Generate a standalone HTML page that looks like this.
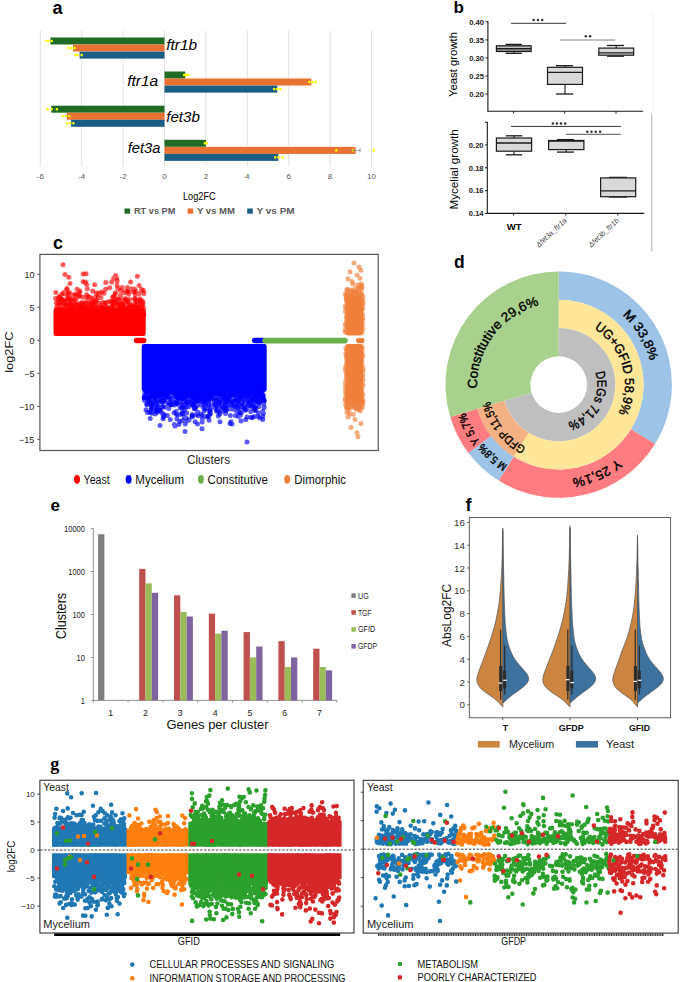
<!DOCTYPE html>
<html><head><meta charset="utf-8"><style>
html,body{margin:0;padding:0;background:#fff;overflow:hidden;}
svg{display:block;}
text{font-family:'Liberation Sans',sans-serif;}
</style></head><body>
<svg width="685" height="982" viewBox="0 0 685 982">
<rect width="685" height="982" fill="#fff"/>
<text x="52.6" y="14.2" font-size="18" font-weight="bold">a</text>
<line x1="40.3" y1="30.5" x2="40.3" y2="166.5" stroke="#d9d9d9" stroke-width="0.8"/>
<line x1="81.7" y1="30.5" x2="81.7" y2="166.5" stroke="#d9d9d9" stroke-width="0.8"/>
<line x1="123.1" y1="30.5" x2="123.1" y2="166.5" stroke="#d9d9d9" stroke-width="0.8"/>
<line x1="164.5" y1="30.5" x2="164.5" y2="166.5" stroke="#d9d9d9" stroke-width="0.8"/>
<line x1="205.9" y1="30.5" x2="205.9" y2="166.5" stroke="#d9d9d9" stroke-width="0.8"/>
<line x1="247.3" y1="30.5" x2="247.3" y2="166.5" stroke="#d9d9d9" stroke-width="0.8"/>
<line x1="288.7" y1="30.5" x2="288.7" y2="166.5" stroke="#d9d9d9" stroke-width="0.8"/>
<line x1="330.1" y1="30.5" x2="330.1" y2="166.5" stroke="#d9d9d9" stroke-width="0.8"/>
<line x1="371.5" y1="30.5" x2="371.5" y2="166.5" stroke="#d9d9d9" stroke-width="0.8"/>
<text x="40.3" y="179.3" font-size="8" text-anchor="middle" fill="#595959">-6</text>
<text x="81.7" y="179.3" font-size="8" text-anchor="middle" fill="#595959">-4</text>
<text x="123.1" y="179.3" font-size="8" text-anchor="middle" fill="#595959">-2</text>
<text x="164.5" y="179.3" font-size="8" text-anchor="middle" fill="#595959">0</text>
<text x="205.9" y="179.3" font-size="8" text-anchor="middle" fill="#595959">2</text>
<text x="247.3" y="179.3" font-size="8" text-anchor="middle" fill="#595959">4</text>
<text x="288.7" y="179.3" font-size="8" text-anchor="middle" fill="#595959">6</text>
<text x="330.1" y="179.3" font-size="8" text-anchor="middle" fill="#595959">8</text>
<text x="371.5" y="179.3" font-size="8" text-anchor="middle" fill="#595959">10</text>
<rect x="50.4" y="37.5" width="114.1" height="7.0" fill="#1f6b25"/>
<rect x="73.0" y="44.5" width="91.5" height="7.0" fill="#e97132"/>
<rect x="79.6" y="51.6" width="84.9" height="7.0" fill="#1a5e85"/>
<text x="166.2" y="49.7" font-size="13.8" font-style="italic" textLength="30.9" lengthAdjust="spacingAndGlyphs">ftr1b</text>
<rect x="164.5" y="71.5" width="20.7" height="7.0" fill="#1f6b25"/>
<rect x="164.5" y="78.5" width="146.8" height="7.0" fill="#e97132"/>
<rect x="164.5" y="85.6" width="112.8" height="7.0" fill="#1a5e85"/>
<text x="158.2" y="85.6" font-size="13.8" text-anchor="end" font-style="italic" textLength="31.0" lengthAdjust="spacingAndGlyphs">ftr1a</text>
<rect x="51.3" y="105.7" width="113.2" height="7.0" fill="#1f6b25"/>
<rect x="66.8" y="112.8" width="97.7" height="7.0" fill="#e97132"/>
<rect x="71.1" y="119.8" width="93.4" height="7.0" fill="#1a5e85"/>
<text x="166.2" y="121.7" font-size="13.8" font-style="italic" textLength="33.6" lengthAdjust="spacingAndGlyphs">fet3b</text>
<rect x="164.5" y="139.8" width="41.4" height="7.0" fill="#1f6b25"/>
<rect x="164.5" y="146.9" width="191.1" height="7.0" fill="#e97132"/>
<rect x="164.5" y="153.9" width="113.9" height="7.0" fill="#1a5e85"/>
<text x="160.3" y="153.2" font-size="13.8" text-anchor="end" font-style="italic" textLength="32.5" lengthAdjust="spacingAndGlyphs">fet3a</text>
<path d="M46.5 41.0h0M48.6 41.0h0M51.7 41.0h0M68.2 48.1h0M71.4 48.1h0M74.5 48.1h0M75.5 55.1h0M77.6 55.1h0M81.7 55.1h0M184.2 75.0h0M186.2 75.0h0M188.3 75.0h0M309.4 82.1h0M312.5 82.1h0M315.6 82.1h0M274.2 89.1h0M277.3 89.1h0M280.4 89.1h0M47.5 109.2h0M51.7 109.2h0M56.9 109.2h0M63.1 116.3h0M66.2 116.3h0M69.3 116.3h0M67.2 123.3h0M70.3 123.3h0M73.4 123.3h0M204.9 143.3h0M205.9 143.3h0M206.9 143.3h0M336.3 150.4h0M352.9 150.4h0M373.6 150.4h0M275.2 157.4h0M278.4 157.4h0M282.5 157.4h0" stroke="#ffff00" stroke-width="2.6" stroke-linecap="round" fill="none"/>
<line x1="350.8" y1="150.4" x2="360.1" y2="150.4" stroke="#7f7f7f" stroke-width="0.8"/>
<line x1="360.1" y1="148.4" x2="360.1" y2="152.4" stroke="#7f7f7f" stroke-width="0.8"/>
<text x="199.3" y="199.8" font-size="10.5" text-anchor="middle" textLength="32.6" lengthAdjust="spacingAndGlyphs">Log2FC</text>
<rect x="124.5" y="208.5" width="5.6" height="5.2" fill="#1f6b25"/>
<text x="134.0" y="214.3" font-size="8.8" font-weight="bold" fill="#595959" textLength="41.3" lengthAdjust="spacingAndGlyphs">RT vs PM</text>
<rect x="187.6" y="208.5" width="5.6" height="5.2" fill="#e97132"/>
<text x="197.0" y="214.3" font-size="8.8" font-weight="bold" fill="#595959" textLength="38" lengthAdjust="spacingAndGlyphs">Y vs MM</text>
<rect x="247.2" y="208.5" width="5.6" height="5.2" fill="#1a5e85"/>
<text x="256.6" y="214.3" font-size="8.8" font-weight="bold" fill="#595959" textLength="38" lengthAdjust="spacingAndGlyphs">Y  vs PM</text>
<text x="453.6" y="13.1" font-size="17" font-weight="bold">b</text>
<line x1="487.9" y1="21.3" x2="487.9" y2="111.6" stroke="#1a1a1a" stroke-width="1.1"/>
<line x1="487.4" y1="111.2" x2="643.0" y2="111.2" stroke="#1a1a1a" stroke-width="1.1"/>
<line x1="485.5" y1="21.8" x2="488.0" y2="21.8" stroke="#1a1a1a" stroke-width="1"/>
<text x="484.0" y="24.5" font-size="7.6" text-anchor="end" font-weight="bold" fill="#222">0.40</text>
<line x1="485.5" y1="39.9" x2="488.0" y2="39.9" stroke="#1a1a1a" stroke-width="1"/>
<text x="484.0" y="42.6" font-size="7.6" text-anchor="end" font-weight="bold" fill="#222">0.35</text>
<line x1="485.5" y1="57.9" x2="488.0" y2="57.9" stroke="#1a1a1a" stroke-width="1"/>
<text x="484.0" y="60.6" font-size="7.6" text-anchor="end" font-weight="bold" fill="#222">0.30</text>
<line x1="485.5" y1="76.0" x2="488.0" y2="76.0" stroke="#1a1a1a" stroke-width="1"/>
<text x="484.0" y="78.7" font-size="7.6" text-anchor="end" font-weight="bold" fill="#222">0.25</text>
<line x1="485.5" y1="94.0" x2="488.0" y2="94.0" stroke="#1a1a1a" stroke-width="1"/>
<text x="484.0" y="96.7" font-size="7.6" text-anchor="end" font-weight="bold" fill="#222">0.20</text>
<line x1="513.6" y1="111.0" x2="513.6" y2="113.6" stroke="#1a1a1a" stroke-width="1"/>
<line x1="564.6" y1="111.0" x2="564.6" y2="113.6" stroke="#1a1a1a" stroke-width="1"/>
<line x1="616.0" y1="111.0" x2="616.0" y2="113.6" stroke="#1a1a1a" stroke-width="1"/>
<text x="457.0" y="64.5" font-size="11.7" text-anchor="middle" textLength="65.2" lengthAdjust="spacingAndGlyphs" transform="rotate(-90 457.0 64.5)">Yeast growth</text>
<line x1="513.8" y1="44.4" x2="513.8" y2="45.8" stroke="#1a1a1a" stroke-width="1.1"/>
<line x1="513.8" y1="51.5" x2="513.8" y2="53.3" stroke="#1a1a1a" stroke-width="1.1"/>
<line x1="505.5" y1="44.4" x2="521.8" y2="44.4" stroke="#1a1a1a" stroke-width="1.3"/>
<line x1="505.5" y1="53.3" x2="521.8" y2="53.3" stroke="#1a1a1a" stroke-width="1.3"/>
<rect x="496.4" y="45.8" width="34.7" height="5.7" fill="#8f8f8f" stroke="#1a1a1a" stroke-width="1.2"/>
<line x1="496.4" y1="48.6" x2="531.1" y2="48.6" stroke="#1a1a1a" stroke-width="1.3"/>
<line x1="497.2" y1="47.3" x2="530.3" y2="47.3" stroke="#d8d8d8" stroke-width="0.9"/>
<line x1="565.0" y1="65.7" x2="565.0" y2="67.3" stroke="#1a1a1a" stroke-width="1.1"/>
<line x1="565.0" y1="84.4" x2="565.0" y2="94.0" stroke="#1a1a1a" stroke-width="1.1"/>
<line x1="556.0" y1="65.7" x2="573.0" y2="65.7" stroke="#1a1a1a" stroke-width="1.3"/>
<line x1="556.0" y1="94.0" x2="573.0" y2="94.0" stroke="#1a1a1a" stroke-width="1.3"/>
<rect x="547.5" y="67.3" width="35.0" height="17.1" fill="#d9d9d9" stroke="#1a1a1a" stroke-width="1.2"/>
<line x1="547.5" y1="72.3" x2="582.5" y2="72.3" stroke="#1a1a1a" stroke-width="1.3"/>
<line x1="616.2" y1="45.5" x2="616.2" y2="48.1" stroke="#1a1a1a" stroke-width="1.1"/>
<line x1="616.2" y1="55.2" x2="616.2" y2="56.2" stroke="#1a1a1a" stroke-width="1.1"/>
<line x1="607.0" y1="45.5" x2="624.0" y2="45.5" stroke="#1a1a1a" stroke-width="1.3"/>
<line x1="607.0" y1="56.2" x2="624.0" y2="56.2" stroke="#1a1a1a" stroke-width="1.3"/>
<rect x="598.8" y="48.1" width="34.9" height="7.1" fill="#d9d9d9" stroke="#1a1a1a" stroke-width="1.2"/>
<line x1="598.8" y1="52.8" x2="633.7" y2="52.8" stroke="#1a1a1a" stroke-width="1.3"/>
<line x1="511.0" y1="23.3" x2="566.0" y2="23.3" stroke="#333" stroke-width="1.0"/>
<line x1="560.0" y1="40.0" x2="615.3" y2="40.0" stroke="#808080" stroke-width="1.0"/>
<circle cx="533.6" cy="19.9" r="1.25" fill="#333"/>
<circle cx="538.0" cy="19.9" r="1.25" fill="#333"/>
<circle cx="542.2" cy="19.9" r="1.25" fill="#333"/>
<circle cx="585.8" cy="36.2" r="1.25" fill="#333"/>
<circle cx="590.1" cy="36.2" r="1.25" fill="#333"/>
<line x1="487.3" y1="122.0" x2="487.3" y2="213.8" stroke="#1a1a1a" stroke-width="1.1"/>
<line x1="486.8" y1="213.4" x2="644.3" y2="213.4" stroke="#1a1a1a" stroke-width="1.1"/>
<line x1="485.0" y1="122.2" x2="487.5" y2="122.2" stroke="#1a1a1a" stroke-width="1"/>
<line x1="485.0" y1="145.0" x2="487.5" y2="145.0" stroke="#1a1a1a" stroke-width="1"/>
<line x1="485.0" y1="167.8" x2="487.5" y2="167.8" stroke="#1a1a1a" stroke-width="1"/>
<line x1="485.0" y1="190.6" x2="487.5" y2="190.6" stroke="#1a1a1a" stroke-width="1"/>
<line x1="485.0" y1="213.4" x2="487.5" y2="213.4" stroke="#1a1a1a" stroke-width="1"/>
<text x="483.6" y="147.7" font-size="7.6" text-anchor="end" font-weight="bold" fill="#222">0.20</text>
<text x="483.6" y="170.5" font-size="7.6" text-anchor="end" font-weight="bold" fill="#222">0.18</text>
<text x="483.6" y="193.3" font-size="7.6" text-anchor="end" font-weight="bold" fill="#222">0.16</text>
<text x="483.6" y="216.1" font-size="7.6" text-anchor="end" font-weight="bold" fill="#222">0.14</text>
<line x1="513.6" y1="213.0" x2="513.6" y2="215.6" stroke="#1a1a1a" stroke-width="1"/>
<line x1="565.8" y1="213.0" x2="565.8" y2="215.6" stroke="#1a1a1a" stroke-width="1"/>
<line x1="617.8" y1="213.0" x2="617.8" y2="215.6" stroke="#1a1a1a" stroke-width="1"/>
<text x="457.9" y="169.4" font-size="11.7" text-anchor="middle" textLength="80.3" lengthAdjust="spacingAndGlyphs" transform="rotate(-90 457.9 169.4)">Mycelial growth</text>
<line x1="514.0" y1="135.8" x2="514.0" y2="138.0" stroke="#1a1a1a" stroke-width="1.1"/>
<line x1="514.0" y1="151.2" x2="514.0" y2="154.8" stroke="#1a1a1a" stroke-width="1.1"/>
<line x1="505.7" y1="135.8" x2="522.3" y2="135.8" stroke="#1a1a1a" stroke-width="1.3"/>
<line x1="505.7" y1="154.8" x2="522.3" y2="154.8" stroke="#1a1a1a" stroke-width="1.3"/>
<rect x="496.4" y="138.0" width="35.2" height="13.2" fill="#d9d9d9" stroke="#1a1a1a" stroke-width="1.2"/>
<line x1="496.4" y1="143.0" x2="531.6" y2="143.0" stroke="#1a1a1a" stroke-width="1.3"/>
<line x1="566.2" y1="139.6" x2="566.2" y2="140.5" stroke="#1a1a1a" stroke-width="1.1"/>
<line x1="566.2" y1="149.6" x2="566.2" y2="152.1" stroke="#1a1a1a" stroke-width="1.1"/>
<line x1="557.0" y1="139.6" x2="574.0" y2="139.6" stroke="#1a1a1a" stroke-width="1.3"/>
<line x1="557.0" y1="152.1" x2="574.0" y2="152.1" stroke="#1a1a1a" stroke-width="1.3"/>
<rect x="548.6" y="140.5" width="35.3" height="9.1" fill="#d9d9d9" stroke="#1a1a1a" stroke-width="1.2"/>
<line x1="548.6" y1="141.0" x2="583.9" y2="141.0" stroke="#1a1a1a" stroke-width="1.3"/>
<line x1="618.2" y1="177.4" x2="618.2" y2="177.9" stroke="#1a1a1a" stroke-width="1.1"/>
<line x1="618.2" y1="196.7" x2="618.2" y2="197.0" stroke="#1a1a1a" stroke-width="1.1"/>
<line x1="609.0" y1="177.4" x2="627.0" y2="177.4" stroke="#1a1a1a" stroke-width="1.3"/>
<line x1="609.0" y1="197.0" x2="627.0" y2="197.0" stroke="#1a1a1a" stroke-width="1.3"/>
<rect x="600.6" y="177.9" width="35.1" height="18.8" fill="#d9d9d9" stroke="#1a1a1a" stroke-width="1.2"/>
<line x1="600.6" y1="190.8" x2="635.7" y2="190.8" stroke="#1a1a1a" stroke-width="1.3"/>
<line x1="511.0" y1="126.4" x2="620.8" y2="126.4" stroke="#333" stroke-width="1.0"/>
<line x1="566.0" y1="134.3" x2="620.8" y2="134.3" stroke="#555" stroke-width="1.0"/>
<circle cx="552.9" cy="123.5" r="1.25" fill="#333"/>
<circle cx="556.9" cy="123.5" r="1.25" fill="#333"/>
<circle cx="561.0" cy="123.5" r="1.25" fill="#333"/>
<circle cx="565.2" cy="123.5" r="1.25" fill="#333"/>
<circle cx="587.3" cy="131.7" r="1.25" fill="#333"/>
<circle cx="591.5" cy="131.7" r="1.25" fill="#333"/>
<circle cx="595.7" cy="131.7" r="1.25" fill="#333"/>
<circle cx="600.1" cy="131.7" r="1.25" fill="#333"/>
<text x="514.2" y="230.2" font-size="9.5" text-anchor="middle" font-weight="bold">WT</text>
<text x="567.2" y="221.4" font-size="7.6" text-anchor="end" font-style="italic" fill="#444" textLength="38.5" lengthAdjust="spacingAndGlyphs" transform="rotate(-43 567.2 221.4)">Δfet3a_ftr1a</text>
<text x="619.4" y="221.4" font-size="7.6" text-anchor="end" font-style="italic" fill="#444" textLength="38.5" lengthAdjust="spacingAndGlyphs" transform="rotate(-43 619.4 221.4)">Δfet3b_ftr1b</text>
<line x1="651.8" y1="114.0" x2="651.8" y2="251.5" stroke="#b0b0b0" stroke-width="1"/>
<line x1="652.7" y1="12.0" x2="652.7" y2="113.0" stroke="#ececec" stroke-width="0.8"/>
<text x="53.0" y="248.5" font-size="18" font-weight="bold">c</text>
<rect x="53.5" y="308.6" width="92.2" height="27.5" rx="2.4" fill="#ff0000"/>
<path d="M81.9 312.5h0M94.7 284.7h0M68.5 293.5h0M114.9 313.1h0M130.2 314.5h0M92.4 302.9h0M118.9 309.1h0M85.3 312.1h0M63.7 300.9h0M64.2 310.5h0M76.2 311.1h0M122.4 312.3h0M134.5 311.5h0M79.6 296.5h0M94.1 311.0h0M112.1 307.5h0M72.9 307.0h0M103.9 309.8h0M128.2 312.7h0M100.8 308.9h0M66.5 300.6h0M91.4 303.0h0M66.4 307.0h0M61.9 310.3h0M90.0 314.9h0M123.7 313.6h0M86.6 284.4h0M85.0 313.2h0M61.3 310.1h0M72.1 308.7h0M118.9 299.6h0M91.3 304.8h0M96.2 295.7h0M77.2 306.6h0M92.3 304.1h0M117.7 312.2h0M129.7 304.8h0M95.3 312.1h0M56.7 311.8h0M75.8 313.2h0M84.6 305.0h0M110.8 307.8h0M64.3 304.4h0M111.1 306.5h0M106.1 306.3h0M59.6 305.9h0M120.4 310.8h0M99.5 313.5h0M136.9 313.5h0M95.0 311.3h0M96.2 299.8h0M78.3 312.1h0M83.1 305.9h0M135.1 314.2h0M101.2 312.8h0M118.7 312.2h0M96.4 293.0h0M100.9 314.6h0M90.4 313.7h0M141.5 313.6h0M90.7 312.8h0M105.8 282.4h0M109.5 314.5h0M80.0 291.0h0M75.1 303.1h0M84.6 305.0h0M125.7 315.1h0M113.5 297.7h0M98.2 311.6h0M87.3 288.7h0M83.8 308.4h0M75.9 313.1h0M74.2 315.2h0M80.0 310.7h0M125.2 298.7h0M133.5 292.0h0M94.4 314.6h0M93.5 308.1h0M124.9 312.7h0M81.1 308.4h0M67.4 306.4h0M135.0 314.0h0M83.7 306.4h0M132.2 310.6h0M130.0 313.3h0M58.1 314.3h0M129.7 314.7h0M62.9 301.5h0M120.4 290.4h0M134.4 305.9h0M113.4 296.8h0M62.2 299.5h0M80.8 314.9h0M140.3 302.5h0M61.4 305.5h0M130.3 313.1h0M61.3 310.9h0M137.3 311.6h0M79.5 313.9h0M70.3 304.2h0M74.6 307.9h0M110.8 307.4h0M129.1 314.2h0M138.7 306.9h0M134.3 314.2h0M84.4 307.2h0M127.3 301.1h0M68.9 310.5h0M101.4 313.7h0M70.1 310.9h0M115.2 298.7h0M118.2 310.3h0M103.7 308.0h0M137.1 313.3h0M85.0 303.1h0M133.8 310.1h0M70.1 312.3h0M129.2 307.9h0M127.2 312.2h0M84.1 311.5h0M143.5 290.6h0M101.7 292.0h0M142.6 312.6h0M84.4 305.7h0M80.7 308.7h0M65.8 308.7h0M83.1 281.8h0M65.7 312.8h0" stroke="#ff0000" stroke-width="5.0" stroke-linecap="round" fill="none" stroke-opacity="0.65"/>
<path d="M71.2 308.2h0M93.1 301.8h0M57.6 312.2h0M119.2 308.2h0M112.1 314.8h0M134.1 312.7h0M78.8 295.5h0M140.3 313.1h0M58.7 311.7h0M143.9 293.6h0M95.9 311.1h0M83.3 297.3h0M78.0 308.7h0M56.5 303.3h0M83.2 274.1h0M111.0 310.0h0M88.0 310.9h0M66.9 288.6h0M66.6 305.1h0M77.6 313.5h0M73.2 307.0h0M126.3 309.3h0M56.4 302.8h0M92.7 291.0h0M135.5 291.5h0M111.1 301.4h0M127.8 291.7h0M69.5 292.8h0M136.4 307.5h0M91.6 306.1h0M66.1 301.0h0M61.9 303.5h0M86.2 310.0h0M57.0 313.3h0M72.4 294.7h0M101.2 307.0h0M81.3 308.0h0M135.2 302.7h0M69.5 312.5h0M74.6 308.4h0M122.1 309.1h0M128.3 303.6h0M126.0 310.9h0M71.1 309.7h0M110.5 312.0h0M121.1 310.8h0M68.5 311.2h0M123.1 312.9h0M72.1 314.1h0M121.7 313.7h0M67.3 303.7h0M142.3 304.7h0M129.8 299.4h0M84.0 312.8h0M74.5 299.6h0M83.7 312.1h0M119.1 311.7h0M125.3 314.3h0M119.7 310.3h0M124.4 292.8h0M113.9 314.3h0M65.0 274.6h0M59.8 313.4h0M116.2 312.1h0M101.8 314.2h0M113.2 307.3h0M90.4 314.5h0M116.6 299.0h0M117.9 304.5h0M76.7 312.9h0M123.2 313.6h0M83.7 307.5h0M79.3 311.7h0M61.1 301.0h0M143.5 314.1h0M82.0 302.5h0M74.0 313.3h0M92.6 312.5h0M143.4 312.3h0M80.9 314.1h0M64.0 311.9h0M137.5 310.0h0M99.1 293.1h0M69.1 302.9h0M103.1 302.6h0M107.2 309.6h0M88.5 314.4h0M73.0 306.4h0M94.3 311.9h0M132.9 304.5h0M88.4 308.1h0M115.0 302.2h0M73.6 312.5h0M141.6 307.3h0M123.9 291.8h0M82.4 310.2h0M137.8 307.9h0M102.5 302.8h0M111.6 308.9h0M98.0 294.4h0M102.7 302.7h0M113.7 313.0h0M67.6 310.2h0M102.1 308.3h0M123.4 306.1h0M116.9 311.8h0M123.6 308.1h0M67.1 297.4h0M104.0 293.2h0M113.2 313.9h0M85.3 314.4h0M76.4 304.7h0M140.4 309.8h0M63.0 264.8h0M109.6 287.7h0M83.7 310.9h0M131.0 304.8h0M69.1 306.2h0" stroke="#ff0000" stroke-width="5.0" stroke-linecap="round" fill="none" stroke-opacity="0.65"/>
<path d="M57.9 313.9h0M132.7 313.1h0M101.5 307.0h0M71.5 303.1h0M82.8 307.3h0M140.5 311.1h0M77.2 308.5h0M130.2 312.6h0M138.4 313.8h0M91.5 305.4h0M72.6 314.2h0M96.6 313.0h0M88.2 307.6h0M61.7 299.0h0M125.6 302.2h0M85.0 312.4h0M79.4 293.0h0M61.1 309.2h0M127.4 287.4h0M88.3 313.7h0M104.9 302.9h0M141.6 289.4h0M117.0 285.0h0M57.9 304.6h0M135.4 294.4h0M99.8 314.6h0M60.2 313.0h0M63.9 314.1h0M71.0 305.4h0M122.7 314.6h0M63.4 314.8h0M113.6 278.4h0M125.4 311.1h0M67.1 305.2h0M69.0 310.5h0M85.2 314.2h0M96.2 310.0h0M116.3 310.9h0M113.4 303.0h0M79.4 294.0h0M120.3 313.0h0M120.6 303.2h0M74.8 307.0h0M73.0 304.2h0M88.1 296.8h0M128.4 314.8h0M106.3 309.3h0M117.7 313.2h0M123.8 309.1h0M95.2 310.5h0M70.4 313.4h0M142.4 300.9h0M111.7 282.0h0M113.0 301.5h0M113.1 313.0h0M110.0 309.6h0M124.1 306.0h0M89.1 303.4h0M78.9 305.9h0M133.5 307.5h0M133.1 306.9h0M88.9 313.7h0M96.4 307.2h0M76.0 299.0h0M112.3 309.0h0M136.0 312.8h0M96.0 313.3h0M57.2 307.1h0M76.4 311.7h0M73.3 311.1h0M115.1 311.1h0M65.7 309.7h0M57.0 308.6h0M84.5 315.2h0M75.2 309.9h0M97.6 315.1h0M92.7 313.8h0M135.8 306.9h0M141.9 306.0h0M115.5 292.8h0M58.6 300.9h0M71.3 299.2h0M66.2 306.6h0M77.2 304.7h0M59.3 296.6h0M137.1 300.8h0M117.7 315.1h0M124.2 308.9h0M90.9 311.6h0M78.8 309.6h0M63.1 315.0h0M64.9 308.0h0M71.5 312.6h0M128.5 292.6h0M103.1 307.6h0M61.6 309.6h0M107.0 312.9h0M116.7 303.1h0M123.7 309.7h0M96.0 301.2h0M114.3 312.6h0M136.8 305.1h0M74.9 312.9h0M87.4 311.4h0M75.3 295.1h0M125.8 312.1h0M68.8 297.7h0M105.1 312.0h0M62.9 311.2h0M116.6 278.1h0M128.0 314.7h0M139.2 293.4h0M121.1 306.2h0M133.3 310.9h0M128.7 294.2h0M93.2 311.7h0M115.6 275.6h0M64.7 313.2h0M137.4 276.3h0M111.4 313.5h0M73.8 312.8h0M133.8 312.0h0M132.6 308.3h0M91.5 313.3h0M59.0 302.0h0M62.4 313.7h0M76.2 312.4h0M99.7 314.4h0M142.6 313.2h0M74.5 312.8h0" stroke="#ff0000" stroke-width="5.0" stroke-linecap="round" fill="none" stroke-opacity="0.65"/>
<path d="M100.8 311.5h0M121.7 303.8h0M134.8 289.3h0M128.5 307.5h0M61.1 313.3h0M104.2 307.7h0M115.4 305.9h0M107.0 310.2h0M71.5 308.7h0M79.0 308.8h0M122.5 304.4h0M62.0 294.0h0M90.0 306.5h0M64.2 310.9h0M114.0 307.3h0M84.6 313.5h0M126.4 310.2h0M139.6 301.2h0M85.0 309.8h0M94.5 311.7h0M59.3 309.7h0M84.9 304.6h0M116.9 302.3h0M65.8 315.1h0M131.8 288.7h0M81.2 307.5h0M121.0 304.5h0M92.6 313.8h0M103.4 314.0h0M77.1 289.2h0M76.5 313.8h0M99.8 313.5h0M99.5 313.2h0M55.8 292.6h0M81.1 305.1h0M86.2 312.9h0M109.0 301.6h0M97.0 311.8h0M134.9 299.0h0M126.1 299.3h0M71.4 300.7h0M110.8 309.3h0M88.5 312.9h0M100.2 307.2h0M98.1 297.7h0M117.7 311.3h0M59.3 311.7h0M121.6 309.1h0M68.8 277.2h0M76.8 310.0h0M118.2 308.3h0M64.6 301.1h0M95.8 310.7h0M94.9 302.8h0M93.5 314.1h0M60.1 310.3h0M136.5 301.6h0M61.0 314.7h0M88.4 309.4h0M127.5 310.7h0M60.3 297.8h0M59.3 310.8h0M114.9 294.3h0M78.1 311.8h0M122.0 287.5h0M95.9 313.1h0M105.6 289.3h0M143.1 302.8h0M111.2 311.2h0M133.3 311.7h0M126.9 291.5h0M77.4 312.3h0M81.9 307.9h0M84.7 315.0h0M89.9 309.6h0M62.5 309.3h0M91.8 314.4h0M92.7 309.3h0M69.3 312.3h0M92.8 311.6h0M87.9 312.7h0M86.6 294.7h0M117.3 305.4h0M99.6 309.8h0M112.5 302.7h0M88.3 314.4h0M88.1 307.6h0M71.9 314.5h0M98.5 313.5h0M119.6 311.5h0M103.7 313.3h0M70.8 305.1h0M103.0 310.3h0M117.7 309.5h0M98.2 307.5h0M82.6 303.4h0M136.3 312.8h0M113.4 312.2h0M92.7 298.8h0M59.4 310.9h0M80.6 313.5h0M71.5 313.5h0M91.7 311.1h0M95.7 314.7h0M86.5 309.7h0M83.1 313.6h0M139.4 314.0h0M87.4 311.9h0M61.2 312.3h0M75.8 294.3h0M95.0 312.4h0M99.2 303.3h0M85.5 282.0h0M91.4 313.9h0M143.4 313.2h0M119.2 313.4h0M65.1 303.4h0M92.9 307.1h0M137.2 306.9h0M85.0 313.5h0M86.6 308.9h0M117.2 280.8h0M139.8 300.0h0M123.2 314.1h0M55.6 298.4h0M123.3 314.2h0M100.9 297.5h0M128.7 311.7h0M125.4 314.3h0M76.6 312.1h0M70.0 283.6h0" stroke="#ff0000" stroke-width="5.0" stroke-linecap="round" fill="none" stroke-opacity="0.65"/>
<path d="M58.6 310.1h0M101.3 309.9h0M139.7 309.1h0M103.0 312.0h0M95.7 313.3h0M89.0 299.9h0M74.9 312.0h0M94.9 306.6h0M94.9 307.5h0M77.1 312.5h0M83.7 311.1h0M140.6 300.2h0M127.7 311.5h0M79.9 311.6h0M131.0 306.5h0M108.0 307.5h0M62.5 315.0h0M126.5 313.5h0M56.3 309.0h0M120.6 306.6h0M122.4 315.2h0M58.2 313.4h0M86.1 273.8h0M80.9 312.6h0M107.8 308.9h0M64.8 292.0h0M96.5 314.5h0M59.6 303.0h0M105.8 313.2h0M100.4 313.5h0M59.3 298.4h0M72.7 314.6h0M77.2 312.6h0M67.4 310.7h0M90.8 297.6h0M95.3 313.5h0M130.6 282.0h0M124.1 310.0h0M70.5 308.6h0M139.7 313.9h0M86.4 306.9h0M135.5 314.5h0M58.5 297.8h0M139.1 285.4h0M140.6 312.2h0M123.1 300.9h0M89.0 297.0h0M137.4 313.2h0M67.0 289.7h0M125.0 301.1h0M61.4 313.4h0M113.0 304.5h0M120.6 297.7h0M80.8 304.9h0M102.6 308.6h0M75.1 312.2h0M143.7 307.8h0M113.3 314.7h0M94.6 305.5h0M124.9 309.1h0M129.1 314.8h0M102.1 315.0h0M79.1 303.6h0M117.9 310.1h0M130.2 310.8h0M135.5 312.1h0M117.8 288.3h0M72.6 311.0h0M123.1 308.4h0M96.0 305.6h0M120.4 295.6h0M65.8 293.8h0M68.7 313.8h0M60.3 311.4h0M113.3 312.2h0M102.4 311.0h0M143.9 315.2h0M94.4 313.3h0M99.1 311.2h0M88.0 304.1h0M123.6 310.4h0M69.8 298.9h0M93.8 315.1h0M104.3 313.1h0M74.5 313.4h0M71.1 310.5h0M86.5 314.9h0M71.8 311.7h0M120.3 304.6h0M87.3 300.2h0M89.2 313.7h0M122.4 307.5h0M138.7 307.1h0M112.8 297.3h0M139.9 298.8h0M94.9 314.6h0M59.5 312.4h0M82.1 313.4h0M107.6 315.0h0M76.7 314.8h0M94.2 303.4h0M128.2 307.7h0M126.5 312.8h0M105.6 313.1h0M94.1 306.3h0M63.2 314.0h0M76.8 313.2h0M105.4 310.1h0M79.7 305.5h0M124.0 307.7h0M79.6 309.7h0M82.5 305.5h0M106.1 302.7h0M63.4 293.3h0M84.7 308.5h0M134.8 298.6h0M121.7 305.3h0M80.5 314.9h0M94.5 304.8h0M68.7 309.9h0M132.7 307.2h0M128.2 309.7h0" stroke="#ff0000" stroke-width="5.0" stroke-linecap="round" fill="none" stroke-opacity="0.65"/>
<rect x="133.8" y="337.8" width="12.6" height="5.4" rx="2.7" fill="#ff0000"/>
<rect x="141.7" y="344.0" width="125" height="47.8" rx="2.4" fill="#0000ff"/>
<path d="M144.2 397.4h0M145.8 391.1h0M147.4 391.2h0M149.0 398.5h0M150.6 396.8h0M152.2 391.1h0M153.8 392.9h0M155.4 394.5h0M157.0 392.2h0M158.6 393.6h0M160.2 390.7h0M161.8 392.0h0M163.4 392.4h0M165.0 390.7h0M166.6 394.7h0M168.2 392.4h0M169.8 391.0h0M171.4 404.7h0M173.0 392.5h0M174.6 393.1h0M176.2 394.3h0M177.8 397.7h0M179.4 393.6h0M181.0 391.7h0M182.6 398.7h0M184.2 394.9h0M185.8 395.7h0M187.4 394.0h0M189.0 393.3h0M190.6 391.1h0M192.2 396.2h0M193.8 394.1h0M195.4 400.5h0M197.0 395.6h0M198.6 395.3h0M200.2 397.5h0M201.8 396.7h0M203.4 394.1h0M205.0 400.7h0M206.6 393.2h0M208.2 393.0h0M209.8 396.1h0M211.4 393.2h0M213.0 391.1h0M214.6 394.1h0M216.2 392.7h0M217.8 391.8h0M219.4 393.3h0M221.0 394.2h0M222.6 390.8h0M224.2 390.5h0M225.8 397.4h0M227.4 400.5h0M229.0 390.6h0M230.6 391.3h0M232.2 393.0h0M233.8 393.5h0M235.4 390.5h0M237.0 390.9h0M238.6 394.1h0M240.2 395.7h0M241.8 392.7h0M243.4 391.2h0M245.0 391.9h0M246.6 391.0h0M248.2 391.0h0M249.8 390.6h0M251.4 390.9h0M253.0 399.3h0M254.6 390.8h0M256.2 393.9h0M257.8 401.6h0M259.4 402.0h0M261.0 392.9h0M262.6 397.4h0M264.2 400.4h0" stroke="#0000ff" stroke-width="5.0" stroke-linecap="round" fill="none"/>
<path d="M230.6 408.9h0M197.5 390.2h0M164.2 394.7h0M203.2 396.0h0M238.1 396.8h0M217.7 392.4h0M205.5 391.4h0M189.9 387.5h0M230.5 391.2h0M167.6 393.2h0M185.9 391.2h0M207.4 393.5h0M215.3 391.7h0M210.1 413.5h0M252.5 417.5h0M224.7 391.3h0M159.7 388.3h0M150.7 386.5h0M177.4 403.8h0M151.4 410.4h0M203.7 394.0h0M224.6 398.4h0M243.1 387.8h0M188.7 389.7h0M238.1 390.9h0M162.9 388.2h0M246.9 407.9h0M196.6 387.5h0M234.2 409.4h0M190.3 398.0h0M237.3 399.6h0M162.8 401.8h0M185.2 392.3h0M219.1 404.1h0M187.4 400.3h0M199.3 394.9h0M232.1 407.1h0M256.5 388.5h0M234.8 393.7h0M249.5 403.5h0M170.0 389.0h0M208.1 392.7h0M221.8 387.3h0M170.3 392.8h0M219.7 414.1h0M249.4 389.7h0M196.0 386.7h0M151.6 394.4h0M255.7 407.4h0M208.7 400.9h0M236.2 393.5h0M246.8 398.1h0M239.9 405.6h0M246.8 393.9h0M219.3 389.3h0M194.3 408.7h0M162.9 389.1h0M155.0 398.5h0M202.4 393.4h0M156.4 411.0h0M262.0 396.8h0M189.6 400.7h0M163.5 417.1h0M188.0 387.1h0M241.8 397.1h0M181.5 391.1h0M252.9 388.4h0M211.5 391.0h0M192.1 414.4h0M216.1 391.8h0M240.2 415.2h0M197.6 401.3h0M176.6 390.5h0M201.0 390.7h0M238.2 390.3h0M203.0 399.4h0M189.1 419.7h0M250.7 411.6h0M216.9 401.0h0M180.8 399.1h0M250.1 405.0h0M203.7 399.5h0M227.9 407.3h0M209.4 397.5h0M176.2 402.6h0M221.9 408.5h0M222.5 399.3h0M160.1 410.2h0M176.7 394.1h0M218.5 402.9h0M146.3 391.8h0M170.2 388.4h0M235.1 389.3h0M192.7 395.8h0M169.4 402.9h0M164.2 399.5h0M181.6 398.3h0M163.2 414.2h0M257.4 390.8h0M248.5 386.6h0M211.7 395.3h0M208.0 387.7h0M177.2 389.6h0M151.6 393.2h0M177.6 388.6h0M185.1 393.3h0M238.5 416.5h0M150.7 404.1h0M245.6 397.3h0M233.9 387.5h0M243.0 407.6h0M225.2 401.1h0M158.5 388.0h0M221.4 411.4h0M207.9 416.8h0M259.7 402.7h0M205.0 391.8h0M261.8 392.3h0M146.0 397.5h0M230.2 395.5h0M184.6 395.7h0M196.3 391.9h0M264.2 407.5h0M167.0 389.1h0M235.6 400.2h0M246.0 409.8h0M163.5 394.5h0M193.1 387.9h0M168.1 393.1h0M178.7 388.6h0M225.6 413.5h0M164.0 396.5h0M213.4 393.2h0M208.1 399.6h0M192.0 399.3h0M242.1 389.7h0M151.0 395.0h0M234.2 394.7h0M193.6 404.8h0M176.9 419.1h0M159.0 395.2h0M178.3 398.2h0M255.5 390.6h0M163.5 414.9h0M225.8 397.6h0M216.5 411.3h0M187.0 391.7h0M151.6 389.5h0M179.2 394.2h0M247.3 392.6h0M226.8 409.4h0M203.8 390.2h0M145.3 395.8h0M250.3 400.3h0M204.2 393.1h0M254.6 410.4h0M147.7 388.9h0M237.4 398.1h0M241.9 397.0h0M168.7 394.0h0M258.1 416.4h0M152.0 406.7h0M182.3 413.4h0M257.1 403.2h0M253.7 403.3h0M231.6 404.2h0M144.5 394.2h0M249.6 395.3h0M253.5 390.3h0M182.5 412.4h0M215.8 388.4h0M178.9 391.5h0M211.5 393.4h0M162.9 390.3h0M252.9 389.1h0M184.5 395.6h0M187.5 420.7h0M241.8 392.0h0M197.6 391.7h0M205.9 391.8h0M248.8 392.6h0M190.1 403.9h0M182.5 420.5h0M176.4 396.5h0M162.2 413.2h0M258.4 396.0h0M187.5 396.5h0M186.0 407.2h0M254.7 386.8h0M172.5 395.5h0M252.2 395.3h0M215.8 403.5h0M186.8 404.4h0M217.8 401.6h0M158.9 401.9h0M227.9 397.8h0M188.7 391.7h0M261.2 398.5h0M249.8 391.5h0M234.8 395.2h0" stroke="#0000ff" stroke-width="5.0" stroke-linecap="round" fill="none" stroke-opacity="0.65"/>
<path d="M168.9 408.4h0M205.5 404.0h0M211.5 406.0h0M253.2 387.6h0M256.4 390.9h0M257.5 386.7h0M171.5 389.3h0M242.6 404.0h0M158.9 392.0h0M188.4 392.7h0M228.7 398.3h0M161.4 401.2h0M163.0 418.8h0M155.4 391.0h0M234.2 387.4h0M238.9 409.0h0M179.4 397.6h0M164.9 395.1h0M224.3 390.2h0M151.9 405.2h0M257.5 391.2h0M184.9 396.8h0M211.0 398.6h0M229.0 392.0h0M164.6 399.2h0M186.0 389.4h0M175.0 392.6h0M169.8 388.6h0M189.6 389.2h0M156.6 389.9h0M158.1 388.1h0M253.9 388.1h0M186.8 395.5h0M237.3 412.8h0M225.8 399.8h0M145.8 395.1h0M193.2 392.5h0M166.8 396.6h0M257.2 400.4h0M185.2 403.8h0M208.2 399.0h0M161.4 397.6h0M180.1 407.9h0M166.3 393.0h0M219.6 395.4h0M205.3 388.6h0M192.0 416.6h0M181.7 396.3h0M163.1 397.4h0M165.2 407.3h0M231.9 404.5h0M202.7 392.0h0M222.6 403.8h0M192.9 405.6h0M252.0 387.9h0M215.7 408.4h0M249.5 401.5h0M174.5 405.0h0M254.1 408.5h0M190.5 393.0h0M224.3 387.3h0M193.8 391.6h0M162.6 388.3h0M208.9 396.2h0M192.8 392.7h0M240.1 398.9h0M246.9 397.1h0M209.9 394.6h0M212.4 388.3h0M253.4 389.3h0M160.0 392.7h0M202.6 386.8h0M224.8 387.0h0M221.8 407.3h0M157.5 412.2h0M233.7 398.6h0M161.0 394.9h0M247.0 416.9h0M195.4 407.5h0M174.3 424.6h0M233.0 391.1h0M197.6 411.9h0M213.2 406.9h0M237.9 389.5h0M152.6 388.3h0M257.8 394.8h0M186.9 388.1h0M255.4 398.3h0M262.8 419.4h0M231.8 391.4h0M236.6 393.0h0M188.0 389.1h0M182.9 406.0h0M222.4 386.8h0M154.6 388.1h0M173.1 402.2h0M179.0 394.6h0M196.3 414.6h0M147.4 412.5h0M238.1 401.2h0M196.5 397.2h0M180.4 387.0h0M191.8 399.4h0M223.1 388.4h0M261.2 390.0h0M161.6 394.6h0M244.0 391.0h0M169.3 391.8h0M256.8 393.3h0M219.8 394.8h0M213.2 390.4h0M163.2 398.0h0M235.4 415.4h0M197.9 395.1h0M161.0 391.2h0M183.4 406.1h0M178.8 387.9h0M252.4 390.5h0M212.9 404.7h0M228.3 404.9h0M209.1 420.2h0M217.8 388.9h0M224.5 393.8h0M197.9 387.8h0M159.7 394.7h0M189.3 389.9h0M226.1 410.4h0M152.3 387.8h0M238.2 395.1h0M251.8 406.7h0M232.6 401.1h0M241.0 420.9h0M176.5 404.1h0M252.5 392.2h0M154.8 387.6h0M233.8 392.2h0M240.4 394.6h0M185.4 396.6h0M216.7 393.2h0M170.1 390.4h0M214.1 401.7h0M258.7 393.0h0M156.7 395.7h0M149.6 388.6h0M150.8 396.4h0M192.1 416.7h0M251.9 388.1h0M163.4 386.7h0M246.3 396.3h0M231.7 400.0h0M255.3 396.3h0M228.7 392.4h0M195.5 395.0h0M216.3 393.3h0M201.1 401.2h0M194.1 387.7h0M242.8 392.0h0M228.6 394.2h0M168.5 405.5h0M226.4 396.6h0M226.9 403.7h0M244.8 406.7h0M201.0 398.9h0M237.9 389.4h0M232.4 396.3h0M209.6 411.0h0M205.3 393.1h0M216.0 401.0h0M150.8 401.9h0M174.0 412.8h0M225.5 406.8h0M236.0 386.6h0M195.0 395.2h0M212.4 389.3h0M249.8 392.9h0M198.1 393.8h0M149.2 401.4h0M186.0 392.2h0M185.0 431.4h0M175.0 426.1h0" stroke="#0000ff" stroke-width="5.0" stroke-linecap="round" fill="none" stroke-opacity="0.65"/>
<path d="M250.7 396.1h0M176.6 392.5h0M225.2 389.3h0M239.4 391.9h0M157.7 406.0h0M258.6 397.8h0M231.0 391.3h0M146.9 404.8h0M171.3 399.1h0M171.2 388.0h0M195.2 396.3h0M151.6 390.9h0M257.0 387.7h0M201.2 414.0h0M158.9 391.7h0M147.7 388.9h0M225.3 402.2h0M192.0 391.0h0M247.6 387.4h0M232.4 402.1h0M188.0 395.3h0M251.7 389.5h0M182.2 388.7h0M151.2 395.8h0M179.5 388.2h0M255.9 410.2h0M261.1 393.2h0M151.3 391.9h0M205.7 394.8h0M225.5 390.8h0M261.7 399.7h0M205.5 408.7h0M224.1 399.4h0M193.4 404.2h0M167.6 393.3h0M263.3 394.9h0M182.1 388.2h0M162.3 395.2h0M256.0 393.4h0M186.2 418.2h0M212.5 398.6h0M183.0 396.5h0M237.0 407.6h0M208.6 393.2h0M249.7 402.3h0M179.2 401.1h0M215.8 387.6h0M170.1 387.7h0M159.8 394.8h0M162.4 389.9h0M226.9 388.2h0M176.6 414.3h0M156.3 387.1h0M208.8 416.0h0M168.9 387.6h0M249.5 392.8h0M184.4 410.6h0M147.4 399.5h0M235.1 390.4h0M161.7 399.3h0M224.1 390.0h0M162.0 387.6h0M244.9 390.8h0M220.6 389.6h0M156.0 410.2h0M198.6 400.4h0M204.4 405.7h0M256.2 389.4h0M237.9 408.3h0M149.3 400.9h0M207.6 407.1h0M156.9 406.7h0M223.1 399.7h0M191.3 387.0h0M215.6 386.6h0M155.1 387.0h0M195.4 403.1h0M189.6 392.1h0M259.0 406.5h0M252.9 390.7h0M149.2 398.0h0M195.8 388.8h0M155.8 394.7h0M239.2 394.7h0M190.9 386.6h0M152.1 388.3h0M155.1 413.9h0M177.3 393.4h0M156.9 398.4h0M202.2 392.5h0M257.8 389.3h0M170.3 419.6h0M252.1 399.8h0M178.6 396.4h0M182.2 392.0h0M164.0 414.8h0M179.6 396.5h0M151.4 389.1h0M180.2 387.9h0M224.7 395.4h0M246.2 395.6h0M195.8 404.0h0M223.6 393.7h0M148.7 397.2h0M232.1 423.9h0M232.9 395.1h0M222.5 393.3h0M232.4 391.0h0M197.1 389.9h0M240.3 392.6h0M255.6 394.1h0M247.2 387.8h0M196.7 387.9h0M146.0 409.8h0M217.8 387.5h0M257.0 386.9h0M203.8 403.8h0M244.1 396.2h0M187.9 392.5h0M235.9 390.2h0M236.7 406.4h0M163.0 393.9h0M165.8 388.0h0M250.7 393.6h0M215.1 388.5h0M234.6 394.3h0M228.9 387.8h0M171.5 390.7h0M246.6 403.3h0M182.1 391.7h0M201.3 389.7h0M177.3 387.0h0M218.9 399.8h0M201.6 391.1h0M225.9 398.2h0M177.2 403.3h0M159.3 410.5h0M249.4 402.8h0M170.8 389.2h0M248.5 388.4h0M249.6 387.7h0M192.5 389.2h0M247.3 388.7h0M227.7 390.2h0M210.7 389.3h0M167.2 386.9h0M239.6 390.6h0M231.7 393.3h0M206.6 396.0h0M159.1 389.1h0M160.7 400.8h0M168.0 396.7h0M225.8 386.6h0M216.1 406.4h0M245.2 401.4h0M201.3 386.8h0M195.7 393.0h0M159.8 394.3h0M238.5 393.8h0M176.1 411.4h0M231.8 386.6h0M257.2 401.8h0M241.4 412.8h0M184.5 417.5h0M172.9 391.6h0M180.3 398.9h0M174.9 388.2h0M225.1 410.4h0M197.0 406.1h0M244.0 408.5h0M162.9 400.9h0M240.5 393.5h0M167.3 388.5h0M178.9 424.6h0M260.9 388.4h0M154.6 401.6h0M180.9 395.0h0M237.3 390.1h0M154.5 397.3h0M167.7 402.7h0M180.5 402.6h0M195.2 390.9h0M218.3 416.1h0M199.6 393.1h0M219.5 390.4h0M259.9 418.1h0M254.5 395.7h0M240.3 394.4h0M211.6 386.7h0M255.2 409.3h0M161.3 388.0h0M254.2 416.5h0M171.4 401.7h0M231.0 421.7h0M197.8 393.0h0M151.2 409.0h0M260.7 393.7h0M224.5 406.4h0M158.3 390.7h0M198.0 390.2h0M217.3 410.4h0M202.0 428.7h0M160.0 425.4h0" stroke="#0000ff" stroke-width="5.0" stroke-linecap="round" fill="none" stroke-opacity="0.65"/>
<path d="M178.1 391.8h0M241.9 391.3h0M234.5 405.7h0M183.0 388.6h0M174.1 391.4h0M155.5 403.0h0M248.7 399.8h0M200.8 404.7h0M156.5 408.2h0M258.3 397.5h0M160.3 389.7h0M244.0 399.9h0M262.8 411.3h0M208.8 405.3h0M217.6 394.2h0M151.6 407.7h0M189.9 402.6h0M229.3 395.1h0M197.5 424.0h0M183.0 413.5h0M262.6 399.5h0M245.3 410.3h0M154.1 397.3h0M256.8 389.7h0M230.4 415.6h0M228.9 391.4h0M155.8 403.5h0M193.2 396.9h0M151.8 387.9h0M244.0 390.1h0M215.9 399.0h0M194.2 387.4h0M171.6 386.7h0M151.4 387.7h0M249.8 399.1h0M180.1 392.8h0M161.9 390.1h0M205.9 398.9h0M196.8 392.5h0M248.3 405.1h0M263.4 413.2h0M191.1 394.1h0M168.9 396.6h0M247.1 400.6h0M262.0 395.6h0M161.3 399.4h0M193.9 391.0h0M262.8 390.1h0M186.7 391.6h0M170.1 399.0h0M252.0 403.3h0M231.8 387.3h0M212.2 387.2h0M234.3 405.5h0M209.3 397.4h0M250.4 391.1h0M159.2 388.8h0M234.7 391.8h0M169.7 387.5h0M185.8 401.7h0M229.2 401.3h0M202.2 422.1h0M221.7 387.7h0M197.6 388.0h0M258.3 413.0h0M256.7 386.8h0M163.0 389.5h0M239.1 386.5h0M238.2 401.7h0M254.4 408.1h0M199.8 394.5h0M234.1 402.4h0M179.7 396.6h0M225.4 404.0h0M197.5 400.9h0M197.6 389.5h0M164.1 401.6h0M223.4 395.5h0M153.3 390.7h0M245.9 392.8h0M181.7 403.2h0M221.0 391.1h0M235.9 404.8h0M204.9 408.8h0M159.6 396.5h0M231.5 389.8h0M243.0 394.0h0M261.3 399.4h0M195.2 387.8h0M262.6 411.6h0M161.7 395.1h0M220.0 421.7h0M209.3 387.3h0M152.3 403.5h0M192.4 416.0h0M260.2 386.6h0M203.1 406.9h0M209.9 411.6h0M209.8 387.2h0M210.2 413.8h0M206.0 398.2h0M156.4 392.3h0M197.0 388.1h0M224.6 395.6h0M227.4 402.8h0M251.3 401.5h0M226.3 392.6h0M166.8 391.3h0M204.4 393.9h0M167.3 415.6h0M218.8 402.4h0M198.6 393.1h0M248.5 398.4h0M228.3 394.5h0M255.1 400.9h0M204.5 391.0h0M259.5 398.2h0M211.4 389.7h0M174.3 391.8h0M147.6 392.2h0M241.5 398.0h0M181.6 407.6h0M254.4 394.4h0M179.9 387.2h0M179.2 388.3h0M219.8 391.4h0M237.3 397.3h0M244.1 388.6h0M219.8 403.1h0M262.7 390.4h0M176.1 403.2h0M161.1 396.7h0M194.8 401.3h0M206.8 386.8h0M202.4 418.6h0M150.1 412.2h0M186.1 413.2h0M247.9 395.0h0M214.6 388.1h0M231.6 401.2h0M146.8 404.1h0M231.5 392.9h0M213.2 391.4h0M161.5 389.9h0M225.2 398.3h0M160.4 410.6h0M222.7 392.0h0M237.7 389.1h0M182.4 413.2h0M196.6 388.7h0M189.7 387.3h0M227.4 388.2h0M150.5 402.2h0M197.0 399.5h0M186.6 413.1h0M253.7 401.5h0M226.9 395.1h0M219.4 411.9h0M233.6 406.1h0M151.4 406.2h0M246.1 393.7h0M183.8 398.0h0M186.8 389.2h0M150.2 418.6h0M176.6 396.7h0M185.2 424.1h0M249.7 405.7h0M181.8 387.2h0M215.0 404.0h0M212.5 388.0h0M193.4 394.4h0M235.1 402.5h0M201.0 386.6h0M201.6 388.8h0M261.2 391.0h0M209.8 386.6h0M250.9 417.5h0M256.8 393.8h0M239.9 412.8h0M258.1 393.2h0M208.0 398.9h0M252.5 403.0h0M195.2 387.6h0M222.2 391.7h0M207.9 387.8h0M186.3 392.4h0M212.0 394.1h0M190.1 388.7h0M225.2 392.8h0M162.8 406.5h0M223.6 391.1h0M247.0 441.9h0" stroke="#0000ff" stroke-width="5.0" stroke-linecap="round" fill="none" stroke-opacity="0.65"/>
<path d="M237.2 404.4h0M254.1 406.6h0M168.5 397.7h0M220.3 389.5h0M162.9 387.9h0M263.5 397.7h0M244.3 386.8h0M195.1 421.8h0M218.8 405.8h0M231.6 393.8h0M257.1 400.1h0M245.1 387.6h0M253.3 393.5h0M229.7 392.4h0M234.3 387.7h0M192.9 397.0h0M255.8 393.7h0M220.0 401.8h0M188.6 406.7h0M194.7 388.6h0M216.8 398.3h0M204.9 402.3h0M226.0 388.5h0M228.9 389.4h0M226.0 393.2h0M150.1 400.4h0M159.4 387.0h0M251.7 392.4h0M190.0 388.4h0M194.6 408.3h0M186.3 402.4h0M162.9 389.8h0M179.1 397.0h0M193.5 389.5h0M220.8 396.8h0M218.0 388.6h0M213.6 398.5h0M177.2 388.0h0M241.8 404.5h0M151.7 413.2h0M180.3 394.9h0M251.7 391.1h0M195.1 399.2h0M206.3 390.7h0M155.2 404.3h0M187.4 406.4h0M251.6 394.0h0M193.0 390.6h0M210.4 387.6h0M158.6 391.6h0M200.9 400.4h0M155.4 397.5h0M146.4 391.9h0M168.4 387.6h0M166.0 396.7h0M173.6 389.2h0M157.4 408.0h0M160.7 407.0h0M263.9 403.8h0M187.3 387.5h0M180.5 387.6h0M156.5 411.3h0M175.3 398.2h0M217.5 394.0h0M193.4 405.2h0M237.3 388.2h0M221.3 391.1h0M207.3 398.5h0M251.1 392.4h0M262.8 416.3h0M255.5 398.4h0M204.3 410.8h0M235.9 406.2h0M156.4 402.9h0M258.7 387.2h0M152.6 389.9h0M228.4 399.0h0M238.0 389.7h0M179.3 396.1h0M262.9 388.6h0M202.7 396.7h0M245.7 419.8h0M145.8 389.4h0M206.3 387.4h0M162.6 406.6h0M150.5 412.4h0M208.8 402.1h0M150.7 403.4h0M176.4 401.0h0M254.1 389.7h0M182.8 407.2h0M161.8 390.4h0M159.1 394.6h0M238.3 403.9h0M254.1 398.2h0M234.8 392.3h0M210.1 389.8h0M154.2 399.1h0M151.9 397.9h0M204.3 388.1h0M179.7 421.6h0M156.2 404.6h0M164.4 393.2h0M193.6 387.0h0M242.7 387.5h0M153.2 395.0h0M150.8 389.4h0M215.8 395.0h0M239.9 387.8h0M253.8 386.6h0M249.2 387.8h0M202.8 415.6h0M149.9 391.8h0M260.8 391.4h0M194.4 407.5h0M216.8 397.1h0M149.6 398.4h0M180.2 387.6h0M200.5 398.1h0M186.5 399.3h0M217.8 389.0h0M186.3 398.0h0M207.9 390.9h0M192.8 386.5h0M210.5 393.3h0M202.4 392.9h0M239.4 393.7h0M226.0 398.7h0M189.0 401.5h0M180.3 386.9h0M206.5 416.6h0M210.3 410.1h0M256.0 386.9h0M223.6 407.6h0M220.2 395.7h0M206.5 387.0h0M177.5 415.0h0M210.9 396.8h0M165.3 393.2h0M258.1 390.3h0M181.8 386.9h0M198.2 415.8h0M150.9 391.1h0M182.4 390.7h0M237.8 393.8h0M236.1 400.2h0M186.8 388.1h0M175.0 388.4h0M149.4 391.6h0M183.9 389.3h0M235.9 387.9h0M197.5 389.0h0M180.1 389.0h0M225.9 393.4h0M187.6 394.8h0M180.6 414.5h0M247.2 392.0h0M230.5 394.6h0M261.8 388.0h0M164.0 387.6h0M250.5 396.1h0M258.9 395.1h0M216.9 391.8h0M174.7 396.5h0M218.2 406.5h0M239.2 395.1h0M150.7 389.8h0M225.0 398.4h0M147.0 399.5h0M253.1 391.8h0M177.2 393.0h0M194.3 401.2h0M147.2 399.8h0M172.5 387.8h0M239.4 400.0h0M156.4 400.8h0M237.6 401.0h0M234.5 389.9h0M242.1 400.8h0M229.2 397.4h0M225.8 408.2h0M256.2 391.0h0M263.0 396.1h0M193.9 397.1h0M148.3 396.2h0M191.3 396.6h0M250.9 396.1h0M214.0 395.8h0M144.5 400.5h0M157.7 386.5h0M158.3 395.4h0M187.6 392.3h0M219.2 395.2h0M228.1 391.5h0M230.0 423.5h0" stroke="#0000ff" stroke-width="5.0" stroke-linecap="round" fill="none" stroke-opacity="0.65"/>
<rect x="252.0" y="337.8" width="14" height="5.4" rx="2.7" fill="#0000ff"/>
<rect x="262.3" y="337.8" width="85.5" height="5.6" rx="2.8" fill="#6ab04c"/>
<rect x="345.5" y="296.7" width="17.6" height="38.7" rx="2.4" fill="#f07f3a"/>
<rect x="345.5" y="344.1" width="17.6" height="59.6" rx="2.4" fill="#f07f3a"/>
<path d="M354.3 292.7h0M360.4 290.2h0M346.9 289.6h0M361.7 289.0h0M357.4 299.0h0M356.3 295.6h0M358.4 288.4h0M361.0 297.3h0M355.6 297.0h0M361.0 270.3h0M348.0 278.9h0M357.2 402.3h0M347.6 407.6h0M351.6 406.5h0M351.0 427.4h0M345.7 323.6h0M346.6 321.1h0M345.4 311.5h0M345.6 305.8h0M346.6 299.0h0M346.6 350.5h0M345.3 368.7h0M345.9 380.4h0M345.3 383.4h0M345.4 400.5h0M346.3 407.4h0M362.8 328.5h0M362.7 308.6h0M363.1 302.8h0M362.7 356.0h0M363.1 371.0h0M362.5 373.4h0M362.2 397.7h0M351.9 300.8h0M347.8 295.8h0M353.8 298.3h0M354.9 296.1h0M346.6 401.6h0M350.1 398.7h0M356.0 401.0h0M348.8 404.2h0M356.7 409.6h0" stroke="#f07f3a" stroke-width="5.0" stroke-linecap="round" fill="none" stroke-opacity="0.65"/>
<path d="M358.1 285.4h0M352.0 298.4h0M359.8 293.8h0M350.1 295.3h0M361.5 287.6h0M348.7 289.7h0M356.4 298.4h0M352.7 293.2h0M357.9 285.1h0M346.7 296.2h0M347.8 289.8h0M347.0 298.2h0M350.9 290.0h0M355.1 291.4h0M352.0 281.6h0M362.0 286.8h0M359.0 406.9h0M348.6 400.2h0M358.1 406.9h0M362.1 400.6h0M349.4 414.0h0M349.7 400.0h0M349.2 402.8h0M347.3 403.9h0M353.8 404.1h0M347.2 400.6h0M361.5 404.9h0M351.6 400.7h0M355.0 419.5h0M361.0 423.5h0M345.3 329.8h0M346.8 314.7h0M346.8 301.8h0M345.9 348.1h0M346.6 362.4h0M346.4 376.9h0M362.5 323.8h0M361.8 310.6h0M362.5 305.0h0M361.9 361.6h0M362.3 365.4h0M363.1 368.3h0M362.3 407.5h0M346.2 298.8h0M349.1 295.2h0M357.2 398.3h0M354.0 401.0h0M359.8 405.1h0M357.8 406.7h0M349.0 407.7h0M357.2 406.7h0M359.4 408.7h0M349.1 410.8h0M354.3 407.8h0M357.2 407.6h0" stroke="#f07f3a" stroke-width="5.0" stroke-linecap="round" fill="none" stroke-opacity="0.65"/>
<path d="M358.7 292.2h0M358.2 298.3h0M361.2 284.1h0M357.8 296.7h0M348.8 295.3h0M358.0 295.8h0M352.6 299.0h0M359.6 287.5h0M350.8 296.0h0M357.1 298.4h0M359.0 289.9h0M350.7 294.9h0M358.3 293.5h0M354.0 263.1h0M360.0 278.3h0M359.0 403.7h0M355.6 403.6h0M355.9 400.5h0M359.6 407.3h0M355.1 403.2h0M356.7 407.9h0M357.0 432.7h0M345.3 332.2h0M345.4 325.5h0M345.4 293.7h0M345.8 353.8h0M345.6 392.4h0M361.6 325.6h0M362.6 314.6h0M361.7 293.8h0M362.4 347.3h0M362.0 350.5h0M361.7 358.6h0M363.0 380.3h0M361.8 383.8h0M362.8 394.4h0M362.9 403.3h0M349.9 300.6h0M357.6 293.0h0M351.3 293.1h0M359.8 400.2h0" stroke="#f07f3a" stroke-width="5.0" stroke-linecap="round" fill="none" stroke-opacity="0.65"/>
<path d="M353.0 283.9h0M360.3 299.1h0M350.7 298.4h0M353.5 298.4h0M348.7 299.1h0M360.8 299.0h0M352.6 297.0h0M350.0 271.7h0M353.3 414.3h0M353.2 403.3h0M353.7 405.4h0M346.3 317.6h0M345.8 308.3h0M346.3 356.3h0M346.3 374.6h0M345.6 389.6h0M345.9 394.9h0M345.6 404.5h0M362.8 319.7h0M363.0 296.6h0M362.8 376.8h0M362.9 400.8h0M349.4 300.5h0M350.8 297.3h0M347.5 296.3h0M350.7 296.4h0M353.1 295.7h0M352.2 399.3h0M352.3 401.7h0" stroke="#f07f3a" stroke-width="5.0" stroke-linecap="round" fill="none" stroke-opacity="0.65"/>
<path d="M349.8 299.1h0M357.5 295.5h0M348.6 295.8h0M360.8 298.2h0M350.3 291.6h0M355.7 295.4h0M361.3 285.4h0M355.0 294.3h0M355.1 288.8h0M350.5 294.8h0M351.2 299.3h0M361.1 298.2h0M347.2 297.3h0M353.0 290.4h0M349.8 297.7h0M347.3 293.3h0M359.0 267.0h0M357.0 275.0h0M360.4 407.0h0M348.8 403.9h0M347.0 412.5h0M358.4 400.0h0M360.1 411.1h0M353.0 403.0h0M362.1 404.4h0M358.0 401.3h0M358.0 436.7h0M348.0 416.9h0M345.9 295.8h0M346.7 359.0h0M345.9 366.0h0M345.8 371.0h0M345.6 386.4h0M345.2 398.6h0M362.1 332.1h0M362.5 317.8h0M362.7 300.3h0M362.3 354.0h0M363.1 385.3h0M361.8 388.4h0M361.9 391.6h0M347.0 299.8h0M358.2 298.3h0M361.1 300.1h0M356.7 298.2h0M350.0 294.3h0M348.7 293.3h0M356.3 292.9h0M360.6 294.7h0M349.9 291.3h0M350.2 401.3h0M357.5 403.9h0M351.1 406.9h0M347.1 407.3h0M347.4 409.8h0" stroke="#f07f3a" stroke-width="5.0" stroke-linecap="round" fill="none" stroke-opacity="0.65"/>
<rect x="356.0" y="337.9" width="8.6" height="5.4" rx="2.7" fill="#f07f3a"/>
<rect x="39.9" y="254.4" width="338.3" height="196.1" fill="none" stroke="#555" stroke-width="1.2"/>
<line x1="37.2" y1="274.3" x2="39.9" y2="274.3" stroke="#555" stroke-width="1"/>
<text x="34.4" y="277.6" font-size="9" text-anchor="end" fill="#222">10</text>
<line x1="37.2" y1="307.3" x2="39.9" y2="307.3" stroke="#555" stroke-width="1"/>
<text x="34.4" y="310.6" font-size="9" text-anchor="end" fill="#222">5</text>
<line x1="37.2" y1="340.3" x2="39.9" y2="340.3" stroke="#555" stroke-width="1"/>
<text x="34.4" y="343.6" font-size="9" text-anchor="end" fill="#222">0</text>
<line x1="37.2" y1="373.3" x2="39.9" y2="373.3" stroke="#555" stroke-width="1"/>
<text x="34.4" y="376.6" font-size="9" text-anchor="end" fill="#222">−5</text>
<line x1="37.2" y1="406.3" x2="39.9" y2="406.3" stroke="#555" stroke-width="1"/>
<text x="34.4" y="409.6" font-size="9" text-anchor="end" fill="#222">−10</text>
<line x1="37.2" y1="439.3" x2="39.9" y2="439.3" stroke="#555" stroke-width="1"/>
<text x="34.4" y="442.6" font-size="9" text-anchor="end" fill="#222">−15</text>
<text x="13.2" y="352.1" font-size="11.8" text-anchor="middle" fill="#111" textLength="41.4" lengthAdjust="spacingAndGlyphs" transform="rotate(-90 13.2 352.1)">log2FC</text>
<text x="208.5" y="464.0" font-size="13" text-anchor="middle" fill="#222" textLength="43" lengthAdjust="spacingAndGlyphs">Clusters</text>
<ellipse cx="77.0" cy="479.3" rx="3.0" ry="4.4" fill="#ff0000"/>
<text x="83.6" y="483.6" font-size="12" fill="#111" textLength="26" lengthAdjust="spacingAndGlyphs">Yeast</text>
<ellipse cx="128.6" cy="479.3" rx="3.0" ry="4.4" fill="#0000ff"/>
<text x="135.3" y="483.6" font-size="12" fill="#111" textLength="48.7" lengthAdjust="spacingAndGlyphs">Mycelium</text>
<ellipse cx="200.9" cy="479.3" rx="3.0" ry="4.4" fill="#6ab04c"/>
<text x="207.6" y="483.6" font-size="12" fill="#111" textLength="60.4" lengthAdjust="spacingAndGlyphs">Constitutive</text>
<ellipse cx="287.2" cy="479.3" rx="3.0" ry="4.4" fill="#f07f3a"/>
<text x="294.3" y="483.6" font-size="12" fill="#111" textLength="51.7" lengthAdjust="spacingAndGlyphs">Dimorphic</text>
<text x="454.0" y="267.8" font-size="17.5" font-weight="bold">d</text>
<path d="M558.70 271.40A113.2 113.2 0 0 1 655.01 444.08L630.93 429.21A84.9 84.9 0 0 0 558.70 299.70Z" fill="#9dc3e6"/>
<path d="M655.01 444.08A113.2 113.2 0 0 1 498.71 480.60L513.71 456.60A84.9 84.9 0 0 0 630.93 429.21Z" fill="#ff7c80"/>
<path d="M498.71 480.60A113.2 113.2 0 0 1 468.41 452.88L490.99 435.81A84.9 84.9 0 0 0 513.71 456.60Z" fill="#9dc3e6"/>
<path d="M468.41 452.88A113.2 113.2 0 0 1 450.22 416.94L477.34 408.85A84.9 84.9 0 0 0 490.99 435.81Z" fill="#ff7c80"/>
<path d="M558.70 299.70A84.9 84.9 0 1 1 513.71 456.60L528.71 432.60A56.6 56.6 0 1 0 558.70 328.00Z" fill="#ffe699"/>
<path d="M513.71 456.60A84.9 84.9 0 0 1 477.34 408.85L504.46 400.77A56.6 56.6 0 0 0 528.71 432.60Z" fill="#f4b183"/>
<path d="M558.70 328.00A56.6 56.6 0 1 1 504.46 400.77L531.58 392.68A28.3 28.3 0 1 0 558.70 356.30Z" fill="#bfbfbf"/>
<path d="M450.22 416.94A113.2 113.2 0 0 1 558.70 271.40L558.70 356.30A28.3 28.3 0 0 0 531.58 392.68Z" fill="#a9d18e"/>
<defs><path id="ap1" d="M590.98 459.56A81.61 81.61 0 1 1 639.75 394.12"/><path id="ap2" d="M464.50 386.24A94.21 94.21 0 1 1 513.03 467.00"/><path id="ap3" d="M494.46 368.58A66.21 66.21 0 1 1 512.71 432.23"/><path id="ap4" d="M538.76 351.42A38.71 38.71 0 1 1 520.00 385.28"/><path id="ap5" d="M569.75 290.54A94.71 94.71 0 1 1 482.76 328.00"/><path id="ap6" d="M628.62 374.77A70.61 70.61 0 1 1 585.15 319.14"/><path id="ap7" d="M649.56 355.60A95.37 95.37 0 1 1 579.02 291.42"/><path id="ap8" d="M655.71 390.70A97.20 97.20 0 1 1 612.49 303.64"/></defs>
<text font-size="13.3" fill="#000" stroke="#000" stroke-width="0.4"><textPath href="#ap1" startOffset="50%" text-anchor="middle" textLength="112" lengthAdjust="spacingAndGlyphs">Constitutive 29,6%</textPath></text>
<text font-size="13.0" fill="#000" stroke="#000" stroke-width="0.4"><textPath href="#ap2" startOffset="50%" text-anchor="middle" textLength="54" lengthAdjust="spacingAndGlyphs">M 33,8%</textPath></text>
<text font-size="13.0" fill="#000" stroke="#000" stroke-width="0.4"><textPath href="#ap3" startOffset="50%" text-anchor="middle" textLength="96" lengthAdjust="spacingAndGlyphs">UG+GFID 58,9%</textPath></text>
<text font-size="13.0" fill="#000" stroke="#000" stroke-width="0.4"><textPath href="#ap4" startOffset="50%" text-anchor="middle" textLength="64" lengthAdjust="spacingAndGlyphs">DEGs 71,4%</textPath></text>
<text font-size="13.0" fill="#000" stroke="#000" stroke-width="0.4"><textPath href="#ap5" startOffset="50%" text-anchor="middle" textLength="50" lengthAdjust="spacingAndGlyphs">Y 25,1%</textPath></text>
<text font-size="11.8" fill="#000" stroke="#000" stroke-width="0.4"><textPath href="#ap6" startOffset="50%" text-anchor="middle" textLength="60" lengthAdjust="spacingAndGlyphs">GFDP 11,5%</textPath></text>
<text font-size="11.0" fill="#000" stroke="#000" stroke-width="0.4"><textPath href="#ap7" startOffset="50%" text-anchor="middle" textLength="33" lengthAdjust="spacingAndGlyphs">M 5,8%</textPath></text>
<text font-size="11.5" fill="#000" stroke="#000" stroke-width="0.4"><textPath href="#ap8" startOffset="50%" text-anchor="middle" textLength="33" lengthAdjust="spacingAndGlyphs">Y 5,7%</textPath></text>
<text x="50.5" y="511.3" font-size="17" font-weight="bold">e</text>
<line x1="93.3" y1="528.5" x2="93.3" y2="700.4" stroke="#868686" stroke-width="0.9"/>
<line x1="93.3" y1="700.4" x2="336.9" y2="700.4" stroke="#868686" stroke-width="0.9"/>
<line x1="90.8" y1="700.4" x2="93.3" y2="700.4" stroke="#868686" stroke-width="0.9"/>
<text x="85.0" y="703.5" font-size="8.8" text-anchor="end" fill="#222" textLength="4.2" lengthAdjust="spacingAndGlyphs">1</text>
<line x1="90.8" y1="657.4" x2="93.3" y2="657.4" stroke="#868686" stroke-width="0.9"/>
<text x="85.0" y="660.5" font-size="8.8" text-anchor="end" fill="#222" textLength="8.4" lengthAdjust="spacingAndGlyphs">10</text>
<line x1="90.8" y1="614.5" x2="93.3" y2="614.5" stroke="#868686" stroke-width="0.9"/>
<text x="85.0" y="617.6" font-size="8.8" text-anchor="end" fill="#222" textLength="12.600000000000001" lengthAdjust="spacingAndGlyphs">100</text>
<line x1="90.8" y1="571.5" x2="93.3" y2="571.5" stroke="#868686" stroke-width="0.9"/>
<text x="85.0" y="574.6" font-size="8.8" text-anchor="end" fill="#222" textLength="16.8" lengthAdjust="spacingAndGlyphs">1000</text>
<line x1="90.8" y1="528.6" x2="93.3" y2="528.6" stroke="#868686" stroke-width="0.9"/>
<text x="85.0" y="531.7" font-size="8.8" text-anchor="end" fill="#222" textLength="21.0" lengthAdjust="spacingAndGlyphs">10000</text>
<line x1="93.3" y1="700.4" x2="93.3" y2="702.6" stroke="#868686" stroke-width="0.9"/>
<line x1="128.1" y1="700.4" x2="128.1" y2="702.6" stroke="#868686" stroke-width="0.9"/>
<line x1="162.9" y1="700.4" x2="162.9" y2="702.6" stroke="#868686" stroke-width="0.9"/>
<line x1="197.7" y1="700.4" x2="197.7" y2="702.6" stroke="#868686" stroke-width="0.9"/>
<line x1="232.5" y1="700.4" x2="232.5" y2="702.6" stroke="#868686" stroke-width="0.9"/>
<line x1="267.3" y1="700.4" x2="267.3" y2="702.6" stroke="#868686" stroke-width="0.9"/>
<line x1="302.1" y1="700.4" x2="302.1" y2="702.6" stroke="#868686" stroke-width="0.9"/>
<line x1="336.9" y1="700.4" x2="336.9" y2="702.6" stroke="#868686" stroke-width="0.9"/>
<text x="110.7" y="715.6" font-size="8.8" text-anchor="middle" fill="#222">1</text>
<text x="145.5" y="715.6" font-size="8.8" text-anchor="middle" fill="#222">2</text>
<text x="180.3" y="715.6" font-size="8.8" text-anchor="middle" fill="#222">3</text>
<text x="215.1" y="715.6" font-size="8.8" text-anchor="middle" fill="#222">4</text>
<text x="249.9" y="715.6" font-size="8.8" text-anchor="middle" fill="#222">5</text>
<text x="284.7" y="715.6" font-size="8.8" text-anchor="middle" fill="#222">6</text>
<text x="319.5" y="715.6" font-size="8.8" text-anchor="middle" fill="#222">7</text>
<rect x="98.1" y="534.2" width="6.3" height="166.2" fill="#7f7f7f"/>
<rect x="139.2" y="568.9" width="6.3" height="131.5" fill="#c0504d"/>
<rect x="145.5" y="583.4" width="6.3" height="117.0" fill="#9bbb59"/>
<rect x="151.8" y="592.8" width="6.3" height="107.6" fill="#8064a2"/>
<rect x="174.0" y="595.3" width="6.3" height="105.1" fill="#c0504d"/>
<rect x="180.3" y="611.9" width="6.3" height="88.5" fill="#9bbb59"/>
<rect x="186.6" y="616.5" width="6.3" height="83.9" fill="#8064a2"/>
<rect x="208.8" y="613.6" width="6.3" height="86.8" fill="#c0504d"/>
<rect x="215.1" y="633.6" width="6.3" height="66.8" fill="#9bbb59"/>
<rect x="221.4" y="630.7" width="6.3" height="69.7" fill="#8064a2"/>
<rect x="243.6" y="632.1" width="6.3" height="68.3" fill="#c0504d"/>
<rect x="249.9" y="657.4" width="6.3" height="43.0" fill="#9bbb59"/>
<rect x="256.2" y="646.5" width="6.3" height="53.9" fill="#8064a2"/>
<rect x="278.4" y="641.1" width="6.3" height="59.3" fill="#c0504d"/>
<rect x="284.7" y="667.0" width="6.3" height="33.4" fill="#9bbb59"/>
<rect x="291.0" y="657.4" width="6.3" height="43.0" fill="#8064a2"/>
<rect x="313.2" y="648.7" width="6.3" height="51.7" fill="#c0504d"/>
<rect x="319.5" y="667.0" width="6.3" height="33.4" fill="#9bbb59"/>
<rect x="325.8" y="670.4" width="6.3" height="30.0" fill="#8064a2"/>
<rect x="351.4" y="593.3" width="4.4" height="4.6" fill="#7f7f7f"/>
<text x="358.0" y="598.6" font-size="8.6" fill="#222" textLength="10.7" lengthAdjust="spacingAndGlyphs">UG</text>
<rect x="351.4" y="610.2" width="4.4" height="4.6" fill="#c0504d"/>
<text x="358.0" y="615.5" font-size="8.6" fill="#222" textLength="13.5" lengthAdjust="spacingAndGlyphs">TGF</text>
<rect x="351.4" y="627.1" width="4.4" height="4.6" fill="#9bbb59"/>
<text x="358.0" y="632.4" font-size="8.6" fill="#222" textLength="17.2" lengthAdjust="spacingAndGlyphs">GFID</text>
<rect x="351.4" y="644.0" width="4.4" height="4.6" fill="#8064a2"/>
<text x="358.0" y="649.3" font-size="8.6" fill="#222" textLength="19.0" lengthAdjust="spacingAndGlyphs">GFDP</text>
<text x="66.2" y="616.0" font-size="14.3" text-anchor="middle" fill="#111" textLength="46.3" lengthAdjust="spacingAndGlyphs" transform="rotate(-90 66.2 616.0)">Clusters</text>
<text x="217.5" y="729.2" font-size="13.5" text-anchor="middle" fill="#111" textLength="102" lengthAdjust="spacingAndGlyphs">Genes per cluster</text>
<text x="465.6" y="510.5" font-size="18" font-weight="bold">f</text>
<path d="M502.8 707.1 L500.1 704.0 L497.4 701.0 L493.6 698.0 L489.3 694.9 L484.9 691.9 L481.2 688.9 L478.7 685.8 L477.2 682.8 L476.8 679.8 L477.2 676.7 L478.0 673.7 L479.1 670.7 L480.2 667.6 L481.4 664.6 L482.5 661.6 L483.7 658.5 L484.8 655.5 L485.9 652.5 L487.0 649.4 L488.1 646.4 L489.1 643.4 L490.2 640.3 L491.2 637.3 L492.1 634.3 L493.0 631.2 L493.9 628.2 L494.7 625.2 L495.5 622.1 L496.2 619.1 L496.8 616.1 L497.4 613.0 L497.9 610.0 L498.5 607.0 L498.9 603.9 L499.3 600.9 L499.7 597.9 L499.9 594.8 L500.2 591.8 L500.5 588.8 L500.7 585.7 L500.9 582.7 L501.1 579.7 L501.3 576.6 L501.5 573.6 L501.6 570.6 L501.8 567.5 L501.9 564.5 L502.0 561.5 L502.1 558.4 L502.2 555.4 L502.3 552.4 L502.3 549.3 L502.4 546.3 L502.5 543.3 L502.5 540.2 L502.6 537.2 L502.7 534.2 L502.7 531.1 L502.8 528.1 L502.8 528.1 L502.8 707.1Z" fill="#cc8540" stroke="#555" stroke-width="0.7"/>
<path d="M502.8 703.1 L506.2 700.2 L509.4 697.2 L513.2 694.3 L517.3 691.4 L521.3 688.5 L524.9 685.5 L527.4 682.6 L528.7 679.7 L528.3 676.7 L526.9 673.8 L524.5 670.9 L521.9 668.0 L519.3 665.0 L516.9 662.1 L514.8 659.2 L513.0 656.3 L511.6 653.3 L510.4 650.4 L509.3 647.5 L508.3 644.5 L507.5 641.6 L507.0 638.7 L506.6 635.8 L506.2 632.8 L505.9 629.9 L505.6 627.0 L505.3 624.1 L505.1 621.1 L505.0 618.2 L504.9 615.3 L504.7 612.3 L504.6 609.4 L504.5 606.5 L504.4 603.6 L504.3 600.6 L504.2 597.7 L504.1 594.8 L504.1 591.9 L504.0 588.9 L503.9 586.0 L503.9 583.1 L503.8 580.1 L503.8 577.2 L503.7 574.3 L503.6 571.4 L503.6 568.4 L503.5 565.5 L503.4 562.6 L503.4 559.7 L503.3 556.7 L503.2 553.8 L503.2 550.9 L503.1 547.9 L503.1 545.0 L503.0 542.1 L503.0 539.2 L502.9 536.2 L502.9 533.3 L502.8 530.4 L502.8 530.4 L502.8 703.1Z" fill="#3d719e" stroke="#555" stroke-width="0.7"/>
<line x1="500.6" y1="629.6" x2="500.6" y2="699.7" stroke="#2b2b2b" stroke-width="1.2"/>
<rect x="499.2" y="666.0" width="3.0" height="25.1" fill="#2b2b2b"/>
<line x1="504.7" y1="645.5" x2="504.7" y2="694.5" stroke="#2b2b2b" stroke-width="1.2"/>
<rect x="503.1" y="670.6" width="3.0" height="17.7" fill="#2b2b2b"/>
<line x1="498.6" y1="683.1" x2="502.2" y2="683.1" stroke="#fff" stroke-width="1.2"/>
<line x1="503.1" y1="680.3" x2="506.7" y2="680.3" stroke="#fff" stroke-width="1.2"/>
<path d="M570.0 707.1 L567.1 704.0 L564.2 700.9 L560.2 697.9 L555.5 694.8 L550.9 691.7 L547.1 688.6 L544.5 685.6 L543.0 682.5 L542.7 679.4 L543.2 676.4 L544.1 673.3 L545.3 670.2 L546.5 667.1 L547.7 664.1 L548.9 661.0 L550.1 657.9 L551.3 654.9 L552.5 651.8 L553.6 648.7 L554.7 645.6 L555.8 642.6 L556.8 639.5 L557.9 636.4 L558.8 633.3 L559.8 630.3 L560.7 627.2 L561.5 624.1 L562.3 621.1 L563.1 618.0 L563.7 614.9 L564.3 611.8 L564.9 608.8 L565.4 605.7 L565.9 602.6 L566.4 599.6 L566.7 596.5 L567.0 593.4 L567.3 590.3 L567.6 587.3 L567.8 584.2 L568.0 581.1 L568.2 578.0 L568.4 575.0 L568.6 571.9 L568.8 568.8 L568.9 565.8 L569.0 562.7 L569.2 559.6 L569.2 556.5 L569.3 553.5 L569.4 550.4 L569.5 547.3 L569.6 544.3 L569.7 541.2 L569.7 538.1 L569.8 535.0 L569.9 532.0 L569.9 528.9 L570.0 525.8 L570.0 525.8 L570.0 707.1Z" fill="#cc8540" stroke="#555" stroke-width="0.7"/>
<path d="M570.0 703.1 L573.5 700.1 L576.7 697.2 L580.6 694.2 L584.7 691.2 L588.8 688.3 L592.3 685.3 L594.7 682.3 L595.8 679.4 L595.4 676.4 L593.8 673.4 L591.4 670.5 L588.7 667.5 L586.1 664.5 L583.7 661.6 L581.6 658.6 L579.9 655.6 L578.5 652.7 L577.3 649.7 L576.2 646.7 L575.3 643.8 L574.6 640.8 L574.1 637.9 L573.7 634.9 L573.4 631.9 L573.1 629.0 L572.8 626.0 L572.5 623.0 L572.3 620.1 L572.2 617.1 L572.1 614.1 L571.9 611.2 L571.8 608.2 L571.7 605.2 L571.6 602.3 L571.5 599.3 L571.4 596.3 L571.3 593.4 L571.3 590.4 L571.2 587.4 L571.1 584.5 L571.1 581.5 L571.0 578.5 L571.0 575.6 L570.9 572.6 L570.8 569.6 L570.8 566.7 L570.7 563.7 L570.6 560.7 L570.6 557.8 L570.5 554.8 L570.4 551.9 L570.4 548.9 L570.3 545.9 L570.3 543.0 L570.2 540.0 L570.2 537.0 L570.1 534.1 L570.1 531.1 L570.0 528.1 L570.0 528.1 L570.0 703.1Z" fill="#3d719e" stroke="#555" stroke-width="0.7"/>
<line x1="567.8" y1="629.6" x2="567.8" y2="699.7" stroke="#2b2b2b" stroke-width="1.2"/>
<rect x="566.4" y="666.0" width="3.0" height="25.1" fill="#2b2b2b"/>
<line x1="571.9" y1="645.5" x2="571.9" y2="694.5" stroke="#2b2b2b" stroke-width="1.2"/>
<rect x="570.3" y="670.6" width="3.0" height="17.7" fill="#2b2b2b"/>
<line x1="565.8" y1="679.7" x2="569.4" y2="679.7" stroke="#fff" stroke-width="1.2"/>
<line x1="570.3" y1="682.6" x2="573.9" y2="682.6" stroke="#fff" stroke-width="1.2"/>
<path d="M637.5 707.1 L635.1 704.2 L632.7 701.2 L629.3 698.3 L625.3 695.4 L621.2 692.5 L617.6 689.6 L615.0 686.7 L613.5 683.7 L612.8 680.8 L612.9 677.9 L613.5 675.0 L614.5 672.1 L615.5 669.2 L616.6 666.2 L617.6 663.3 L618.7 660.4 L619.7 657.5 L620.7 654.6 L621.8 651.6 L622.9 648.7 L624.0 645.8 L625.1 642.9 L626.3 640.0 L627.3 637.1 L628.2 634.1 L629.0 631.2 L629.8 628.3 L630.5 625.4 L631.2 622.5 L631.8 619.6 L632.4 616.6 L632.9 613.7 L633.4 610.8 L633.8 607.9 L634.2 605.0 L634.5 602.0 L634.8 599.1 L635.0 596.2 L635.3 593.3 L635.5 590.4 L635.7 587.5 L635.9 584.5 L636.1 581.6 L636.2 578.7 L636.4 575.8 L636.5 572.9 L636.6 570.0 L636.7 567.0 L636.8 564.1 L636.9 561.2 L637.0 558.3 L637.1 555.4 L637.1 552.4 L637.2 549.5 L637.2 546.6 L637.3 543.7 L637.4 540.8 L637.4 537.9 L637.5 534.9 L637.5 534.9 L637.5 707.1Z" fill="#cc8540" stroke="#555" stroke-width="0.7"/>
<path d="M637.5 703.1 L640.8 700.3 L643.8 697.5 L647.4 694.7 L651.4 691.8 L655.3 689.0 L658.8 686.2 L661.6 683.4 L663.1 680.6 L663.3 677.8 L662.2 675.0 L660.3 672.1 L657.9 669.3 L655.3 666.5 L652.9 663.7 L650.7 660.9 L648.8 658.1 L647.2 655.3 L645.9 652.5 L644.8 649.6 L643.8 646.8 L642.8 644.0 L642.1 641.2 L641.5 638.4 L641.1 635.6 L640.7 632.8 L640.3 630.0 L640.0 627.1 L639.8 624.3 L639.7 621.5 L639.6 618.7 L639.4 615.9 L639.3 613.1 L639.2 610.3 L639.1 607.5 L639.0 604.6 L638.9 601.8 L638.8 599.0 L638.8 596.2 L638.7 593.4 L638.6 590.6 L638.6 587.8 L638.5 585.0 L638.5 582.1 L638.4 579.3 L638.3 576.5 L638.3 573.7 L638.2 570.9 L638.1 568.1 L638.1 565.3 L638.0 562.4 L637.9 559.6 L637.9 556.8 L637.8 554.0 L637.8 551.2 L637.7 548.4 L637.7 545.6 L637.6 542.8 L637.6 539.9 L637.5 537.1 L637.5 537.1 L637.5 703.1Z" fill="#3d719e" stroke="#555" stroke-width="0.7"/>
<line x1="635.3" y1="629.6" x2="635.3" y2="699.7" stroke="#2b2b2b" stroke-width="1.2"/>
<rect x="633.9" y="666.0" width="3.0" height="25.1" fill="#2b2b2b"/>
<line x1="639.4" y1="645.5" x2="639.4" y2="694.5" stroke="#2b2b2b" stroke-width="1.2"/>
<rect x="637.8" y="670.6" width="3.0" height="17.7" fill="#2b2b2b"/>
<line x1="633.3" y1="681.4" x2="636.9" y2="681.4" stroke="#fff" stroke-width="1.2"/>
<line x1="637.8" y1="680.3" x2="641.4" y2="680.3" stroke="#fff" stroke-width="1.2"/>
<rect x="469.3" y="517.5" width="201.3" height="200.3" fill="none" stroke="#4d4d4d" stroke-width="0.9"/>
<line x1="467.2" y1="704.8" x2="469.3" y2="704.8" stroke="#4d4d4d" stroke-width="0.9"/>
<text x="465.0" y="708.3" font-size="9.8" text-anchor="end" fill="#333">0</text>
<line x1="467.2" y1="682.0" x2="469.3" y2="682.0" stroke="#4d4d4d" stroke-width="0.9"/>
<text x="465.0" y="685.5" font-size="9.8" text-anchor="end" fill="#333">2</text>
<line x1="467.2" y1="659.2" x2="469.3" y2="659.2" stroke="#4d4d4d" stroke-width="0.9"/>
<text x="465.0" y="662.7" font-size="9.8" text-anchor="end" fill="#333">4</text>
<line x1="467.2" y1="636.4" x2="469.3" y2="636.4" stroke="#4d4d4d" stroke-width="0.9"/>
<text x="465.0" y="639.9" font-size="9.8" text-anchor="end" fill="#333">6</text>
<line x1="467.2" y1="613.6" x2="469.3" y2="613.6" stroke="#4d4d4d" stroke-width="0.9"/>
<text x="465.0" y="617.1" font-size="9.8" text-anchor="end" fill="#333">8</text>
<line x1="467.2" y1="590.8" x2="469.3" y2="590.8" stroke="#4d4d4d" stroke-width="0.9"/>
<text x="465.0" y="594.3" font-size="9.8" text-anchor="end" fill="#333">10</text>
<line x1="467.2" y1="568.0" x2="469.3" y2="568.0" stroke="#4d4d4d" stroke-width="0.9"/>
<text x="465.0" y="571.5" font-size="9.8" text-anchor="end" fill="#333">12</text>
<line x1="467.2" y1="545.2" x2="469.3" y2="545.2" stroke="#4d4d4d" stroke-width="0.9"/>
<text x="465.0" y="548.7" font-size="9.8" text-anchor="end" fill="#333">14</text>
<line x1="467.2" y1="522.4" x2="469.3" y2="522.4" stroke="#4d4d4d" stroke-width="0.9"/>
<text x="465.0" y="525.9" font-size="9.8" text-anchor="end" fill="#333">16</text>
<line x1="502.8" y1="717.7" x2="502.8" y2="720.2" stroke="#4d4d4d" stroke-width="0.9"/>
<line x1="570.0" y1="717.7" x2="570.0" y2="720.2" stroke="#4d4d4d" stroke-width="0.9"/>
<line x1="637.5" y1="717.7" x2="637.5" y2="720.2" stroke="#4d4d4d" stroke-width="0.9"/>
<text x="505.4" y="731.1" font-size="9.6" text-anchor="middle" font-weight="bold" fill="#111" textLength="5.2" lengthAdjust="spacingAndGlyphs">T</text>
<text x="571.2" y="731.1" font-size="9.6" text-anchor="middle" font-weight="bold" fill="#111" textLength="25.1" lengthAdjust="spacingAndGlyphs">GFDP</text>
<text x="639.5" y="731.1" font-size="9.6" text-anchor="middle" font-weight="bold" fill="#111" textLength="21" lengthAdjust="spacingAndGlyphs">GFID</text>
<text x="450.6" y="615.4" font-size="13.4" text-anchor="middle" fill="#111" textLength="63.2" lengthAdjust="spacingAndGlyphs" transform="rotate(-90 450.6 615.4)">AbsLog2FC</text>
<rect x="477.9" y="741.0" width="21.8" height="6.6" fill="#cc8540"/>
<text x="508.9" y="748.1" font-size="11.7" fill="#222" textLength="45.2" lengthAdjust="spacingAndGlyphs">Mycelium</text>
<rect x="575.9" y="741.0" width="22.1" height="6.6" fill="#3d719e"/>
<text x="606.1" y="748.1" font-size="11.7" fill="#222" textLength="28.1" lengthAdjust="spacingAndGlyphs">Yeast</text>
<text x="50.3" y="770.0" font-size="18" font-weight="bold" style="font-family:'Liberation Serif',serif">g</text>
<rect x="52.0" y="827.6" width="75.0" height="19.1" fill="#1f77b4"/>
<rect x="52.0" y="853.3" width="75.0" height="24.7" fill="#1f77b4"/>
<path d="M81.0 824.6h0M81.7 820.1h0M120.1 827.7h0M82.9 830.9h0M66.7 830.0h0M118.0 827.4h0M123.3 830.9h0M65.0 819.9h0M108.8 827.2h0M107.1 832.9h0M106.4 823.9h0M55.1 814.0h0M72.8 824.0h0M76.8 834.2h0M65.3 823.6h0M123.6 827.0h0M98.5 826.5h0M84.0 826.3h0M118.7 833.3h0M82.2 826.7h0M80.0 827.3h0M120.8 826.6h0M57.6 833.3h0M110.0 827.1h0M89.4 824.3h0M65.1 833.9h0M63.9 834.1h0M92.0 826.6h0M90.9 832.7h0M119.4 826.7h0M97.3 829.2h0M77.8 829.8h0M80.3 833.0h0M65.4 830.9h0M69.6 823.7h0M103.9 830.7h0M83.8 833.8h0M59.4 832.6h0M90.5 834.2h0M73.4 827.9h0M81.6 815.0h0M118.3 831.6h0M109.2 830.5h0M83.6 826.9h0M73.0 813.0h0M55.6 829.2h0M122.8 820.7h0M87.1 826.3h0M110.9 826.3h0M56.4 808.8h0M115.6 815.2h0M81.2 828.3h0M106.9 821.1h0M79.0 832.2h0M67.3 793.4h0M59.6 818.3h0M104.5 818.4h0M100.7 808.8h0M107.4 815.4h0M110.7 824.9h0M119.2 833.3h0M100.3 830.0h0M59.0 831.0h0M74.2 831.7h0M73.3 833.4h0M94.6 832.2h0M100.8 833.9h0M118.2 832.7h0M61.9 821.4h0M81.7 793.2h0M93.7 831.4h0M72.1 832.1h0M55.5 827.8h0M83.8 811.8h0M72.1 823.7h0M95.6 815.4h0M111.1 804.8h0M61.8 828.0h0M68.5 832.6h0M120.8 819.2h0M73.9 834.3h0M80.1 828.0h0M112.0 822.9h0M95.6 834.3h0M75.0 833.1h0M84.5 823.0h0M105.8 833.7h0M85.7 831.4h0M54.6 829.7h0M114.0 823.8h0M97.5 820.9h0M67.4 826.9h0M111.5 830.3h0M54.6 817.8h0M111.5 829.6h0M108.8 833.1h0M65.0 832.5h0M109.9 833.4h0M97.0 831.8h0M105.0 828.6h0M75.3 833.3h0M92.5 832.9h0M120.2 825.6h0M119.1 831.7h0M68.6 831.8h0M117.1 826.2h0M83.3 831.2h0M110.7 829.7h0M76.2 832.5h0M55.3 828.1h0M117.4 833.5h0M80.5 833.9h0M107.5 826.2h0M115.0 829.6h0M124.3 818.3h0M88.5 833.6h0M124.2 831.4h0M98.4 812.2h0M60.1 830.9h0M123.2 820.4h0M115.9 826.7h0M111.8 826.0h0M104.9 813.3h0M107.5 831.9h0M74.3 823.5h0M84.2 833.4h0M101.0 820.7h0M112.4 819.2h0M64.3 820.1h0M100.5 828.7h0M68.9 830.8h0M122.2 834.1h0M116.6 828.6h0M109.6 828.0h0M122.4 832.8h0M62.7 829.9h0M104.4 823.5h0M69.1 818.4h0M62.0 833.0h0M100.2 827.4h0M124.0 825.7h0M85.4 827.5h0M120.7 832.6h0M110.9 818.5h0M119.8 832.3h0M91.8 834.0h0M59.4 829.2h0M97.2 829.2h0M70.0 829.6h0M59.2 834.1h0M71.1 823.9h0M119.1 827.7h0M108.3 831.1h0M108.8 830.3h0M110.5 831.4h0M71.1 797.3h0M60.6 823.1h0M101.8 829.5h0M96.1 793.0h0M109.6 819.8h0M87.5 829.1h0M59.8 817.5h0M109.4 833.6h0M64.7 821.4h0M71.6 823.3h0M102.6 811.1h0M123.8 823.8h0M100.5 826.8h0M94.9 820.0h0M94.0 816.7h0M77.4 825.0h0M103.3 833.1h0M71.5 832.8h0M92.9 805.8h0M73.7 827.2h0M66.1 831.8h0M84.4 828.9h0M80.6 825.6h0M88.9 824.9h0M94.9 828.4h0M75.5 826.7h0M67.8 817.3h0M91.7 825.5h0M76.2 827.4h0M67.6 833.9h0M66.5 826.6h0M119.0 833.2h0M101.6 830.1h0M106.3 824.6h0M104.0 832.3h0M59.7 832.7h0M118.5 830.2h0M70.5 817.8h0M114.8 834.0h0M63.1 811.0h0M105.6 832.8h0M85.5 827.3h0M113.4 820.9h0M108.4 832.2h0M83.7 828.2h0M69.6 827.8h0M67.0 831.0h0M119.1 831.4h0M97.4 833.7h0M84.4 833.2h0M100.1 831.0h0M70.0 827.5h0M78.8 828.3h0M57.4 823.0h0M122.5 813.3h0M122.6 824.4h0M88.4 826.7h0M103.5 830.5h0M107.3 829.5h0M97.3 832.0h0M111.6 821.3h0M66.0 822.9h0M61.5 831.4h0M57.7 825.5h0M92.6 825.2h0M80.1 823.0h0M120.0 827.4h0M95.5 831.8h0M113.7 831.7h0M121.1 834.1h0M114.6 833.8h0M85.9 831.0h0M95.7 834.3h0M56.9 827.3h0M69.5 824.7h0M120.7 832.8h0M76.1 828.7h0M77.3 830.9h0M119.4 821.1h0M59.2 823.7h0M65.0 821.1h0M123.0 826.7h0M54.7 828.1h0M78.1 827.3h0M109.8 826.1h0M112.1 812.4h0M104.0 832.6h0M86.7 830.9h0M73.0 833.7h0M82.9 820.0h0M115.7 827.1h0M101.9 829.8h0M90.7 825.7h0M110.7 816.5h0M79.7 814.8h0M93.3 824.6h0M75.6 829.1h0M61.2 818.1h0M86.8 833.2h0M67.7 808.4h0M107.3 827.5h0M78.4 825.8h0M66.1 830.3h0M76.6 815.2h0M111.2 882.6h0M102.6 887.2h0M82.4 871.4h0M67.1 892.8h0M112.0 891.1h0M83.3 878.1h0M102.1 892.0h0M100.7 885.9h0M74.6 888.7h0M55.3 881.8h0M73.9 873.3h0M77.5 885.5h0M97.5 872.7h0M111.1 876.8h0M60.5 880.9h0M95.7 877.8h0M120.3 874.9h0M62.9 871.4h0M77.5 898.3h0M124.2 877.7h0M123.4 881.5h0M71.3 889.1h0M111.6 871.8h0M74.4 886.5h0M83.0 883.8h0M71.3 871.5h0M57.1 896.4h0M97.7 901.6h0M96.2 873.7h0M86.8 875.9h0M97.6 881.7h0M92.0 899.0h0M60.2 885.8h0M83.5 872.8h0M84.2 883.6h0M116.0 884.1h0M124.6 894.0h0M62.6 885.3h0M72.8 878.8h0M95.9 909.8h0M96.0 875.7h0M65.7 885.6h0M72.5 886.9h0M74.1 872.7h0M113.0 879.1h0M74.8 872.5h0M108.6 893.7h0M104.7 872.1h0M99.6 877.9h0M65.9 877.6h0M65.5 889.4h0M105.5 873.2h0M75.4 879.6h0M95.0 892.4h0M76.8 881.6h0M124.3 873.4h0M77.4 884.8h0M56.7 877.6h0M103.5 888.4h0M67.2 883.2h0M85.4 881.0h0M57.0 872.7h0M79.8 885.1h0M106.9 879.2h0M91.9 871.9h0M107.1 873.9h0M57.1 873.8h0M66.7 880.4h0M77.2 876.8h0M66.6 871.6h0M101.9 886.1h0M87.3 881.8h0M115.1 878.8h0M87.7 908.0h0M72.7 871.3h0M117.5 871.4h0M63.3 873.9h0M71.5 881.4h0M105.7 873.6h0M69.3 884.0h0M66.1 904.9h0M78.1 872.9h0M104.8 872.5h0M71.8 871.3h0M59.1 890.2h0M55.2 876.3h0M109.7 887.0h0M94.9 872.3h0M118.0 885.8h0M71.8 874.9h0M102.0 872.3h0M86.3 876.3h0M57.3 875.0h0M111.1 872.7h0M119.8 876.3h0M99.2 876.1h0M109.7 899.2h0M58.7 888.0h0M107.2 877.4h0M119.0 888.3h0M90.6 891.6h0M84.0 880.9h0M64.2 898.6h0M91.4 881.0h0M94.4 879.5h0M76.3 876.4h0M120.1 871.8h0M78.4 885.4h0M77.8 888.9h0M65.9 873.2h0M107.2 898.1h0M103.4 876.9h0M77.9 875.3h0M95.0 875.1h0M79.9 876.3h0M77.3 878.2h0M70.8 887.0h0M77.9 882.4h0M56.3 889.4h0M83.0 885.1h0M103.0 882.1h0M123.1 889.1h0M95.8 875.4h0M67.2 892.0h0M109.6 879.4h0M60.7 902.2h0M77.5 875.3h0M77.2 875.0h0M111.6 890.5h0M111.8 876.8h0M60.4 879.8h0M98.1 888.7h0M97.9 884.8h0M105.6 881.0h0M101.1 885.0h0M82.5 875.2h0M113.3 874.5h0M94.5 881.6h0M88.7 873.9h0M85.1 894.3h0M103.4 873.7h0M91.2 872.7h0M81.3 872.2h0M91.1 877.2h0M59.6 896.2h0M119.1 880.2h0M111.7 877.2h0M74.5 878.9h0M81.5 880.4h0M105.7 877.6h0M81.9 872.0h0M115.1 878.5h0M118.1 887.5h0M104.6 895.2h0M62.2 882.5h0M96.0 882.3h0M89.8 888.0h0M100.1 873.9h0M88.2 881.5h0M81.8 875.0h0M84.8 878.0h0M94.5 882.1h0M101.4 879.0h0M108.4 872.6h0M113.6 872.8h0M84.2 881.0h0M87.4 878.1h0M76.9 871.4h0M86.4 900.4h0M65.5 872.1h0M79.4 882.2h0M121.6 876.9h0M100.2 872.2h0M110.6 872.6h0M55.8 875.7h0M82.6 879.2h0M121.8 891.4h0M94.0 890.5h0M89.6 897.3h0M115.2 871.8h0M87.4 872.6h0M61.7 884.4h0M119.9 890.0h0M62.4 874.3h0M74.8 871.9h0M102.1 880.0h0M77.6 873.2h0M115.4 889.2h0M104.0 872.0h0M59.2 884.7h0M124.3 878.3h0M77.6 885.2h0M89.1 877.5h0M114.9 878.0h0M109.5 880.0h0M100.3 878.0h0M73.7 887.5h0M72.0 899.3h0M79.1 875.5h0M64.9 882.1h0M66.8 892.5h0M71.7 884.3h0M71.8 877.3h0M71.0 887.6h0M63.9 885.7h0M115.5 881.0h0M121.3 875.4h0M117.5 887.5h0M67.3 892.8h0M74.6 875.2h0M86.1 882.6h0M54.9 872.5h0M116.0 883.5h0M90.5 879.8h0M111.4 890.2h0M124.3 872.7h0M116.9 900.7h0M116.7 875.1h0M75.5 888.4h0M68.7 872.6h0M114.4 891.8h0M87.5 882.7h0M80.9 877.6h0M70.4 890.3h0M79.4 873.5h0M78.0 886.3h0M68.2 875.9h0M59.4 875.2h0M71.4 880.7h0M116.6 875.8h0M114.9 881.7h0M86.0 886.0h0M101.7 873.5h0M58.2 876.3h0M103.3 882.5h0M55.3 875.0h0M72.5 889.9h0M76.1 883.7h0M82.2 885.9h0M61.1 876.9h0M107.6 884.9h0M75.9 874.5h0M105.7 873.9h0M117.9 897.1h0M92.4 883.8h0M92.4 872.5h0M103.8 871.7h0M83.3 872.4h0M81.9 871.3h0M119.5 903.6h0M81.6 883.2h0M93.8 872.0h0M102.6 871.4h0M64.4 871.5h0M56.2 876.9h0M69.2 904.0h0M103.5 872.1h0M123.2 889.7h0M82.8 873.5h0M100.3 872.4h0M69.6 890.7h0M66.7 881.6h0M117.7 890.8h0M89.6 881.8h0M68.5 872.9h0M124.2 883.1h0M68.2 881.4h0M83.9 882.5h0M96.7 882.3h0M123.6 871.9h0M111.0 878.0h0M119.1 878.2h0M57.2 873.4h0M77.1 872.0h0M104.8 880.2h0M59.6 903.4h0M66.2 877.3h0M70.8 871.9h0M120.8 877.0h0M86.2 882.4h0M76.6 881.2h0M67.9 890.0h0M61.7 871.6h0M99.9 879.4h0M72.5 889.4h0M92.7 875.1h0M80.7 875.3h0M109.6 871.7h0M109.4 903.6h0M101.0 889.9h0M78.2 894.4h0M120.4 871.6h0M104.3 879.1h0M118.9 889.0h0M83.1 915.6h0M75.0 887.7h0M115.9 894.4h0M104.1 882.0h0M66.4 885.6h0M83.1 878.1h0M109.7 875.8h0M119.1 889.0h0M69.3 872.1h0M120.6 874.8h0M63.7 871.4h0M65.8 880.6h0M93.3 883.4h0M74.5 884.9h0M99.5 873.0h0M86.4 880.9h0M68.1 872.0h0M119.1 890.2h0M94.0 880.7h0M56.0 872.9h0M78.6 871.9h0M117.0 885.1h0M71.4 879.5h0M59.2 873.3h0M65.1 871.7h0M71.8 890.3h0M112.1 877.0h0M86.2 875.0h0M110.1 874.6h0M56.8 873.4h0M74.8 904.6h0M58.7 881.0h0M68.8 882.3h0M68.9 874.2h0M116.8 898.3h0M60.2 871.3h0M74.6 887.8h0M60.1 871.8h0M81.6 875.6h0M116.1 889.0h0M108.3 873.0h0M77.0 877.0h0M82.0 882.2h0M84.7 882.5h0M112.4 880.2h0M94.5 878.5h0M68.1 872.6h0M80.9 872.7h0M96.0 891.2h0M74.6 872.3h0M122.9 882.7h0M124.4 873.5h0M92.7 901.2h0M67.9 885.9h0M96.7 873.4h0M59.5 883.6h0M109.8 875.5h0M57.7 878.5h0M66.0 881.8h0M105.3 878.6h0M117.7 890.3h0M114.0 888.9h0M85.7 882.9h0M68.9 875.6h0M105.7 888.8h0M71.6 888.6h0M122.3 871.8h0M85.7 886.0h0M76.3 889.6h0M123.9 896.1h0M89.4 877.1h0M62.4 873.7h0M84.6 872.0h0M103.5 881.3h0M56.8 873.3h0M117.9 878.7h0M111.5 887.7h0M110.4 882.1h0M75.3 882.7h0M106.6 874.4h0M93.6 871.4h0M79.0 872.5h0M78.8 878.6h0M78.2 872.2h0M92.6 885.2h0M91.0 892.6h0M89.5 902.8h0M67.3 917.8h0M60.6 896.1h0M80.4 871.4h0M89.8 871.8h0M71.5 876.1h0M106.8 883.3h0M105.9 889.9h0M116.8 884.8h0M107.0 876.2h0M61.2 872.3h0M102.7 884.1h0M86.3 875.2h0M77.7 899.6h0M101.0 874.4h0M102.7 882.5h0M60.1 877.4h0M112.8 874.7h0M81.9 874.6h0M107.7 907.9h0M111.0 874.9h0M95.2 872.6h0M83.5 875.8h0M66.2 872.8h0M121.3 892.5h0M70.5 893.0h0M75.0 885.4h0M94.8 874.5h0M72.3 903.6h0M76.4 895.5h0M61.8 872.0h0M72.1 884.4h0M121.6 878.7h0M121.1 873.4h0M86.0 874.3h0M87.8 883.4h0M73.9 871.4h0M97.4 873.0h0M97.6 903.8h0M73.8 891.0h0M106.2 872.4h0M98.2 876.7h0M87.6 877.6h0M70.9 877.6h0M93.7 901.8h0M107.0 885.9h0M91.6 874.9h0M93.3 876.9h0M107.1 874.3h0M63.2 908.0h0M116.2 875.6h0M56.0 894.6h0M115.3 880.2h0M111.9 873.5h0M100.9 871.9h0M123.4 876.4h0M74.4 888.6h0M62.8 880.0h0M118.6 873.7h0M114.3 877.2h0M61.5 874.3h0M85.4 908.3h0M61.1 883.1h0M114.2 886.6h0M110.0 892.8h0M71.5 905.1h0M69.2 874.8h0M54.3 886.2h0M103.8 879.3h0M108.1 879.7h0M82.2 876.7h0M65.8 874.6h0M99.4 888.5h0M97.0 877.2h0M65.7 877.8h0M67.7 896.0h0M93.1 874.9h0M96.8 879.6h0M93.0 871.3h0M116.1 876.3h0M70.7 872.6h0M62.8 886.9h0M71.6 879.8h0M68.0 873.8h0M94.9 877.1h0M97.0 878.4h0M121.3 877.7h0M90.4 879.4h0M74.5 872.2h0M105.8 879.5h0M68.7 876.4h0M87.8 898.5h0M62.2 880.9h0M88.7 890.8h0M108.4 878.3h0M122.4 878.1h0M74.1 880.6h0M77.2 874.1h0M124.2 881.9h0M87.8 873.9h0M66.5 874.7h0M110.5 878.5h0M65.8 880.9h0M55.9 887.7h0M102.1 873.1h0M89.7 880.4h0M84.4 886.1h0M68.1 876.6h0M122.2 876.7h0M84.7 887.0h0M112.2 871.5h0M107.2 877.0h0M92.4 872.1h0M111.6 874.5h0M80.6 872.0h0M55.1 894.7h0M72.0 877.3h0M120.5 878.7h0M94.5 878.8h0M106.8 889.0h0M121.0 872.1h0M71.6 903.4h0M56.6 875.5h0M98.0 879.1h0M96.5 884.8h0M116.0 877.4h0M94.8 871.5h0M67.0 876.2h0M111.9 881.7h0M81.4 874.2h0M64.3 876.4h0M77.2 882.6h0M70.5 874.9h0M107.3 874.5h0M105.8 900.2h0M82.1 873.1h0M85.4 915.7h0M68.0 872.4h0M83.7 874.1h0M63.5 884.9h0M118.3 887.6h0M69.1 874.7h0M91.0 878.7h0M120.9 876.7h0M76.2 894.7h0M113.9 885.2h0M95.1 873.2h0M63.1 875.6h0M88.4 880.4h0M86.7 886.3h0M99.4 890.3h0M114.9 889.0h0M70.0 873.9h0M100.3 878.7h0M123.6 882.1h0M114.5 877.0h0M94.2 881.4h0M83.6 876.7h0M102.0 898.8h0M88.5 874.1h0M106.8 914.8h0M67.5 876.9h0M117.0 873.7h0M84.9 886.2h0M62.0 874.2h0M83.3 889.9h0M69.2 878.3h0M117.7 914.3h0M67.8 879.0h0M94.0 878.9h0M71.6 875.1h0M66.3 896.1h0M84.7 883.0h0M112.9 880.5h0M97.2 878.5h0M97.9 874.8h0M123.4 871.9h0M59.2 876.9h0M101.9 899.4h0M61.3 888.6h0M77.6 872.5h0M94.2 886.2h0M108.0 873.3h0M104.0 883.6h0M55.0 896.8h0M89.5 877.9h0M102.5 874.3h0M82.8 893.7h0M77.7 875.8h0M97.4 905.4h0M98.6 874.7h0M121.2 875.7h0M76.3 873.0h0M57.3 874.2h0M116.9 874.0h0M85.0 900.8h0M59.4 872.7h0M82.8 880.8h0M74.2 872.1h0M111.0 882.8h0M107.4 871.9h0M62.9 872.6h0M66.6 873.0h0M100.5 878.2h0M63.3 872.9h0M110.3 876.4h0M81.4 896.6h0M107.0 874.2h0M62.1 890.8h0M91.9 874.8h0M112.6 889.4h0M111.5 906.2h0M119.9 877.8h0M80.7 880.1h0M74.5 886.6h0M122.1 885.5h0M95.1 873.4h0M115.3 874.7h0M81.8 873.5h0M75.4 878.5h0M61.7 877.8h0M90.9 906.1h0M71.2 875.1h0M117.9 872.4h0M122.2 874.2h0M105.3 879.1h0M111.7 877.4h0M95.1 871.7h0M66.7 898.2h0M67.2 872.8h0M97.0 877.4h0M108.2 886.7h0M106.7 877.6h0M81.0 873.0h0M105.3 875.4h0M113.4 888.0h0M82.5 887.2h0M119.4 881.9h0M68.0 872.5h0M115.1 888.2h0M62.4 874.2h0M117.1 885.5h0M57.2 880.3h0M54.6 872.3h0M123.5 873.4h0M71.9 872.6h0M97.8 904.7h0M72.2 874.8h0M87.7 882.2h0M64.6 886.4h0M91.7 916.4h0M87.3 871.9h0M77.2 877.6h0M106.3 873.1h0M98.5 881.1h0M64.5 873.9h0M72.8 881.9h0M119.0 880.8h0M57.6 873.3h0M93.5 875.9h0M111.2 898.1h0M114.3 880.6h0M61.9 880.6h0M87.9 882.3h0M84.3 871.7h0M76.2 879.3h0M88.1 875.7h0M71.4 873.7h0M64.7 875.1h0M70.6 871.8h0M107.4 844.3h0M90.3 844.6h0M83.4 844.2h0M99.1 844.6h0M93.8 844.3h0M98.9 844.2h0M85.5 844.2h0M114.4 844.5h0M82.6 844.7h0M96.6 844.3h0M87.8 844.3h0M68.7 844.5h0M116.8 844.1h0M123.9 844.3h0M122.1 844.1h0M107.3 844.1h0M121.4 844.1h0M76.3 844.5h0M111.2 844.1h0M56.8 844.7h0M116.6 844.1h0M73.7 844.6h0M57.4 843.9h0M63.7 844.6h0M55.2 844.6h0M80.1 844.1h0M54.6 844.4h0M91.7 844.3h0M81.3 844.4h0M88.5 844.5h0M74.3 855.7h0M114.4 855.7h0M104.1 855.6h0M72.0 855.6h0M106.3 855.9h0M77.5 855.5h0M65.0 855.8h0M78.0 855.6h0M65.6 855.7h0M82.1 856.0h0M111.9 855.7h0M71.6 855.4h0M64.4 856.0h0M90.5 855.3h0M115.1 855.7h0M65.5 856.0h0M79.9 855.4h0M76.8 855.4h0M87.3 856.0h0M87.8 856.0h0M87.9 856.0h0M112.8 855.4h0M77.5 855.7h0M95.1 855.4h0M110.9 855.6h0M101.0 855.6h0M74.3 855.8h0M99.9 855.6h0M54.9 855.8h0M75.8 855.9h0" stroke="#1f77b4" stroke-width="4.6" stroke-linecap="round" fill="none"/>
<rect x="126.5" y="828.7" width="62.3" height="18.0" fill="#ff7f0e"/>
<rect x="126.5" y="853.3" width="62.3" height="20.8" fill="#ff7f0e"/>
<path d="M165.2 833.3h0M184.4 832.6h0M153.9 828.9h0M181.7 834.8h0M156.5 832.1h0M161.1 824.9h0M185.4 832.4h0M174.1 835.0h0M159.9 832.9h0M154.0 832.6h0M153.3 821.2h0M156.3 830.1h0M157.6 829.5h0M139.3 830.7h0M175.4 834.9h0M150.7 834.6h0M135.8 834.0h0M152.7 824.8h0M142.7 830.1h0M182.6 835.3h0M171.9 835.3h0M160.4 829.1h0M135.9 824.7h0M158.8 833.3h0M141.4 823.5h0M161.0 823.1h0M134.5 834.3h0M134.7 823.8h0M159.8 816.5h0M160.0 828.6h0M176.5 835.2h0M154.1 824.0h0M183.6 832.3h0M151.1 832.1h0M159.1 832.2h0M153.8 834.3h0M131.1 827.6h0M182.5 835.0h0M173.9 832.1h0M165.1 829.2h0M157.8 829.7h0M145.1 830.0h0M155.6 830.2h0M173.6 830.3h0M136.2 829.1h0M173.2 831.1h0M160.1 826.6h0M170.8 831.7h0M149.2 821.8h0M165.3 832.5h0M134.7 832.1h0M159.9 821.7h0M154.3 833.9h0M146.7 834.6h0M176.6 826.5h0M139.1 826.5h0M164.9 835.0h0M138.1 818.5h0M176.2 831.1h0M129.4 815.4h0M132.3 825.7h0M186.4 834.4h0M184.1 823.3h0M174.5 828.3h0M165.2 824.5h0M144.8 834.0h0M153.7 820.3h0M183.6 835.0h0M138.5 828.1h0M132.7 833.1h0M136.1 809.1h0M169.3 834.6h0M153.1 822.3h0M177.6 832.9h0M151.1 834.8h0M158.2 821.8h0M150.2 827.4h0M165.0 829.9h0M176.4 833.1h0M134.6 823.1h0M156.9 833.1h0M156.9 834.4h0M135.1 826.2h0M144.8 833.3h0M167.9 816.1h0M155.6 809.7h0M154.2 831.2h0M155.5 825.7h0M185.1 818.1h0M163.8 833.4h0M138.4 825.4h0M145.9 829.1h0M169.1 833.9h0M167.9 829.1h0M144.6 833.3h0M156.5 818.1h0M174.3 834.3h0M136.8 833.6h0M181.3 831.1h0M182.3 815.6h0M179.9 834.3h0M157.1 834.2h0M181.2 832.6h0M174.4 828.6h0M163.9 835.2h0M177.3 832.3h0M130.7 834.0h0M173.6 824.1h0M163.9 831.7h0M169.6 832.6h0M156.8 812.1h0M141.6 829.4h0M158.7 829.4h0M139.6 831.8h0M146.9 833.8h0M164.0 832.8h0M158.2 830.4h0M134.5 829.3h0M143.8 833.7h0M136.9 824.7h0M185.5 829.1h0M145.5 835.4h0M163.5 833.9h0M167.9 823.0h0M170.0 834.2h0M151.4 831.0h0M174.3 825.6h0M169.0 828.8h0M178.9 828.6h0M131.0 833.7h0M133.5 868.6h0M178.8 883.7h0M182.4 885.6h0M174.6 867.5h0M136.7 885.0h0M146.8 870.9h0M158.4 884.3h0M133.6 878.0h0M167.3 871.8h0M178.1 869.0h0M153.2 888.0h0M184.0 868.6h0M169.8 880.7h0M133.6 869.3h0M158.9 873.5h0M170.4 879.2h0M154.7 871.5h0M141.9 867.6h0M184.2 889.2h0M181.4 873.2h0M173.8 875.3h0M157.0 874.0h0M165.8 869.4h0M131.7 875.2h0M152.8 877.7h0M143.2 875.8h0M147.2 872.4h0M132.6 870.7h0M165.3 872.4h0M157.7 873.0h0M186.0 871.8h0M171.0 875.6h0M163.2 873.9h0M130.9 888.1h0M177.9 867.6h0M137.3 888.9h0M137.2 871.1h0M140.8 874.8h0M150.3 868.8h0M179.8 876.1h0M169.8 869.4h0M136.8 871.0h0M134.0 870.7h0M169.3 869.5h0M169.8 871.8h0M170.7 876.9h0M179.1 867.5h0M177.7 872.8h0M156.6 884.3h0M171.3 884.6h0M156.9 868.0h0M140.7 869.0h0M182.3 883.8h0M181.2 875.3h0M183.6 868.0h0M161.0 868.2h0M171.2 883.7h0M141.3 883.0h0M142.4 870.5h0M170.3 867.4h0M163.8 870.3h0M162.5 888.0h0M162.0 881.7h0M185.0 873.4h0M137.1 871.1h0M155.4 867.6h0M134.5 868.5h0M175.6 886.6h0M156.2 871.8h0M144.7 869.3h0M140.4 874.1h0M179.0 867.9h0M166.6 878.1h0M131.7 873.1h0M142.6 874.0h0M173.9 876.2h0M154.7 870.3h0M154.2 872.0h0M185.2 872.5h0M174.0 868.4h0M144.0 893.8h0M172.5 868.1h0M136.0 874.6h0M155.3 868.9h0M177.1 868.7h0M141.7 884.5h0M139.6 867.8h0M160.2 877.3h0M175.4 868.1h0M169.4 880.1h0M147.6 868.8h0M166.6 868.7h0M183.5 869.3h0M142.2 874.5h0M132.0 873.6h0M169.1 869.4h0M167.0 893.0h0M183.9 870.2h0M186.5 868.4h0M164.5 868.6h0M136.3 872.3h0M156.5 875.1h0M183.0 868.1h0M136.4 879.3h0M132.2 871.8h0M135.2 867.5h0M165.0 871.4h0M165.9 871.8h0M170.6 875.7h0M144.2 895.7h0M132.3 868.8h0M150.2 873.5h0M157.1 870.3h0M137.4 870.2h0M169.3 868.2h0M165.9 871.6h0M149.6 867.9h0M131.6 877.9h0M178.5 871.7h0M146.5 883.2h0M163.6 891.0h0M157.9 872.0h0M138.5 871.5h0M177.0 870.7h0M143.5 875.8h0M173.2 883.0h0M173.0 871.1h0M170.9 870.8h0M167.7 875.5h0M168.8 871.8h0M172.1 878.4h0M166.9 879.3h0M140.2 875.9h0M185.3 868.4h0M181.6 877.3h0M172.1 873.8h0M174.3 881.2h0M177.5 868.4h0M143.6 882.9h0M174.7 871.9h0M162.4 869.2h0M146.9 888.6h0M174.5 894.8h0M133.1 867.8h0M137.3 876.2h0M169.5 867.5h0M160.1 875.3h0M164.3 878.2h0M180.5 882.3h0M183.5 870.0h0M171.4 878.3h0M134.3 875.2h0M168.6 876.3h0M148.8 883.9h0M154.5 875.3h0M182.8 872.4h0M164.2 867.4h0M133.0 878.7h0M174.5 887.7h0M171.9 885.7h0M170.9 874.6h0M140.4 870.4h0M176.4 867.4h0M176.6 875.1h0M171.5 868.5h0M181.7 868.6h0M175.3 868.4h0M182.2 869.3h0M178.7 870.7h0M150.1 868.7h0M138.1 881.3h0M169.5 874.3h0M158.1 869.6h0M164.0 870.3h0M162.6 867.5h0M183.4 877.5h0M161.3 868.3h0M186.5 878.9h0M142.7 872.0h0M184.8 868.2h0M166.2 872.8h0M175.7 872.4h0M141.5 874.0h0M181.9 904.6h0M157.2 873.3h0M150.9 877.4h0M165.6 870.8h0M136.4 877.0h0M148.4 902.0h0M132.5 878.6h0M156.0 870.8h0M131.9 877.1h0M134.4 884.8h0M185.3 867.4h0M159.6 871.7h0M157.1 874.1h0M154.6 875.9h0M151.7 880.3h0M166.1 868.8h0M181.2 889.9h0M167.8 891.6h0M134.1 868.7h0M134.5 870.2h0M148.8 872.8h0M154.8 867.6h0M146.2 882.5h0M133.9 872.1h0M158.8 876.3h0M171.9 878.6h0M172.8 882.5h0M184.3 868.3h0M155.8 874.8h0M150.9 869.9h0M165.2 870.0h0M179.2 876.5h0M174.6 876.0h0M130.2 870.0h0M175.6 888.4h0M143.5 900.1h0M173.3 871.5h0M150.2 868.3h0M178.6 877.9h0M176.6 870.8h0M158.7 874.9h0M184.1 876.2h0M182.0 889.8h0M178.8 868.4h0M162.8 884.9h0M184.1 883.0h0M158.7 870.1h0M140.3 868.2h0M181.8 868.2h0M128.9 871.5h0M175.4 879.5h0M135.8 869.7h0M134.7 883.9h0M184.5 880.8h0M133.1 871.1h0M168.8 877.8h0M149.8 869.0h0M142.7 883.3h0M130.5 869.7h0M162.3 881.5h0M136.3 878.6h0M179.8 877.6h0M144.4 868.3h0M177.0 871.2h0M147.4 867.5h0M148.0 872.9h0M148.2 875.8h0M139.2 871.3h0M167.0 874.1h0M133.6 870.4h0M178.1 877.6h0M178.9 869.1h0M136.9 891.2h0M133.8 880.7h0M172.0 870.6h0M180.0 879.4h0M146.8 878.0h0M134.9 844.1h0M136.6 844.1h0M167.7 844.3h0M176.9 844.3h0M167.1 844.3h0M135.2 844.6h0M133.9 844.1h0M180.1 844.6h0M145.1 844.1h0M152.7 844.3h0M147.1 844.3h0M160.6 844.0h0M182.7 844.1h0M166.3 844.5h0M154.0 844.2h0M146.2 844.6h0M131.1 843.9h0M145.9 844.3h0M130.3 844.7h0M168.1 844.2h0M131.6 844.4h0M165.1 844.3h0M163.5 844.3h0M169.3 844.2h0M136.4 844.1h0M152.7 844.6h0M138.2 844.6h0M132.4 844.4h0M134.2 844.3h0M182.2 844.5h0M150.7 855.8h0M159.1 855.6h0M154.7 855.6h0M132.9 855.4h0M129.0 856.0h0M151.2 855.4h0M179.8 855.6h0M167.7 855.9h0M177.8 855.6h0M138.5 855.6h0M152.6 855.8h0M139.2 855.3h0M179.0 855.9h0M185.0 855.4h0M139.8 856.1h0M146.0 855.6h0M168.0 855.3h0M171.8 855.5h0M157.8 855.6h0M168.4 856.1h0M152.4 855.8h0M173.5 855.6h0M155.9 855.7h0M147.2 855.7h0M182.2 855.8h0M150.5 855.4h0M148.1 855.4h0M145.5 855.4h0M171.5 855.9h0M156.9 856.0h0" stroke="#ff7f0e" stroke-width="4.6" stroke-linecap="round" fill="none"/>
<rect x="188.3" y="822.0" width="79.7" height="24.7" fill="#2ca02c"/>
<rect x="188.3" y="853.3" width="79.7" height="32.0" fill="#2ca02c"/>
<path d="M251.6 820.4h0M218.8 823.3h0M239.2 815.8h0M218.2 815.3h0M225.7 828.4h0M227.7 822.5h0M231.6 815.0h0M238.4 809.2h0M191.7 824.4h0M219.3 816.9h0M197.4 815.0h0M256.5 790.5h0M243.6 819.6h0M220.8 823.1h0M261.6 813.6h0M223.7 812.1h0M205.8 827.0h0M239.8 828.2h0M254.4 819.2h0M211.9 811.5h0M211.2 827.9h0M261.4 827.7h0M212.3 818.9h0M206.1 801.4h0M230.7 820.1h0M219.4 807.9h0M222.7 827.6h0M225.1 823.4h0M247.7 828.0h0M192.7 807.4h0M227.8 788.6h0M239.6 825.8h0M257.3 823.7h0M245.8 827.0h0M248.8 824.0h0M218.2 826.7h0M192.9 825.3h0M236.6 824.4h0M245.9 802.2h0M211.2 828.1h0M242.0 821.7h0M223.7 804.8h0M201.9 815.1h0M221.3 818.1h0M208.8 826.7h0M264.6 815.9h0M221.8 826.9h0M201.9 822.7h0M207.7 826.5h0M219.9 827.4h0M215.9 820.3h0M207.8 803.0h0M262.5 824.8h0M215.4 820.8h0M238.7 826.2h0M219.8 823.9h0M241.7 798.6h0M243.3 817.6h0M236.9 813.7h0M242.2 822.7h0M221.6 821.7h0M234.3 822.1h0M235.1 823.7h0M256.5 821.3h0M231.4 828.1h0M194.3 819.4h0M259.6 823.4h0M232.9 816.1h0M222.7 825.4h0M259.1 809.2h0M226.1 816.6h0M236.6 820.6h0M203.6 827.2h0M216.9 828.7h0M244.9 828.4h0M203.0 808.5h0M258.5 828.6h0M202.7 818.3h0M232.8 817.8h0M197.8 812.0h0M231.1 817.0h0M257.0 828.3h0M263.6 826.0h0M249.8 826.3h0M208.4 828.4h0M221.3 827.4h0M206.9 822.1h0M252.5 828.4h0M195.1 825.9h0M227.2 816.9h0M205.7 821.6h0M236.2 803.9h0M264.2 801.6h0M210.4 790.1h0M206.5 820.2h0M248.7 824.2h0M255.0 826.9h0M226.3 819.5h0M239.6 823.2h0M242.8 824.4h0M205.4 825.7h0M245.0 824.9h0M249.0 822.1h0M214.4 826.5h0M199.7 825.8h0M239.1 807.4h0M249.6 822.3h0M235.1 824.2h0M205.9 817.4h0M264.4 801.7h0M196.3 818.8h0M234.2 805.1h0M205.3 827.6h0M208.8 822.6h0M194.1 819.7h0M191.5 823.5h0M242.3 823.2h0M244.1 814.1h0M265.5 825.6h0M265.0 795.1h0M226.9 828.5h0M213.8 812.0h0M251.8 825.6h0M249.8 792.4h0M232.1 824.4h0M235.4 817.8h0M201.3 822.8h0M204.8 827.8h0M195.2 827.1h0M219.5 812.4h0M230.1 813.8h0M244.7 820.2h0M257.9 810.2h0M226.5 814.9h0M255.9 822.3h0M248.6 789.4h0M258.0 818.2h0M193.9 822.3h0M215.5 817.9h0M204.8 826.9h0M246.1 827.2h0M201.0 808.9h0M221.5 809.7h0M196.9 820.1h0M213.9 816.0h0M217.1 821.0h0M251.9 828.0h0M202.3 825.6h0M220.0 802.8h0M263.6 825.6h0M239.8 825.1h0M246.9 826.0h0M254.1 817.4h0M198.9 826.5h0M236.4 820.1h0M226.0 826.5h0M230.2 819.2h0M208.2 809.9h0M207.5 824.2h0M245.6 816.5h0M229.4 828.5h0M252.7 824.9h0M251.7 828.6h0M246.9 817.7h0M198.2 822.4h0M214.3 823.7h0M202.2 805.9h0M201.0 827.8h0M205.0 815.8h0M243.1 827.9h0M249.2 816.0h0M191.9 793.3h0M194.8 803.6h0M219.4 807.7h0M197.2 828.5h0M227.5 828.0h0M220.1 822.8h0M207.7 822.6h0M193.3 826.1h0M225.1 807.8h0M209.0 822.5h0M236.4 828.5h0M257.3 806.5h0M197.9 816.0h0M228.0 816.4h0M239.5 796.8h0M226.0 820.5h0M232.7 825.4h0M238.4 805.9h0M198.7 826.8h0M195.4 820.6h0M241.9 826.7h0M255.9 811.1h0M218.7 818.3h0M191.1 826.1h0M242.4 820.7h0M243.8 797.1h0M203.9 813.6h0M234.1 825.8h0M195.0 814.7h0M203.9 821.4h0M246.3 820.9h0M201.7 821.1h0M197.7 827.3h0M212.9 819.6h0M209.7 812.0h0M248.5 807.0h0M190.7 815.1h0M245.2 817.6h0M212.4 809.9h0M222.1 800.3h0M254.5 813.1h0M230.6 814.2h0M241.7 797.2h0M242.3 826.0h0M243.5 815.2h0M223.2 821.2h0M191.8 823.5h0M193.7 826.2h0M252.8 823.4h0M260.7 825.6h0M235.5 825.9h0M230.4 821.5h0M255.5 826.7h0M194.5 819.8h0M204.1 819.8h0M208.2 826.9h0M230.9 824.4h0M251.3 822.0h0M259.6 810.6h0M203.3 822.9h0M252.7 817.6h0M204.6 823.3h0M210.7 825.4h0M247.8 825.9h0M243.4 828.2h0M234.7 825.2h0M261.5 826.1h0M191.9 816.8h0M227.6 822.9h0M198.1 815.8h0M242.4 810.2h0M194.9 815.7h0M214.8 823.9h0M238.8 813.5h0M197.3 822.5h0M222.9 826.8h0M263.5 814.7h0M237.4 826.4h0M215.8 828.3h0M209.5 820.4h0M235.4 819.9h0M209.8 824.8h0M245.1 813.5h0M254.2 813.0h0M192.0 826.2h0M193.6 823.5h0M230.8 806.2h0M255.2 823.0h0M216.1 825.5h0M237.7 821.2h0M233.8 825.9h0M234.2 823.4h0M212.1 822.7h0M211.4 812.4h0M231.1 807.1h0M257.7 828.2h0M247.4 826.0h0M252.5 825.7h0M261.0 810.1h0M219.4 806.9h0M210.4 821.0h0M259.9 806.2h0M228.4 824.6h0M201.0 823.8h0M221.1 819.3h0M229.0 826.4h0M241.6 825.0h0M248.9 819.5h0M242.1 819.5h0M212.9 828.1h0M198.2 824.8h0M241.3 827.8h0M239.0 805.2h0M244.3 827.6h0M238.5 824.2h0M196.5 819.9h0M256.8 821.9h0M212.1 825.8h0M206.1 807.1h0M253.2 805.4h0M239.1 810.2h0M241.5 820.3h0M206.2 824.7h0M228.0 827.7h0M264.2 819.3h0M255.2 811.8h0M203.6 825.5h0M218.3 826.5h0M214.8 824.5h0M247.6 828.1h0M202.7 806.4h0M195.5 814.8h0M250.6 822.2h0M200.9 827.4h0M247.5 819.9h0M237.0 821.0h0M211.5 815.7h0M198.7 819.8h0M195.0 827.6h0M251.0 826.1h0M229.1 813.4h0M213.4 818.8h0M261.6 827.1h0M212.3 827.6h0M220.3 805.2h0M218.6 815.3h0M209.9 823.9h0M209.3 795.6h0M203.1 827.1h0M241.2 827.6h0M196.7 827.0h0M263.9 828.3h0M248.6 817.5h0M194.2 818.7h0M213.4 821.7h0M209.3 825.9h0M234.0 826.1h0M224.7 828.3h0M230.1 812.8h0M240.5 826.1h0M222.1 825.2h0M193.8 823.7h0M193.0 825.8h0M245.3 820.0h0M252.6 827.4h0M255.7 826.4h0M198.1 819.0h0M248.2 826.1h0M214.8 818.3h0M230.6 825.3h0M204.0 822.3h0M252.6 823.8h0M204.3 826.9h0M195.5 811.9h0M249.5 815.2h0M243.8 816.9h0M253.7 827.8h0M196.0 825.4h0M211.2 821.1h0M215.6 822.2h0M225.1 825.9h0M195.1 827.2h0M194.5 819.9h0M256.8 825.6h0M239.3 822.2h0M205.6 820.7h0M237.8 814.0h0M196.2 816.4h0M240.1 801.6h0M257.9 824.4h0M205.7 819.5h0M235.7 821.3h0M214.9 828.5h0M206.8 800.8h0M243.6 826.0h0M227.0 805.1h0M245.6 825.5h0M259.8 820.9h0M231.9 822.3h0M217.9 816.3h0M191.2 827.5h0M243.7 821.8h0M219.1 823.6h0M194.7 803.3h0M251.0 809.4h0M227.3 827.7h0M235.1 825.7h0M230.1 826.7h0M264.3 826.1h0M263.2 808.3h0M218.6 824.9h0M205.1 826.6h0M236.6 823.7h0M219.9 818.1h0M265.4 814.7h0M209.3 825.3h0M264.2 814.7h0M259.6 820.9h0M215.7 811.7h0M240.5 824.7h0M201.9 822.4h0M233.7 827.8h0M209.0 821.3h0M249.0 820.6h0M253.7 816.1h0M208.0 803.7h0M249.7 828.3h0M208.1 820.4h0M206.8 797.1h0M207.4 828.1h0M261.7 828.6h0M264.5 798.8h0M261.1 805.3h0M253.4 824.7h0M200.3 825.5h0M226.5 826.2h0M211.7 819.0h0M203.5 817.4h0M258.1 825.7h0M218.5 812.6h0M193.3 824.1h0M192.0 798.9h0M255.4 828.0h0M210.1 826.1h0M265.4 790.4h0M228.7 828.7h0M194.2 892.7h0M259.6 879.7h0M244.3 883.3h0M254.6 883.0h0M215.3 882.6h0M206.0 895.3h0M216.3 893.3h0M204.1 878.9h0M235.6 885.7h0M228.5 895.8h0M265.3 879.4h0M206.5 896.0h0M221.2 888.6h0M226.5 879.2h0M247.9 881.4h0M232.3 883.1h0M196.9 895.3h0M219.1 884.3h0M256.7 888.6h0M201.2 883.5h0M227.2 879.6h0M234.0 880.2h0M235.6 880.2h0M256.7 885.5h0M255.2 881.2h0M241.5 883.0h0M214.7 895.7h0M265.6 887.9h0M220.9 883.1h0M253.4 888.5h0M232.7 893.7h0M204.5 883.0h0M233.0 879.5h0M229.8 880.4h0M196.8 887.0h0M237.9 887.1h0M233.2 886.7h0M202.2 878.7h0M192.4 878.8h0M231.7 887.2h0M241.8 879.8h0M256.9 897.5h0M221.6 886.0h0M221.3 882.9h0M197.5 888.3h0M208.9 889.0h0M244.5 892.8h0M233.7 893.0h0M245.4 892.2h0M217.3 879.7h0M259.5 896.1h0M253.4 880.7h0M252.5 888.9h0M230.6 881.5h0M257.7 903.9h0M245.3 884.6h0M208.7 905.4h0M191.2 881.0h0M246.7 881.2h0M256.0 881.7h0M246.6 880.6h0M249.1 878.7h0M213.6 880.6h0M236.3 894.8h0M222.8 883.3h0M204.5 880.7h0M247.2 881.6h0M199.0 905.2h0M252.3 880.6h0M254.5 880.3h0M195.0 879.2h0M241.8 889.2h0M220.4 884.6h0M227.7 892.0h0M263.4 891.9h0M212.4 878.9h0M214.4 885.1h0M233.2 879.1h0M221.7 882.3h0M227.9 883.0h0M201.4 882.8h0M192.5 883.5h0M254.8 885.2h0M193.9 880.3h0M249.3 879.7h0M265.2 880.8h0M206.2 919.5h0M229.4 887.2h0M193.5 889.0h0M219.4 890.0h0M232.1 880.5h0M262.2 886.5h0M193.8 889.4h0M243.4 893.6h0M198.6 892.1h0M222.9 887.6h0M223.7 891.1h0M242.5 883.4h0M215.1 886.7h0M216.9 882.6h0M231.8 879.0h0M210.4 918.6h0M225.6 908.6h0M195.1 881.5h0M239.7 895.0h0M256.2 888.4h0M257.4 893.3h0M230.3 880.7h0M203.4 879.8h0M196.6 879.1h0M248.1 881.3h0M256.3 888.8h0M216.8 879.3h0M223.9 880.1h0M192.3 879.4h0M198.9 878.6h0M233.8 890.9h0M258.1 880.9h0M201.3 897.3h0M214.7 883.6h0M241.7 882.0h0M241.2 898.1h0M193.1 898.2h0M256.5 883.5h0M243.2 890.3h0M232.8 908.9h0M207.3 882.1h0M217.9 892.8h0M215.5 880.4h0M223.5 887.7h0M261.9 883.1h0M209.1 904.5h0M205.0 884.3h0M246.9 891.0h0M255.4 879.5h0M247.7 883.7h0M250.3 882.7h0M216.5 882.2h0M260.1 891.3h0M228.4 910.0h0M253.6 888.2h0M199.9 892.5h0M195.0 881.0h0M224.5 885.8h0M229.8 882.0h0M232.0 893.1h0M197.3 887.0h0M197.7 879.1h0M219.3 883.0h0M211.3 899.2h0M255.7 888.0h0M257.6 905.1h0M233.3 880.4h0M239.8 879.9h0M198.3 882.5h0M251.2 881.1h0M265.6 886.3h0M222.5 881.5h0M203.9 878.6h0M198.1 881.2h0M240.9 898.3h0M240.4 906.7h0M265.4 880.8h0M247.5 887.7h0M255.0 888.0h0M208.9 880.9h0M259.0 882.2h0M250.0 882.2h0M212.4 882.3h0M245.6 885.2h0M255.0 908.7h0M204.1 890.2h0M249.0 882.8h0M241.9 885.7h0M240.1 885.2h0M258.6 883.0h0M233.2 881.7h0M260.8 897.0h0M221.5 887.0h0M251.9 883.1h0M256.4 884.6h0M194.7 885.5h0M227.4 879.3h0M261.1 894.9h0M234.3 891.1h0M202.1 890.6h0M250.7 880.8h0M254.7 883.6h0M263.7 880.1h0M233.1 880.1h0M257.0 880.0h0M235.8 882.1h0M196.3 880.5h0M218.8 879.9h0M238.0 896.6h0M236.1 890.3h0M216.1 896.2h0M264.4 883.5h0M260.5 879.0h0M261.8 880.0h0M249.2 890.6h0M220.9 882.9h0M224.7 882.7h0M227.2 878.9h0M218.3 882.1h0M243.7 892.8h0M233.2 881.3h0M236.8 880.1h0M200.4 886.9h0M232.8 880.2h0M227.4 882.1h0M192.4 890.7h0M242.4 886.4h0M251.2 898.2h0M207.1 882.6h0M230.0 881.8h0M215.3 882.7h0M218.5 880.6h0M241.2 882.3h0M215.4 892.7h0M228.1 904.3h0M219.9 896.3h0M263.2 894.9h0M239.7 890.9h0M191.7 878.8h0M248.6 908.8h0M222.3 884.8h0M229.7 881.7h0M239.9 888.8h0M222.2 884.1h0M244.9 892.2h0M220.3 880.0h0M200.4 881.1h0M203.9 891.6h0M231.7 897.2h0M217.0 879.5h0M211.1 884.4h0M239.2 916.7h0M257.0 887.6h0M264.2 879.5h0M208.0 879.2h0M227.1 889.8h0M237.5 890.8h0M192.1 879.8h0M221.9 900.6h0M206.8 889.4h0M208.7 879.5h0M211.1 882.3h0M207.1 884.3h0M203.4 883.7h0M207.7 878.7h0M207.4 883.0h0M212.8 880.1h0M202.3 898.0h0M260.1 880.3h0M251.0 896.4h0M227.7 895.7h0M243.6 891.3h0M230.5 886.2h0M223.7 908.8h0M199.8 878.9h0M249.1 879.1h0M242.0 878.6h0M193.0 881.9h0M239.2 898.1h0M198.1 895.9h0M226.7 879.0h0M225.6 878.6h0M260.4 883.5h0M238.0 881.8h0M255.7 881.5h0M236.9 880.7h0M238.5 884.4h0M239.4 891.0h0M244.6 888.1h0M236.2 894.3h0M202.1 879.4h0M257.2 884.0h0M239.0 880.9h0M231.2 878.8h0M257.6 884.0h0M216.3 887.9h0M241.5 902.1h0M246.6 889.0h0M253.5 882.0h0M216.8 898.6h0M222.0 905.7h0M228.7 886.9h0M236.9 879.7h0M255.3 885.8h0M220.1 878.6h0M201.0 881.7h0M261.0 885.6h0M210.9 890.4h0M192.1 920.9h0M194.6 880.7h0M261.6 893.0h0M256.2 901.5h0M196.9 906.6h0M243.5 879.5h0M221.3 885.3h0M242.2 886.9h0M201.3 886.0h0M262.5 891.5h0M213.6 880.1h0M261.9 895.2h0M216.4 913.3h0M226.6 882.0h0M211.8 904.0h0M224.9 883.7h0M243.0 882.6h0M255.3 891.6h0M227.5 879.6h0M211.2 880.3h0M233.4 882.9h0M209.5 884.3h0M249.6 879.4h0M241.5 882.5h0M235.1 884.3h0M227.4 880.2h0M264.4 884.8h0M229.7 886.4h0M213.1 894.8h0M235.4 880.3h0M235.6 890.5h0M222.0 880.1h0M250.7 913.2h0M191.4 879.3h0M224.4 882.6h0M259.5 890.7h0M232.2 882.1h0M214.2 889.6h0M220.4 890.2h0M246.5 879.2h0M257.4 889.7h0M254.0 886.4h0M226.7 895.1h0M237.7 878.9h0M236.7 887.9h0M222.1 880.2h0M201.0 891.5h0M190.8 880.7h0M249.8 878.6h0M201.2 902.0h0M211.5 879.7h0M202.4 895.4h0M220.3 878.8h0M250.3 896.1h0M219.7 885.6h0M210.5 890.0h0M265.5 882.4h0M249.3 903.3h0M194.5 883.5h0M216.0 906.9h0M260.2 879.6h0M217.4 903.6h0M220.8 885.2h0M221.6 900.5h0M256.0 885.7h0M191.1 885.4h0M226.9 879.3h0M231.1 904.2h0M220.3 881.8h0M201.4 884.0h0M259.2 893.2h0M245.0 885.5h0M262.6 879.7h0M230.1 883.5h0M197.5 881.6h0M209.8 915.0h0M237.9 879.3h0M190.7 881.9h0M256.1 892.9h0M206.5 880.1h0M263.9 885.4h0M223.3 883.4h0M193.3 883.0h0M234.5 882.2h0M245.6 878.8h0M254.5 893.1h0M229.7 881.9h0M261.9 883.0h0M196.8 879.1h0M253.6 884.5h0M223.6 883.8h0M229.9 893.0h0M205.1 903.8h0M244.0 897.5h0M221.3 895.8h0M262.3 897.1h0M241.7 879.6h0M263.6 892.1h0M224.3 894.4h0M200.0 883.3h0M203.8 884.8h0M194.6 887.5h0M192.9 879.2h0M253.7 884.8h0M254.6 882.7h0M260.0 878.9h0M228.9 880.2h0M265.5 894.1h0M234.8 880.4h0M204.3 880.1h0M262.5 881.2h0M246.2 885.2h0M254.3 885.2h0M196.0 888.0h0M194.0 885.3h0M249.0 881.1h0M262.0 883.5h0M260.3 884.0h0M209.6 911.7h0M235.7 879.2h0M234.9 881.6h0M221.1 900.3h0M191.8 896.5h0M213.8 919.2h0M262.3 879.2h0M248.8 885.7h0M229.0 889.4h0M246.5 880.9h0M233.3 888.3h0M232.3 914.1h0M254.6 882.5h0M228.3 883.3h0M263.2 892.1h0M252.6 878.8h0M226.3 886.2h0M227.8 903.8h0M218.0 897.1h0M204.1 898.0h0M216.3 890.9h0M217.2 879.5h0M230.8 880.1h0M219.7 878.9h0M202.0 887.9h0M245.0 895.3h0M258.0 882.6h0M205.3 904.3h0M208.7 896.1h0M254.5 902.9h0M247.6 897.0h0M206.5 901.0h0M206.3 888.2h0M226.5 917.4h0M194.6 886.9h0M204.8 887.3h0M210.0 880.4h0M200.7 881.9h0M236.4 885.0h0M245.2 888.8h0M235.6 884.5h0M231.1 890.3h0M214.8 882.3h0M238.5 897.2h0M217.5 880.5h0M235.7 897.6h0M217.2 879.0h0M199.9 878.8h0M202.6 888.8h0M259.3 888.3h0M220.2 884.4h0M192.0 892.0h0M194.8 882.1h0M223.1 920.0h0M263.8 894.9h0M192.4 883.3h0M214.4 891.1h0M192.6 888.1h0M252.2 882.4h0M256.6 879.3h0M257.3 879.2h0M218.5 878.6h0M261.9 890.7h0M195.6 902.4h0M197.6 880.9h0M256.0 889.6h0M230.0 885.1h0M193.4 884.0h0M221.8 880.1h0M206.3 882.0h0M246.2 883.0h0M237.6 885.1h0M209.2 896.1h0M202.1 895.3h0M192.7 883.3h0M236.1 883.1h0M253.7 899.7h0M240.0 900.1h0M252.5 878.6h0M232.1 889.6h0M214.5 886.2h0M241.0 896.9h0M240.1 879.4h0M200.5 882.3h0M248.6 879.4h0M202.0 879.6h0M250.3 894.3h0M199.9 885.1h0M201.2 882.6h0M233.0 879.1h0M245.5 880.4h0M220.7 881.1h0M236.9 878.6h0M227.0 884.2h0M251.9 889.5h0M261.8 889.5h0M256.9 881.4h0M248.6 882.5h0M236.8 883.0h0M191.0 880.3h0M262.5 893.4h0M203.3 878.6h0M221.4 888.2h0M209.3 886.9h0M228.1 883.0h0M215.8 891.2h0M252.4 878.6h0M258.1 896.6h0M259.1 882.3h0M215.0 894.4h0M212.7 889.1h0M208.6 888.4h0M238.9 912.2h0M193.5 884.7h0M196.5 893.6h0M195.0 883.5h0M231.5 888.7h0M246.7 890.3h0M208.0 892.5h0M248.2 880.4h0M210.1 885.2h0M213.4 879.5h0M204.1 893.1h0M250.1 891.2h0M197.5 893.0h0M215.0 889.2h0M238.8 879.9h0M259.9 896.3h0M227.9 881.6h0M198.2 880.4h0M223.3 879.1h0M228.9 890.2h0M217.2 879.7h0M237.9 908.7h0M192.2 879.1h0M257.0 889.1h0M265.6 882.1h0M211.1 888.3h0M265.3 883.9h0M203.3 906.1h0M225.6 896.5h0M237.4 879.3h0M217.6 879.5h0M199.8 879.0h0M221.9 881.9h0M261.5 882.6h0M220.0 886.8h0M230.7 881.6h0M215.4 896.6h0M217.7 881.4h0M216.9 881.1h0M220.5 878.9h0M227.3 879.1h0M212.9 887.6h0M208.0 879.6h0M250.1 882.3h0M241.9 883.8h0M245.9 884.8h0M239.9 881.5h0M255.5 879.3h0M191.6 878.9h0M222.1 892.5h0M253.7 880.3h0M263.8 885.6h0M205.8 889.5h0M231.1 882.6h0M260.3 886.5h0M248.8 886.8h0M247.7 885.1h0M256.6 884.4h0M214.2 880.4h0M201.8 884.3h0M239.6 891.8h0M262.2 921.2h0M243.9 882.8h0M208.8 880.8h0M223.2 886.6h0M254.3 880.8h0M262.9 882.9h0M252.3 882.7h0M227.4 881.5h0M257.7 885.0h0M243.6 882.4h0M246.2 902.8h0M224.6 901.3h0M232.2 881.0h0M215.6 893.8h0M203.8 844.2h0M263.8 844.4h0M247.0 844.2h0M240.1 843.9h0M206.9 844.7h0M214.1 844.7h0M250.9 844.1h0M241.7 844.5h0M225.1 843.9h0M237.3 844.3h0M223.6 844.5h0M226.8 844.3h0M265.2 844.4h0M252.3 844.2h0M211.0 844.6h0M231.2 844.1h0M257.0 844.3h0M194.1 844.2h0M239.5 844.7h0M236.7 844.0h0M209.1 844.1h0M219.4 843.9h0M259.3 844.4h0M198.7 844.1h0M264.3 844.1h0M261.2 844.0h0M240.5 844.0h0M231.4 844.5h0M218.7 844.0h0M249.2 843.9h0M264.6 855.9h0M206.3 855.9h0M220.1 855.9h0M211.9 855.6h0M228.1 855.5h0M223.7 855.4h0M227.9 855.8h0M235.4 855.6h0M209.8 855.7h0M226.2 855.4h0M235.4 855.5h0M257.5 855.8h0M232.3 855.9h0M203.9 855.7h0M197.5 855.6h0M226.4 856.0h0M218.4 855.8h0M206.8 855.3h0M229.0 855.7h0M257.5 855.5h0M214.7 855.6h0M193.7 855.7h0M213.7 855.7h0M253.8 855.5h0M201.1 856.0h0M247.5 855.5h0M244.8 856.1h0M241.5 855.6h0M221.2 856.1h0M218.6 855.7h0" stroke="#2ca02c" stroke-width="4.6" stroke-linecap="round" fill="none"/>
<rect x="267.4" y="820.3" width="74.2" height="26.4" fill="#d62728"/>
<rect x="267.4" y="853.3" width="74.2" height="25.8" fill="#d62728"/>
<path d="M329.1 826.8h0M279.9 818.5h0M276.4 817.9h0M326.7 821.6h0M311.8 817.9h0M330.6 824.1h0M282.2 821.5h0M334.9 826.8h0M275.8 818.3h0M336.7 806.1h0M290.4 819.2h0M275.2 819.0h0M310.7 826.1h0M272.6 807.9h0M323.0 808.3h0M315.5 825.8h0M332.9 823.1h0M313.1 812.6h0M284.6 824.0h0M332.2 826.4h0M331.4 826.2h0M297.3 821.8h0M317.0 820.6h0M333.7 825.6h0M334.6 825.1h0M331.7 823.3h0M321.5 814.8h0M325.0 826.8h0M277.2 820.9h0M324.0 810.0h0M329.6 816.0h0M339.2 825.8h0M331.1 824.2h0M296.5 816.3h0M310.3 820.8h0M336.6 821.8h0M269.7 822.6h0M291.8 808.1h0M322.1 802.3h0M300.7 816.2h0M338.4 820.5h0M308.1 825.0h0M305.2 824.6h0M326.6 824.8h0M327.4 824.7h0M309.4 826.1h0M325.1 826.0h0M270.2 824.3h0M293.5 821.5h0M279.1 817.3h0M284.3 818.2h0M288.7 819.2h0M339.1 826.7h0M327.1 826.2h0M299.4 820.3h0M272.2 807.0h0M277.6 823.4h0M286.9 820.0h0M316.5 826.5h0M334.0 822.8h0M336.1 816.3h0M330.2 825.5h0M311.6 805.4h0M282.2 824.0h0M295.7 825.0h0M291.3 812.1h0M337.8 818.2h0M323.2 826.0h0M278.0 818.5h0M285.1 826.7h0M290.3 818.8h0M283.5 822.3h0M289.7 809.1h0M327.4 825.1h0M319.3 826.1h0M276.7 822.9h0M318.4 825.3h0M307.7 818.8h0M318.0 810.3h0M291.8 822.1h0M277.2 824.8h0M312.4 826.9h0M320.2 814.8h0M309.6 811.8h0M302.2 817.5h0M272.5 824.3h0M287.0 823.3h0M304.9 817.7h0M281.4 826.7h0M291.7 825.7h0M291.8 826.5h0M297.6 819.6h0M291.6 823.2h0M272.2 818.7h0M286.3 825.4h0M331.1 825.4h0M312.5 822.8h0M295.2 825.3h0M333.3 820.0h0M311.4 826.7h0M325.9 824.5h0M315.5 820.4h0M276.9 825.6h0M331.5 825.6h0M297.9 823.6h0M326.5 825.5h0M335.6 825.0h0M324.9 826.0h0M318.6 826.8h0M328.3 821.8h0M311.9 826.4h0M287.3 824.5h0M319.9 825.3h0M338.6 826.0h0M313.5 822.0h0M273.9 821.4h0M336.1 825.7h0M335.9 812.9h0M271.4 826.8h0M299.5 822.5h0M303.7 822.7h0M315.8 825.5h0M338.7 817.7h0M327.6 826.4h0M270.0 824.2h0M290.7 825.4h0M274.0 822.7h0M334.1 821.9h0M319.7 817.8h0M281.2 823.4h0M281.2 826.6h0M323.6 814.5h0M320.5 824.9h0M333.5 825.1h0M302.0 824.8h0M291.7 827.0h0M313.0 825.0h0M321.7 819.1h0M329.9 826.6h0M330.0 816.8h0M274.9 826.4h0M309.7 822.7h0M294.0 824.6h0M279.8 826.1h0M335.2 822.6h0M278.2 825.1h0M283.7 824.6h0M280.3 824.8h0M309.8 825.6h0M312.5 821.4h0M301.3 817.3h0M321.6 808.0h0M300.2 810.2h0M273.9 821.8h0M320.7 826.7h0M303.1 822.7h0M282.7 826.1h0M309.8 811.6h0M323.8 826.8h0M278.4 821.6h0M273.1 826.8h0M328.5 823.6h0M318.4 809.0h0M278.1 823.7h0M316.2 825.4h0M336.1 825.1h0M273.8 825.7h0M292.0 822.6h0M299.4 823.8h0M329.1 823.9h0M311.4 809.8h0M298.7 821.6h0M289.7 826.1h0M310.8 825.7h0M324.4 817.2h0M323.5 823.2h0M315.7 823.0h0M293.2 818.7h0M315.6 824.3h0M293.4 824.2h0M297.7 825.4h0M330.5 823.5h0M329.8 823.4h0M332.9 824.0h0M299.4 817.5h0M275.8 826.7h0M326.8 825.6h0M337.0 825.6h0M303.5 823.5h0M278.6 823.4h0M329.6 827.0h0M307.0 819.1h0M309.0 827.0h0M300.1 820.8h0M280.7 814.2h0M305.0 822.0h0M279.6 823.1h0M273.8 823.0h0M295.5 826.2h0M337.5 823.7h0M291.9 812.1h0M294.4 812.7h0M335.2 825.3h0M320.7 826.0h0M332.7 824.9h0M338.3 826.4h0M296.1 821.5h0M326.1 826.0h0M320.8 826.6h0M287.4 823.1h0M308.0 826.6h0M295.1 823.4h0M321.2 824.1h0M323.2 825.5h0M278.5 817.2h0M285.0 814.1h0M275.2 812.7h0M273.5 823.4h0M271.9 826.8h0M335.6 820.9h0M282.1 822.1h0M333.6 825.4h0M274.9 812.4h0M307.6 819.1h0M300.9 813.4h0M272.8 821.8h0M303.4 808.0h0M307.2 822.9h0M319.9 807.0h0M306.0 824.3h0M297.2 811.7h0M307.6 826.6h0M319.7 818.4h0M272.7 819.1h0M290.7 814.2h0M287.1 813.7h0M325.5 826.8h0M332.2 817.8h0M336.8 820.5h0M274.6 826.5h0M300.9 818.7h0M270.1 815.3h0M324.3 823.4h0M293.0 821.1h0M273.2 825.4h0M298.6 824.9h0M312.6 822.7h0M284.6 808.8h0M283.6 822.6h0M297.7 826.2h0M320.4 822.1h0M308.0 825.0h0M305.1 820.2h0M331.3 826.6h0M326.9 819.4h0M329.2 822.3h0M281.3 823.9h0M307.3 826.2h0M321.8 821.7h0M288.5 811.0h0M270.6 817.8h0M331.9 817.8h0M290.3 823.4h0M281.5 825.2h0M321.0 825.1h0M295.5 823.8h0M291.3 826.8h0M331.9 821.0h0M325.2 821.4h0M309.6 827.0h0M296.1 820.5h0M289.7 826.0h0M290.5 817.5h0M318.0 822.4h0M280.2 821.0h0M301.0 826.5h0M320.2 826.8h0M294.4 823.8h0M300.7 816.0h0M320.0 821.9h0M289.7 824.0h0M300.7 820.1h0M273.9 809.2h0M319.1 826.8h0M273.2 825.7h0M310.4 822.9h0M276.5 826.5h0M333.4 806.5h0M335.8 817.9h0M317.8 817.2h0M304.3 826.4h0M296.8 825.9h0M289.9 826.6h0M309.6 825.9h0M324.3 824.3h0M302.7 824.9h0M300.5 902.6h0M281.8 880.5h0M313.9 880.1h0M281.7 876.2h0M301.8 897.2h0M293.6 874.5h0M312.8 876.7h0M292.4 885.0h0M336.8 875.5h0M298.5 890.1h0M295.9 883.6h0M287.5 884.0h0M289.4 873.3h0M295.7 875.6h0M291.4 873.6h0M277.0 873.5h0M276.6 877.2h0M318.4 875.6h0M310.3 874.1h0M330.3 876.5h0M314.4 890.7h0M306.1 874.7h0M284.3 877.9h0M294.5 878.1h0M303.4 885.7h0M302.8 873.6h0M317.7 883.3h0M273.9 879.3h0M337.3 880.0h0M313.8 889.3h0M321.9 882.9h0M277.2 878.2h0M311.9 887.9h0M283.6 879.2h0M315.3 879.6h0M300.2 907.2h0M304.5 877.1h0M318.0 873.5h0M333.8 917.3h0M324.9 896.9h0M318.7 886.2h0M337.0 889.8h0M321.1 886.3h0M315.1 882.8h0M325.3 877.5h0M280.7 874.2h0M283.8 890.9h0M312.9 891.2h0M284.4 878.6h0M274.5 893.7h0M300.1 872.7h0M303.0 874.1h0M273.1 883.7h0M317.4 891.7h0M309.0 881.7h0M280.6 877.2h0M305.8 910.4h0M332.2 875.4h0M279.6 876.2h0M322.0 890.3h0M317.0 879.0h0M296.2 876.6h0M334.2 884.2h0M319.0 923.3h0M289.5 872.8h0M311.3 880.6h0M323.1 873.5h0M326.6 874.9h0M280.3 883.5h0M279.5 878.4h0M323.0 894.6h0M294.7 880.2h0M314.9 876.3h0M293.5 882.7h0M330.1 884.9h0M310.4 884.4h0M285.4 875.6h0M280.4 873.2h0M306.1 903.1h0M309.7 873.8h0M283.8 874.1h0M292.4 884.5h0M324.3 894.9h0M334.4 880.2h0M280.9 873.7h0M281.0 875.5h0M299.9 901.9h0M277.4 888.1h0M319.6 877.3h0M302.6 873.6h0M336.3 881.7h0M276.4 876.8h0M303.5 886.2h0M282.1 914.4h0M273.6 873.8h0M306.0 876.1h0M326.1 883.9h0M332.6 893.6h0M315.6 884.7h0M293.1 879.9h0M326.3 884.1h0M324.2 873.7h0M331.1 881.2h0M277.1 902.1h0M284.1 875.8h0M313.6 880.1h0M327.7 874.9h0M318.4 886.7h0M329.4 885.2h0M311.9 875.5h0M298.6 874.8h0M329.6 879.6h0M309.8 873.9h0M321.6 899.1h0M320.0 891.4h0M305.6 876.8h0M272.6 880.5h0M327.4 878.3h0M305.2 882.9h0M331.9 876.8h0M337.3 901.4h0M287.6 873.2h0M302.2 883.7h0M326.4 876.7h0M304.4 876.2h0M292.8 885.7h0M339.2 897.5h0M285.9 875.8h0M334.2 887.9h0M329.9 881.7h0M329.3 872.4h0M297.6 883.8h0M296.1 873.5h0M285.0 883.3h0M272.1 876.3h0M335.0 879.4h0M329.6 883.7h0M278.1 882.2h0M331.5 880.6h0M326.1 898.4h0M328.7 884.1h0M304.1 876.2h0M301.7 874.5h0M306.8 874.6h0M306.4 888.7h0M333.1 875.1h0M301.5 873.3h0M312.5 884.5h0M293.7 875.9h0M289.8 884.2h0M299.0 878.1h0M330.7 873.5h0M292.6 874.1h0M277.3 875.8h0M283.4 888.3h0M296.3 872.9h0M315.4 875.4h0M316.2 882.0h0M300.8 878.6h0M322.5 880.9h0M334.0 875.1h0M277.6 909.1h0M291.5 873.9h0M273.5 894.6h0M329.7 873.1h0M337.6 874.0h0M296.0 876.1h0M336.6 889.8h0M309.9 874.0h0M306.3 875.8h0M333.2 875.2h0M319.0 912.8h0M295.8 878.7h0M319.0 873.8h0M282.4 899.5h0M336.7 875.2h0M272.0 896.6h0M270.1 879.9h0M293.7 878.0h0M292.6 876.1h0M274.0 873.1h0M313.9 875.3h0M292.8 875.7h0M277.3 882.3h0M287.6 878.8h0M321.7 877.7h0M284.4 888.9h0M322.5 885.3h0M330.6 883.4h0M296.2 875.3h0M299.3 875.5h0M282.0 873.7h0M314.8 879.5h0M301.9 893.9h0M285.4 882.0h0M311.6 881.2h0M272.7 876.5h0M323.5 881.7h0M303.9 873.4h0M333.3 880.6h0M273.4 873.9h0M298.9 889.1h0M324.6 892.1h0M293.3 889.6h0M317.3 878.0h0M319.1 877.6h0M269.9 879.9h0M303.6 891.5h0M337.1 875.6h0M317.7 877.3h0M300.8 904.3h0M311.2 874.4h0M321.7 887.4h0M303.8 878.4h0M331.5 888.4h0M283.2 880.6h0M339.0 883.6h0M291.0 876.8h0M289.4 885.0h0M282.0 873.5h0M296.9 894.3h0M293.6 879.6h0M327.0 894.6h0M322.2 880.3h0M298.8 881.3h0M317.9 888.6h0M290.1 872.4h0M297.2 884.5h0M333.9 922.6h0M328.1 886.6h0M338.5 899.9h0M326.1 883.8h0M326.9 876.1h0M327.5 882.1h0M315.4 876.2h0M284.2 887.2h0M284.4 876.0h0M321.9 880.4h0M272.8 873.5h0M287.2 883.2h0M275.2 875.8h0M283.3 874.7h0M318.1 880.5h0M324.8 881.7h0M278.7 872.4h0M310.9 898.7h0M332.7 877.5h0M270.1 872.5h0M308.7 889.9h0M312.7 882.0h0M335.1 913.9h0M314.0 882.2h0M299.7 880.1h0M296.9 893.2h0M319.8 883.7h0M277.8 873.6h0M314.8 875.4h0M315.6 881.7h0M300.1 875.2h0M295.9 875.4h0M317.3 874.4h0M313.9 884.4h0M314.9 872.7h0M336.5 872.5h0M283.3 883.9h0M326.7 891.8h0M272.3 881.4h0M294.8 877.8h0M272.8 877.1h0M297.4 875.2h0M275.8 872.7h0M290.3 876.5h0M322.9 879.8h0M319.2 886.4h0M321.9 913.4h0M312.8 896.4h0M290.3 897.3h0M283.1 884.8h0M295.5 907.8h0M317.9 872.9h0M304.9 875.5h0M306.7 899.2h0M319.5 873.8h0M312.1 882.3h0M336.2 890.7h0M297.8 882.0h0M285.5 872.7h0M319.1 888.5h0M283.0 878.1h0M312.2 875.8h0M327.1 872.7h0M300.5 874.6h0M270.9 878.4h0M289.4 879.5h0M324.8 872.6h0M338.8 882.4h0M330.8 913.4h0M312.7 873.6h0M283.0 874.5h0M326.6 873.7h0M313.0 878.5h0M280.0 873.0h0M324.6 879.1h0M308.9 886.6h0M275.6 882.7h0M326.4 897.3h0M301.7 878.6h0M273.0 879.2h0M281.8 873.5h0M304.1 874.0h0M327.9 880.2h0M284.2 879.7h0M313.7 883.1h0M298.9 904.0h0M337.4 888.7h0M274.0 890.8h0M311.3 878.0h0M304.8 875.4h0M283.2 877.4h0M335.7 877.9h0M289.0 884.8h0M328.9 898.1h0M327.3 874.6h0M318.5 877.3h0M297.6 874.1h0M294.6 873.8h0M303.7 878.0h0M327.4 876.2h0M324.3 876.5h0M288.6 890.0h0M275.5 873.5h0M336.5 912.0h0M302.2 883.2h0M320.4 900.0h0M333.7 874.4h0M295.0 892.4h0M283.4 894.7h0M290.5 878.3h0M286.9 884.3h0M270.5 904.9h0M330.2 911.1h0M311.0 875.1h0M312.1 876.1h0M298.8 874.1h0M292.4 887.5h0M316.1 873.5h0M314.1 873.4h0M293.9 878.6h0M312.3 873.8h0M305.4 878.6h0M290.0 873.8h0M287.4 874.4h0M277.5 886.7h0M306.3 895.4h0M273.8 884.4h0M294.9 873.7h0M310.3 879.7h0M292.4 878.1h0M318.6 875.2h0M320.3 880.3h0M277.3 880.3h0M315.3 909.6h0M295.6 882.2h0M331.6 880.5h0M294.3 894.0h0M309.3 888.8h0M311.9 887.0h0M284.0 887.6h0M280.8 876.4h0M275.4 885.5h0M285.6 877.9h0M336.6 877.4h0M317.5 883.4h0M284.8 875.0h0M310.7 921.5h0M312.4 880.6h0M277.2 876.0h0M315.4 895.2h0M321.8 883.9h0M292.4 873.8h0M313.1 879.4h0M334.1 882.1h0M282.4 873.8h0M312.2 876.3h0M274.0 873.5h0M277.3 908.0h0M276.5 874.7h0M330.4 876.5h0M275.5 884.3h0M288.0 879.9h0M299.8 877.8h0M314.0 874.3h0M330.4 877.3h0M295.1 882.6h0M273.5 873.7h0M312.5 874.1h0M282.7 878.6h0M319.0 872.5h0M297.8 879.2h0M311.5 875.9h0M274.4 873.4h0M331.0 873.8h0M290.6 877.7h0M332.5 902.6h0M309.5 883.8h0M299.3 873.3h0M327.9 885.1h0M308.2 880.2h0M280.9 877.1h0M314.1 896.8h0M312.5 882.5h0M297.6 881.3h0M277.2 882.8h0M320.0 879.3h0M321.4 877.0h0M293.8 873.6h0M310.9 873.1h0M335.7 888.7h0M295.6 873.2h0M324.4 882.6h0M328.8 874.9h0M333.4 872.9h0M284.4 884.1h0M274.7 879.6h0M325.4 887.1h0M323.6 899.3h0M295.7 877.9h0M289.6 877.0h0M308.7 873.1h0M312.4 881.4h0M303.5 872.7h0M322.0 878.8h0M300.6 887.6h0M321.6 880.2h0M313.7 885.0h0M329.4 884.0h0M311.1 878.4h0M276.8 874.1h0M288.2 885.1h0M292.5 872.7h0M316.6 882.7h0M303.8 880.3h0M288.6 875.3h0M318.5 885.3h0M287.4 881.4h0M298.9 896.7h0M325.4 887.1h0M336.6 874.3h0M270.0 874.5h0M302.6 887.0h0M276.6 877.7h0M313.6 879.7h0M323.2 883.6h0M321.6 899.2h0M322.3 901.4h0M317.5 879.7h0M315.3 873.6h0M334.2 883.5h0M291.0 877.2h0M326.0 889.7h0M328.1 879.2h0M287.2 882.6h0M305.3 878.5h0M318.6 889.1h0M281.9 873.3h0M290.8 899.1h0M286.5 875.9h0M296.7 897.7h0M272.0 905.4h0M310.5 877.6h0M310.4 877.8h0M314.7 876.1h0M292.4 877.1h0M274.1 881.8h0M328.2 906.0h0M291.9 880.7h0M296.8 876.5h0M318.6 877.1h0M314.7 888.8h0M313.0 877.6h0M332.6 893.4h0M300.1 874.6h0M273.9 880.9h0M291.4 880.6h0M277.2 875.0h0M326.9 874.1h0M315.4 892.0h0M334.4 873.1h0M333.5 875.0h0M332.1 882.9h0M334.8 874.8h0M312.7 876.8h0M314.3 896.9h0M323.3 888.5h0M311.6 883.7h0M286.1 873.8h0M318.6 886.1h0M288.9 872.6h0M289.2 894.7h0M335.5 875.1h0M330.3 918.6h0M287.1 875.9h0M277.3 889.5h0M320.7 876.1h0M299.4 897.9h0M335.7 914.9h0M307.9 873.6h0M319.0 882.4h0M306.8 876.1h0M287.7 881.9h0M295.5 873.3h0M279.7 877.7h0M308.8 880.4h0M325.5 887.8h0M305.9 879.4h0M329.6 883.6h0M310.7 893.6h0M294.8 886.0h0M338.8 890.2h0M306.3 876.6h0M329.2 874.5h0M270.7 874.8h0M309.8 908.6h0M269.9 876.0h0M277.0 893.4h0M336.8 875.3h0M312.9 901.5h0M337.6 900.0h0M325.0 892.6h0M305.5 893.7h0M312.3 918.9h0M317.2 872.6h0M306.2 875.5h0M338.2 877.8h0M323.8 878.0h0M312.1 874.5h0M285.3 872.5h0M304.7 885.6h0M288.3 877.2h0M334.9 904.8h0M281.9 883.8h0M316.0 873.6h0M335.9 873.1h0M309.6 874.4h0M274.2 878.1h0M272.2 878.9h0M317.3 887.2h0M293.4 874.9h0M333.6 875.3h0M305.6 875.1h0M270.7 881.8h0M304.2 883.4h0M319.1 884.1h0M271.2 872.5h0M322.1 874.7h0M301.3 844.6h0M284.4 844.0h0M327.5 844.4h0M302.1 844.6h0M305.3 844.1h0M308.3 844.7h0M315.2 844.2h0M291.1 844.4h0M328.9 844.1h0M289.7 843.9h0M288.8 844.4h0M281.2 844.2h0M325.1 844.3h0M302.5 844.0h0M285.9 844.2h0M280.0 844.1h0M328.9 844.1h0M278.5 844.6h0M273.6 844.4h0M327.4 844.0h0M281.2 844.2h0M286.2 844.2h0M286.8 844.1h0M279.9 844.1h0M283.8 844.6h0M330.3 844.3h0M338.0 844.4h0M322.8 844.2h0M315.3 844.5h0M298.6 844.3h0M283.4 855.5h0M331.1 855.7h0M333.7 855.9h0M329.5 855.4h0M331.2 856.0h0M287.4 855.9h0M327.3 855.4h0M305.8 855.4h0M270.1 855.4h0M297.9 855.4h0M333.3 855.9h0M281.4 856.0h0M292.7 855.6h0M276.7 855.8h0M316.7 856.0h0M298.1 855.8h0M329.0 855.9h0M272.2 855.3h0M330.1 856.1h0M314.9 856.0h0M324.9 856.0h0M280.0 855.9h0M337.0 855.7h0M271.2 855.4h0M301.7 855.8h0M311.8 856.0h0M312.4 855.7h0M288.1 855.5h0M309.8 855.5h0M330.0 855.9h0" stroke="#d62728" stroke-width="4.6" stroke-linecap="round" fill="none"/>
<path d="M78.0 836.6h0M84.0 836.0h0M97.0 835.4h0M70.0 856.7h0M80.0 860.1h0" stroke="#ff7f0e" stroke-width="4.6" stroke-linecap="round" fill="none"/>
<path d="M57.0 833.2h0M66.0 841.0h0M70.0 840.5h0M95.0 832.1h0M112.0 828.2h0M65.0 860.1h0M68.0 858.4h0M71.0 857.3h0M94.0 889.2h0M65.0 864.6h0M132.0 858.4h0M138.0 864.6h0M148.0 864.6h0M137.0 879.1h0M155.0 839.4h0M138.0 895.4h0" stroke="#2ca02c" stroke-width="4.6" stroke-linecap="round" fill="none"/>
<path d="M63.0 827.6h0M88.0 843.8h0M57.0 868.5h0M87.0 862.3h0M94.0 876.9h0M131.0 868.5h0M151.0 876.9h0M160.0 833.2h0M192.0 843.8h0M194.0 843.8h0M212.0 841.0h0M191.0 810.8h0M239.0 874.6h0M252.0 875.8h0M263.0 889.2h0" stroke="#d62728" stroke-width="4.6" stroke-linecap="round" fill="none"/>
<path d="M381.3 841.1h0M437.5 841.1h0M456.2 830.6h0M400.5 840.5h0M456.1 841.4h0M426.1 841.0h0M437.8 832.6h0M427.2 841.8h0M378.2 839.6h0M384.8 842.6h0M421.1 841.3h0M427.0 840.4h0M399.4 840.7h0M414.3 840.6h0M387.0 841.2h0M400.3 835.0h0M423.3 834.4h0M403.0 843.6h0M408.7 837.3h0M389.1 837.3h0M392.9 813.6h0M390.7 840.4h0M424.2 821.3h0M388.7 843.6h0M400.9 841.3h0M380.2 837.5h0M440.6 843.5h0M444.2 839.0h0M392.2 833.4h0M424.4 839.4h0M414.6 836.0h0M382.7 843.6h0M390.8 844.2h0M402.2 842.2h0M413.4 841.2h0M379.6 837.2h0M406.4 837.6h0M397.5 828.2h0M451.5 833.9h0M422.1 841.2h0M436.5 837.3h0M413.2 842.4h0M393.6 841.9h0M379.9 840.0h0M390.5 842.2h0M436.0 835.7h0M441.6 842.4h0M406.4 842.1h0M389.8 842.8h0M392.4 841.8h0M396.1 837.2h0M397.6 834.9h0M426.7 839.9h0M438.5 841.5h0M422.5 843.3h0M419.2 830.2h0M391.8 835.8h0M399.7 843.7h0M422.9 840.5h0M399.4 838.2h0M395.2 831.4h0M453.4 839.6h0M376.8 806.4h0M382.3 841.2h0M426.7 837.9h0M449.2 842.8h0M387.9 838.8h0M402.5 831.3h0M388.3 842.5h0M377.1 842.5h0M400.1 837.6h0M377.3 839.2h0M397.6 829.0h0M447.1 805.0h0M398.5 832.7h0M383.2 837.0h0M392.2 837.7h0M379.0 843.3h0M451.2 816.5h0M386.1 834.3h0M428.3 837.1h0M386.2 841.7h0M376.9 841.1h0M394.9 809.7h0M453.5 828.2h0M392.3 837.7h0M400.6 839.5h0M393.3 838.6h0M428.6 834.5h0M394.3 842.1h0M454.5 837.2h0M407.7 840.8h0M417.1 837.1h0M407.4 834.6h0M401.9 832.8h0M441.7 832.8h0M408.0 837.8h0M405.5 833.3h0M396.2 832.2h0M387.6 833.0h0M435.7 842.1h0M399.5 822.1h0M376.6 811.8h0M449.6 842.3h0M380.3 835.4h0M408.7 840.6h0M388.5 835.8h0M415.4 840.4h0M453.3 844.0h0M392.9 838.6h0M382.5 835.8h0M430.5 834.1h0M420.7 839.1h0M451.9 840.7h0M437.9 834.2h0M456.3 834.9h0M381.4 822.4h0M455.7 834.6h0M442.7 829.1h0M436.4 832.4h0M438.9 843.3h0M426.9 841.8h0M382.3 836.1h0M430.5 831.2h0M449.6 836.0h0M399.0 839.5h0M402.1 842.1h0M454.9 843.8h0M383.9 826.4h0M418.3 842.2h0M440.6 840.4h0M376.6 839.8h0M389.7 835.1h0M415.9 844.1h0M402.0 840.9h0M396.2 842.2h0M378.3 842.0h0M415.0 828.4h0M455.9 842.7h0M446.3 838.2h0M392.7 830.1h0M431.6 842.0h0M382.4 840.2h0M380.9 837.8h0M404.5 838.8h0M440.8 840.8h0M456.1 833.9h0M450.9 830.4h0M390.0 843.1h0M455.2 825.9h0M378.2 837.4h0M389.8 841.4h0M410.7 834.2h0M388.8 843.5h0M386.7 836.3h0M440.1 841.3h0M387.6 843.9h0M443.5 841.1h0M388.9 840.8h0M392.0 834.9h0M395.7 843.8h0M440.0 834.8h0M447.7 842.1h0M382.0 829.5h0M387.7 829.8h0M410.9 838.7h0M418.6 821.5h0M427.0 841.2h0M442.4 840.2h0M389.3 827.0h0M406.0 843.8h0M379.0 834.7h0M440.2 814.9h0M431.9 839.2h0M387.1 844.0h0M402.2 829.4h0M405.9 837.7h0M444.5 840.2h0M439.7 840.5h0M428.1 834.2h0M382.7 843.6h0M390.5 840.5h0M425.6 840.7h0M431.8 832.1h0M396.8 842.6h0M386.4 813.0h0M414.4 840.2h0M437.0 842.1h0M445.0 840.2h0M389.8 836.8h0M401.4 841.4h0M403.4 834.7h0M450.1 841.0h0M386.1 830.4h0M455.4 830.5h0M410.7 825.8h0M419.4 843.6h0M433.3 823.2h0M454.4 839.9h0M427.1 834.1h0M445.6 854.6h0M420.3 869.0h0M414.7 854.6h0M452.6 863.7h0M405.4 857.4h0M412.7 855.9h0M378.2 865.3h0M393.8 859.5h0M410.3 858.7h0M380.4 858.6h0M452.0 872.8h0M394.4 869.7h0M422.0 854.7h0M439.3 860.0h0M384.6 867.6h0M451.6 856.0h0M441.5 859.8h0M399.2 862.9h0M398.0 871.0h0M423.6 863.0h0M423.5 871.3h0M396.1 861.5h0M378.7 868.5h0M445.5 854.6h0M396.6 876.7h0M396.8 863.5h0M380.9 859.9h0M434.9 869.6h0M446.8 885.4h0M392.5 863.4h0M388.1 915.4h0M414.9 861.9h0M441.5 859.0h0M422.0 867.7h0M379.1 879.9h0M451.1 858.2h0M392.4 867.0h0M453.6 860.7h0M439.2 854.5h0M386.9 856.2h0M393.7 896.5h0M389.0 876.3h0M377.2 866.1h0M422.5 871.7h0M429.8 886.6h0M418.2 854.7h0M416.2 869.9h0M405.7 877.5h0M386.6 877.9h0M415.8 859.6h0M456.2 881.6h0M407.4 859.0h0M425.0 858.2h0M397.5 861.6h0M392.9 859.8h0M451.7 860.6h0M404.6 864.5h0M436.6 861.6h0M417.6 854.0h0M397.9 865.0h0M414.4 885.2h0M397.7 862.2h0M379.8 859.8h0M385.9 885.2h0M398.6 864.1h0M386.2 874.7h0M437.6 869.5h0M431.8 854.8h0M448.4 864.8h0M392.0 859.1h0M393.7 867.2h0M419.5 870.0h0M405.8 860.1h0M406.8 862.0h0M385.1 862.4h0M381.6 867.3h0M442.1 880.4h0M447.7 874.5h0M387.7 881.9h0M386.6 859.4h0M384.1 854.9h0M399.0 866.7h0M417.4 873.7h0M448.3 853.9h0M380.7 865.1h0M400.3 860.9h0M438.9 901.8h0M447.4 864.0h0M420.3 861.3h0M419.4 855.3h0M398.6 858.4h0M381.5 855.1h0M418.2 868.5h0M446.1 855.1h0M426.3 872.2h0M444.6 861.3h0M423.5 870.9h0M403.1 860.9h0M409.6 855.2h0M413.3 878.8h0M384.8 866.8h0M435.5 874.5h0M408.6 863.0h0M413.6 860.2h0M408.9 886.0h0M383.6 854.5h0M383.8 868.0h0M444.1 891.7h0M412.5 857.1h0M445.5 860.8h0M391.1 868.2h0M418.7 865.6h0M429.6 855.3h0M447.8 859.6h0M416.6 884.1h0M411.5 868.7h0M384.9 859.0h0M418.3 876.4h0M380.1 863.2h0M404.6 880.4h0M436.3 864.5h0M386.2 858.8h0M441.0 863.3h0M451.2 870.7h0M381.5 862.8h0M379.9 881.7h0M420.5 871.3h0M387.4 860.3h0M439.2 864.0h0M402.1 854.9h0M384.4 868.5h0M428.3 854.5h0M390.8 869.3h0M423.7 857.6h0M415.7 868.3h0M421.1 865.0h0M455.7 866.1h0M382.4 861.8h0M437.7 871.0h0M390.0 858.3h0M440.1 861.1h0M402.5 869.5h0M425.6 862.2h0M448.6 859.7h0M418.8 866.3h0M430.9 854.6h0M379.0 856.1h0M383.1 875.6h0M398.5 861.6h0M393.6 860.2h0M426.6 878.3h0M403.5 865.3h0M452.9 868.6h0M416.7 857.8h0M397.6 868.9h0M447.5 861.5h0M399.7 881.9h0M426.3 860.9h0M447.7 861.1h0M435.0 864.6h0M392.0 865.0h0M428.6 858.1h0M439.7 855.5h0M392.7 855.8h0M419.1 857.6h0M408.4 861.0h0M385.0 887.7h0M423.9 857.3h0M422.3 860.7h0M436.7 866.4h0M425.7 868.7h0M437.6 864.0h0M432.4 871.1h0M429.8 871.4h0M434.4 865.9h0M413.9 858.0h0M424.4 858.8h0M405.8 861.3h0M440.1 884.7h0M424.4 854.9h0M404.7 886.3h0M449.8 863.2h0M455.6 862.1h0M443.8 856.0h0M413.5 875.3h0M393.6 856.2h0M447.2 878.4h0M382.9 862.3h0M451.2 858.2h0M451.9 870.5h0" stroke="#1f77b4" stroke-width="4.6" stroke-linecap="round" fill="none"/>
<path d="M474.3 842.2h0M482.2 838.6h0M461.9 844.5h0M461.5 843.9h0M493.6 839.0h0M473.4 843.1h0M481.1 836.0h0M468.1 842.5h0M469.9 839.3h0M477.1 838.3h0M486.9 843.2h0M476.4 834.1h0M478.7 842.5h0M459.2 834.4h0M460.5 830.7h0M485.1 844.4h0M493.9 827.2h0M493.6 822.8h0M479.0 842.5h0M456.7 842.6h0M463.7 839.3h0M463.9 834.9h0M494.4 835.8h0M475.2 841.4h0M474.8 842.7h0M474.5 827.4h0M458.3 836.4h0M472.4 828.3h0M471.0 833.9h0M461.2 828.0h0M470.6 842.7h0M487.5 830.8h0M487.5 831.1h0M464.4 827.7h0M474.2 842.5h0M484.3 837.4h0M484.9 841.5h0M457.9 843.0h0M485.9 830.8h0M478.1 834.8h0M459.0 833.5h0M467.8 840.3h0M457.3 841.8h0M470.7 836.2h0M481.2 836.4h0M476.3 838.4h0M469.2 835.2h0M458.1 841.3h0M460.0 833.9h0M488.4 843.7h0M467.3 839.9h0M471.7 842.0h0M467.5 841.6h0M474.3 843.7h0M459.2 842.3h0M490.4 831.3h0M462.4 842.4h0M465.0 836.2h0M483.5 841.4h0M462.3 839.5h0M463.3 825.6h0M471.6 840.1h0M473.4 841.0h0M463.4 841.4h0M464.0 828.1h0M459.1 841.9h0M484.4 840.6h0M483.5 843.1h0M489.1 828.5h0M464.7 836.3h0M485.4 843.9h0M462.3 842.8h0M469.2 834.3h0M470.8 841.0h0M486.8 840.4h0M478.9 823.9h0M458.3 837.4h0M459.7 833.7h0M490.4 839.4h0M468.8 837.3h0M492.1 840.1h0M488.7 844.4h0M487.6 839.8h0M487.5 839.5h0M481.3 832.7h0M477.4 840.3h0M471.0 842.1h0M468.4 836.2h0M481.4 835.5h0M479.6 841.3h0M464.0 837.7h0M480.2 843.0h0M493.8 837.9h0M487.3 844.2h0M483.9 844.6h0M468.9 842.1h0M484.3 840.7h0M460.6 842.3h0M463.1 837.8h0M457.4 839.7h0M489.0 860.5h0M463.7 861.3h0M487.6 856.4h0M482.9 862.4h0M487.6 859.5h0M487.5 855.3h0M494.0 860.3h0M494.3 861.0h0M479.3 856.1h0M467.5 858.8h0M456.9 854.4h0M489.7 855.4h0M490.2 864.2h0M460.1 859.5h0M488.3 854.4h0M468.2 858.8h0M459.1 860.8h0M477.9 861.5h0M476.5 854.8h0M494.2 860.5h0M488.3 859.7h0M480.4 856.1h0M472.4 870.4h0M469.7 871.2h0M477.8 855.5h0M487.9 861.3h0M458.2 855.1h0M490.9 861.8h0M460.2 866.3h0M484.1 854.2h0M471.3 855.5h0M462.9 858.6h0M470.1 854.8h0M483.8 865.2h0M493.5 859.0h0M479.2 860.5h0M483.1 867.4h0M460.2 860.4h0M492.3 856.3h0M483.8 858.2h0M465.0 858.6h0M463.6 856.0h0M465.1 865.0h0M457.5 862.1h0M469.0 858.9h0M476.7 868.3h0M465.1 861.2h0M461.6 855.5h0M490.3 854.8h0M486.4 863.4h0M492.3 862.4h0M477.7 857.2h0M469.5 855.4h0M490.9 856.3h0M474.2 859.5h0M484.4 864.7h0M467.2 858.7h0M473.8 866.0h0M469.7 854.7h0M492.0 860.9h0M459.2 854.6h0M479.1 855.4h0M471.0 870.7h0M477.1 855.2h0M462.3 855.2h0M489.5 869.5h0M461.6 868.4h0M492.9 856.4h0M462.9 860.9h0" stroke="#ff7f0e" stroke-width="4.6" stroke-linecap="round" fill="none"/>
<path d="M587.3 822.3h0M537.5 810.0h0M553.7 839.1h0M519.1 828.3h0M513.5 833.5h0M541.1 834.7h0M605.7 828.5h0M534.2 837.2h0M495.6 830.5h0M567.2 838.5h0M604.5 840.6h0M520.5 836.1h0M607.3 842.0h0M545.3 832.8h0M514.6 843.2h0M511.3 843.3h0M564.6 820.7h0M568.2 824.4h0M561.8 831.2h0M564.6 836.6h0M592.8 839.8h0M592.3 838.4h0M604.7 833.3h0M600.7 838.2h0M587.9 821.2h0M537.8 840.5h0M499.0 835.2h0M538.5 824.6h0M566.8 840.5h0M531.0 830.9h0M578.8 822.2h0M570.5 835.7h0M586.6 840.6h0M560.0 814.8h0M560.7 843.0h0M583.0 836.9h0M507.0 842.4h0M513.4 839.8h0M552.1 827.9h0M538.6 839.6h0M523.6 842.3h0M593.5 839.2h0M562.1 836.7h0M561.5 823.9h0M538.2 834.4h0M563.9 833.2h0M535.2 843.0h0M598.2 820.1h0M546.8 842.3h0M608.2 832.3h0M529.7 817.5h0M510.1 843.8h0M553.6 837.8h0M524.7 836.7h0M563.9 833.2h0M608.3 841.4h0M552.7 836.0h0M534.8 838.8h0M546.7 839.1h0M518.2 839.5h0M575.6 841.8h0M607.6 816.3h0M603.8 828.5h0M601.0 834.0h0M551.1 838.3h0M597.3 829.3h0M516.6 823.3h0M509.9 836.1h0M581.8 827.6h0M529.5 829.1h0M588.6 818.7h0M543.7 815.2h0M607.9 810.9h0M605.6 837.1h0M534.1 839.7h0M537.8 839.3h0M504.5 832.5h0M500.1 842.1h0M506.6 842.3h0M533.4 841.8h0M558.2 837.5h0M502.5 836.3h0M567.5 834.4h0M528.8 842.2h0M606.6 842.1h0M557.7 839.6h0M497.2 830.1h0M585.2 833.0h0M570.9 839.2h0M535.1 829.0h0M545.8 841.4h0M559.8 825.2h0M522.4 834.6h0M527.3 826.2h0M511.4 844.0h0M513.7 841.4h0M588.3 838.4h0M539.0 834.4h0M564.9 843.2h0M569.4 830.4h0M498.7 834.7h0M537.9 832.7h0M523.6 839.3h0M582.7 843.9h0M534.1 842.3h0M548.5 836.2h0M594.0 841.8h0M563.1 837.3h0M594.4 837.0h0M525.8 837.0h0M546.5 833.4h0M543.6 821.2h0M607.5 833.7h0M589.9 836.8h0M552.7 836.0h0M509.5 837.5h0M584.4 824.9h0M550.2 840.7h0M541.7 839.8h0M533.6 837.2h0M583.3 832.6h0M600.4 829.0h0M554.4 836.3h0M581.6 826.5h0M568.7 834.9h0M517.7 837.1h0M608.2 821.4h0M500.2 841.3h0M527.0 829.9h0M538.7 817.8h0M544.2 838.6h0M602.4 833.1h0M604.9 820.8h0M556.5 814.3h0M537.4 822.4h0M515.7 839.2h0M515.8 832.5h0M527.7 844.3h0M602.5 844.4h0M527.9 811.3h0M516.8 838.1h0M523.5 805.1h0M568.4 833.1h0M602.7 817.8h0M590.0 839.7h0M545.6 809.3h0M506.0 828.2h0M583.2 839.5h0M531.7 836.1h0M565.4 825.8h0M518.6 840.0h0M555.4 835.7h0M573.9 839.8h0M521.3 830.9h0M505.1 842.9h0M527.8 841.3h0M568.9 824.7h0M538.5 836.6h0M591.9 840.7h0M553.8 839.0h0M523.1 813.4h0M518.6 842.2h0M513.3 834.1h0M520.8 837.8h0M505.4 791.7h0M567.4 841.9h0M505.3 832.0h0M571.2 837.5h0M569.9 829.8h0M567.0 841.0h0M511.6 818.3h0M589.3 842.1h0M586.2 807.0h0M550.2 828.4h0M498.1 842.6h0M597.9 841.7h0M587.8 839.9h0M599.3 836.7h0M516.3 842.3h0M597.9 840.4h0M565.4 844.3h0M562.6 837.6h0M597.2 814.0h0M577.0 824.6h0M543.0 797.9h0M504.0 807.8h0M531.3 839.6h0M520.4 816.0h0M570.6 832.1h0M528.2 831.1h0M533.4 840.1h0M559.8 821.9h0M559.7 832.2h0M546.6 843.8h0M524.0 841.9h0M556.2 821.0h0M565.4 838.2h0M510.8 838.9h0M584.6 842.7h0M509.6 835.1h0M571.8 824.2h0M531.3 813.9h0M568.7 828.5h0M554.5 841.7h0M593.3 843.0h0M573.9 840.7h0M568.2 835.7h0M562.2 825.3h0M543.9 826.0h0M572.6 795.5h0M598.8 842.4h0M556.3 841.7h0M580.8 838.0h0M535.0 838.2h0M547.0 832.9h0M601.0 831.2h0M564.7 838.0h0M511.4 843.2h0M560.3 838.2h0M576.9 843.7h0M583.3 840.9h0M539.7 843.2h0M587.8 840.2h0M554.8 832.4h0M578.7 831.0h0M515.3 836.3h0M607.0 807.5h0M586.7 832.8h0M591.3 841.3h0M600.1 838.1h0M498.2 827.4h0M591.7 839.1h0M542.1 841.7h0M557.1 834.7h0M497.6 841.9h0M582.0 841.6h0M558.8 837.3h0M547.8 838.4h0M507.9 831.7h0M523.2 804.3h0M521.9 837.8h0M577.2 821.7h0M532.4 843.5h0M528.0 821.0h0M496.4 839.9h0M575.3 841.7h0M602.4 844.2h0M594.7 828.2h0M553.6 843.0h0M501.7 869.2h0M525.8 863.9h0M560.5 857.6h0M584.2 862.1h0M562.1 865.6h0M522.4 869.3h0M547.5 876.6h0M585.1 859.2h0M496.7 866.7h0M525.6 858.0h0M590.3 876.4h0M513.7 859.1h0M579.2 858.1h0M538.6 870.9h0M582.0 874.0h0M556.0 871.8h0M512.3 893.8h0M522.1 865.3h0M522.3 863.0h0M558.1 882.2h0M575.1 898.7h0M600.7 866.8h0M513.8 861.6h0M504.0 870.7h0M554.0 888.6h0M495.1 863.8h0M554.7 876.8h0M571.8 889.9h0M543.8 859.0h0M577.3 865.6h0M531.8 874.9h0M557.3 888.3h0M539.5 867.4h0M544.7 877.4h0M578.6 864.9h0M573.3 892.3h0M552.9 870.9h0M582.4 869.5h0M594.9 874.6h0M562.8 864.6h0M569.6 863.1h0M572.5 887.8h0M573.6 861.1h0M527.0 868.7h0M533.4 893.4h0M591.2 861.0h0M556.1 878.4h0M534.0 872.2h0M522.0 863.6h0M513.9 881.7h0M562.7 854.4h0M570.5 868.0h0M520.8 868.9h0M582.4 859.2h0M544.3 884.9h0M528.4 855.1h0M503.3 873.0h0M518.8 869.2h0M586.5 902.5h0M499.7 859.2h0M583.1 883.4h0M497.0 878.7h0M602.8 864.3h0M606.4 859.5h0M556.0 864.0h0M553.4 879.5h0M589.1 889.5h0M563.7 858.5h0M494.9 880.8h0M574.1 902.5h0M499.9 861.3h0M545.4 863.2h0M542.9 873.9h0M598.3 870.8h0M602.0 867.2h0M596.8 862.0h0M500.9 858.7h0M583.9 871.8h0M528.3 874.6h0M585.2 870.5h0M576.0 861.0h0M562.5 871.8h0M524.6 869.7h0M542.9 865.0h0M597.7 869.2h0M596.8 866.7h0M540.1 864.5h0M543.7 860.0h0M596.1 863.7h0M535.0 889.1h0M595.3 885.3h0M586.8 889.6h0M535.0 865.5h0M505.1 856.1h0M601.0 890.8h0M504.4 887.3h0M590.0 866.5h0M518.6 855.9h0M538.4 862.6h0M579.5 864.1h0M499.8 866.8h0M529.9 873.0h0M531.7 869.0h0M587.3 865.2h0M529.5 876.2h0M597.3 856.7h0M513.1 881.1h0M581.5 857.7h0M606.3 853.9h0M566.1 879.1h0M506.6 875.7h0M527.4 882.5h0M566.2 868.2h0M508.5 886.9h0M516.3 871.4h0M601.3 867.6h0M514.7 882.1h0M556.7 864.9h0M567.1 866.4h0M575.4 889.6h0M494.9 879.5h0M579.5 862.3h0M511.2 867.9h0M572.6 897.5h0M565.8 854.4h0M562.1 883.7h0M524.2 861.5h0M546.5 880.6h0M506.1 880.8h0M496.4 869.9h0M514.0 860.9h0M563.1 876.8h0M596.2 875.8h0M529.1 859.4h0M518.4 866.6h0M591.6 869.8h0M546.0 858.6h0M514.1 875.7h0M606.9 865.4h0M595.7 901.0h0M540.2 877.7h0M600.6 862.2h0M560.8 860.8h0M555.6 886.3h0M585.6 872.3h0M510.5 871.6h0M525.5 859.1h0M519.0 865.8h0M507.2 870.6h0M583.2 877.8h0M606.7 858.0h0M584.7 871.3h0M567.1 861.7h0M568.6 871.4h0M589.9 858.7h0M523.7 859.7h0M581.1 857.6h0M583.3 872.0h0M520.5 868.0h0M589.3 885.7h0M535.0 861.7h0M598.0 874.6h0M543.0 885.4h0M498.2 867.4h0M543.4 876.4h0M518.7 866.6h0M530.1 864.4h0M593.8 867.6h0M515.3 870.2h0M540.5 865.2h0M543.3 868.8h0M502.3 864.4h0M502.2 860.2h0M599.9 871.9h0M604.6 861.8h0M521.9 862.8h0M581.1 862.6h0M535.2 867.9h0M557.6 863.5h0M588.3 879.9h0M582.9 880.0h0M525.6 878.0h0M569.4 879.2h0M522.0 880.3h0M508.4 875.4h0M511.9 868.8h0M508.3 897.2h0M579.8 871.7h0M522.6 863.5h0M536.7 867.0h0M544.7 863.7h0M571.3 889.0h0M525.7 858.4h0M559.4 865.2h0M519.0 861.9h0M539.7 860.2h0M515.7 858.1h0M522.7 871.5h0M582.1 881.7h0M548.0 856.7h0M506.1 883.2h0M519.4 883.7h0M523.3 858.2h0M583.9 868.6h0M502.1 867.9h0M509.5 859.3h0M569.7 880.6h0M507.1 861.1h0M574.4 869.4h0M607.6 892.6h0M608.7 868.6h0M598.5 862.3h0M592.2 878.0h0M598.2 863.1h0M570.1 856.4h0M594.0 861.6h0M600.7 859.6h0M498.5 860.4h0M594.4 855.7h0M570.6 867.0h0M568.3 862.1h0M535.3 869.2h0M580.2 857.9h0M529.9 863.1h0M513.4 879.5h0M508.9 860.7h0M520.0 855.5h0M511.8 865.6h0M602.3 860.7h0M587.8 869.6h0M500.4 864.3h0M576.9 858.3h0M516.1 865.3h0M580.8 872.1h0M520.7 866.0h0M522.7 868.4h0M501.2 869.4h0M502.7 859.4h0M498.6 869.3h0M600.0 892.9h0M553.2 878.0h0M501.4 881.9h0M602.5 878.9h0M530.1 870.0h0M599.3 878.5h0M549.9 865.7h0M542.0 862.5h0M529.0 876.7h0M516.0 860.5h0M497.5 877.4h0M506.4 875.0h0M527.4 879.8h0M577.7 865.0h0M556.6 861.8h0M566.9 887.3h0M547.4 879.8h0M567.1 864.0h0M560.2 860.0h0M537.3 864.8h0M552.1 866.4h0M591.9 863.8h0M573.4 865.1h0M522.7 904.5h0M565.9 861.6h0M543.2 861.0h0M494.7 875.9h0" stroke="#2ca02c" stroke-width="4.6" stroke-linecap="round" fill="none"/>
<path d="M649.7 832.5h0M657.0 817.5h0M636.4 836.9h0M626.1 827.7h0M614.5 832.6h0M619.6 834.1h0M619.4 827.3h0M624.3 832.7h0M623.5 836.3h0M660.4 839.1h0M611.2 820.9h0M665.2 838.8h0M646.8 835.8h0M633.0 837.9h0M611.1 832.7h0M660.1 834.3h0M639.1 843.7h0M637.4 841.5h0M611.1 838.2h0M648.3 836.6h0M633.5 836.1h0M639.5 841.9h0M612.4 831.0h0M610.3 842.2h0M658.3 839.8h0M646.5 823.5h0M660.0 835.4h0M610.1 837.4h0M610.1 828.8h0M642.1 841.9h0M615.0 821.2h0M649.4 834.2h0M633.2 821.8h0M639.4 830.9h0M621.7 827.2h0M656.0 837.0h0M616.7 838.1h0M660.7 829.4h0M659.8 840.7h0M630.5 835.8h0M651.1 833.9h0M612.0 839.5h0M632.5 812.4h0M620.6 841.4h0M626.2 834.9h0M635.5 829.4h0M620.3 835.3h0M654.5 816.5h0M643.5 839.8h0M664.5 833.1h0M646.4 835.8h0M638.2 835.5h0M624.6 840.2h0M618.1 835.7h0M614.4 827.6h0M627.6 823.3h0M631.3 826.0h0M656.6 838.8h0M651.6 832.3h0M612.4 830.7h0M623.8 827.5h0M638.9 840.0h0M620.0 837.6h0M611.4 843.7h0M665.2 841.7h0M612.3 837.0h0M613.5 837.6h0M657.9 837.3h0M664.8 812.6h0M660.3 834.8h0M618.5 834.7h0M652.3 836.1h0M626.4 841.9h0M652.0 828.5h0M639.7 842.6h0M661.0 836.8h0M649.8 831.7h0M646.3 832.6h0M655.1 837.4h0M622.5 832.1h0M636.4 841.8h0M614.4 841.7h0M663.8 839.8h0M640.7 843.7h0M615.2 825.7h0M630.4 841.7h0M645.9 843.5h0M623.2 836.8h0M630.7 839.8h0M641.6 836.7h0M618.7 842.7h0M659.9 820.4h0M623.0 838.3h0M616.5 835.3h0M615.2 840.7h0M657.3 842.0h0M612.5 831.2h0M610.7 833.4h0M653.2 825.9h0M640.1 836.3h0M663.9 835.5h0M617.5 840.5h0M653.0 834.2h0M629.9 824.7h0M659.9 835.2h0M611.1 817.3h0M614.8 833.7h0M615.0 830.0h0M619.9 830.4h0M650.8 836.2h0M611.8 841.3h0M620.3 819.2h0M652.9 827.8h0M629.0 830.4h0M655.1 834.4h0M654.5 820.1h0M646.9 841.0h0M625.2 833.1h0M622.9 840.1h0M640.2 841.5h0M663.4 834.9h0M652.3 834.7h0M643.3 834.1h0M657.4 823.7h0M623.1 833.1h0M641.4 838.0h0M646.4 820.9h0M647.6 842.4h0M632.3 816.9h0M609.3 831.3h0M664.8 836.5h0M609.3 840.2h0M613.6 870.3h0M635.1 856.1h0M647.7 866.7h0M647.9 856.2h0M634.0 856.1h0M635.3 862.6h0M636.4 895.5h0M627.4 881.1h0M625.4 862.4h0M648.6 858.7h0M657.8 861.5h0M620.6 890.4h0M660.9 862.2h0M643.0 855.6h0M627.0 860.3h0M609.2 862.0h0M633.2 883.3h0M663.5 857.6h0M640.3 897.3h0M664.1 870.4h0M615.6 858.3h0M628.5 867.2h0M620.9 873.8h0M623.8 872.2h0M643.9 855.5h0M627.4 857.8h0M650.3 871.7h0M637.4 867.3h0M617.3 868.4h0M614.1 879.9h0M648.1 881.7h0M632.1 859.9h0M663.3 875.2h0M619.8 878.2h0M615.1 857.0h0M646.0 858.4h0M643.6 854.8h0M625.9 867.9h0M619.0 874.3h0M649.6 862.8h0M641.1 871.5h0M648.7 873.8h0M656.8 873.6h0M641.9 859.3h0M665.2 856.4h0M634.5 876.5h0M659.1 865.0h0M655.7 860.8h0M656.3 894.3h0M619.0 865.8h0M642.5 878.1h0M625.5 884.7h0M665.4 859.9h0M613.7 868.4h0M626.5 873.7h0M637.1 860.2h0M637.7 871.4h0M628.2 854.9h0M630.1 863.3h0M664.0 857.9h0M609.6 861.1h0M647.2 858.6h0M659.3 872.2h0M622.3 881.4h0M655.1 891.7h0M630.8 862.9h0M659.1 856.9h0M639.0 856.6h0M616.6 883.5h0M644.3 856.2h0M633.1 870.2h0M612.3 867.9h0M661.3 867.7h0M616.8 864.1h0M646.9 872.3h0M634.1 861.4h0M610.0 856.9h0M615.0 859.9h0M641.7 864.6h0M661.6 865.4h0M620.6 912.7h0M632.2 897.4h0M651.0 868.6h0M644.1 870.2h0M655.4 869.0h0M609.9 864.8h0M611.3 868.9h0M629.7 894.1h0M642.2 881.9h0M613.3 878.4h0M640.2 865.9h0M630.5 867.4h0M621.6 875.5h0M632.9 866.9h0M611.3 872.8h0M645.1 866.2h0M616.3 857.8h0M629.1 872.5h0M609.7 869.6h0M662.9 858.4h0M656.2 859.9h0M639.4 856.1h0M620.0 870.9h0M614.2 891.4h0M638.2 868.8h0M616.8 875.0h0M625.4 898.2h0M634.4 869.4h0M624.7 877.0h0M654.6 856.1h0M632.4 874.9h0M620.1 857.0h0M648.9 870.7h0M644.4 877.8h0M614.0 862.9h0M627.7 860.0h0M610.0 872.6h0M657.6 870.8h0M614.6 878.3h0M655.4 855.1h0M640.8 857.4h0M631.7 868.6h0M643.5 859.2h0M649.1 867.5h0M610.9 854.6h0M631.1 858.1h0M628.6 866.4h0M622.0 858.8h0M615.2 870.8h0M638.8 858.1h0M653.4 862.1h0M613.7 864.8h0M622.0 891.0h0M630.7 861.0h0M664.2 888.2h0M636.5 862.6h0M617.6 860.4h0M623.4 871.8h0M614.5 880.0h0M621.3 862.4h0M650.1 860.6h0M618.7 867.5h0M621.8 877.3h0M629.3 854.4h0M650.3 879.1h0M655.5 860.7h0M644.1 872.8h0M648.4 874.5h0M622.2 867.7h0M656.7 885.4h0" stroke="#d62728" stroke-width="4.6" stroke-linecap="round" fill="none"/>
<path d="M377.0 837.8h0M399.0 863.5h0M460.0 880.6h0M466.0 897.1h0" stroke="#ff7f0e" stroke-width="4.6" stroke-linecap="round" fill="none"/>
<path d="M382.3 857.9h0M413.0 841.9h0M409.1 858.4h0M426.5 855.2h0M435.2 842.5h0M389.8 843.6h0M415.4 855.3h0M407.2 859.6h0M400.2 874.6h0M388.1 854.9h0M402.9 837.3h0M407.3 868.3h0M442.9 857.2h0M385.6 815.9h0M445.1 821.3h0M413.3 821.0h0M427.6 835.5h0M397.2 841.4h0M415.9 854.8h0M414.3 843.2h0M492.1 827.8h0M470.3 902.4h0M486.3 826.7h0M489.9 831.3h0M613.4 860.2h0M655.2 841.9h0M637.2 856.1h0" stroke="#2ca02c" stroke-width="4.6" stroke-linecap="round" fill="none"/>
<path d="M444.8 840.4h0M414.5 856.8h0M446.9 822.8h0M444.0 859.8h0M414.6 856.2h0M385.0 838.7h0M443.2 860.1h0M434.7 842.5h0M401.0 839.1h0M378.3 873.2h0M386.9 865.1h0M453.5 841.9h0M392.5 837.6h0M405.9 865.8h0M431.7 840.1h0M410.3 869.9h0M472.7 858.7h0M472.8 858.7h0M508.4 859.9h0M528.9 841.7h0M512.1 835.6h0M498.7 856.4h0M546.5 854.9h0M516.9 860.2h0M558.0 836.4h0M593.8 825.6h0M539.0 856.5h0M597.0 841.7h0M543.0 834.8h0M521.9 833.2h0M498.9 827.9h0M503.3 871.1h0" stroke="#d62728" stroke-width="4.6" stroke-linecap="round" fill="none"/>
<path d="M379.4 808.2h0M390.6 803.6h0M428.4 802.5h0M405.0 810.4h0M440.0 921.0h0M406.2 905.1h0M381.7 905.6h0M375.6 898.2h0" stroke="#1f77b4" stroke-width="4.6" stroke-linecap="round" fill="none"/>
<line x1="40.3" y1="850.0" x2="353.6" y2="850.0" stroke="#222" stroke-width="0.9" stroke-dasharray="2.4 1.5"/>
<line x1="363.6" y1="849.2" x2="677.8" y2="849.2" stroke="#222" stroke-width="0.9" stroke-dasharray="2.4 1.5"/>
<rect x="39.9" y="780.2" width="314.1" height="152.8" fill="none" stroke="#222" stroke-width="1"/>
<rect x="363.2" y="780.3" width="315.0" height="152.8" fill="none" stroke="#222" stroke-width="1"/>
<line x1="37.4" y1="794.0" x2="39.9" y2="794.0" stroke="#222" stroke-width="0.8"/>
<text x="34.8" y="796.8" font-size="8" text-anchor="end" fill="#222">10</text>
<line x1="360.7" y1="792.2" x2="363.2" y2="792.2" stroke="#222" stroke-width="0.8"/>
<line x1="37.4" y1="822.0" x2="39.9" y2="822.0" stroke="#222" stroke-width="0.8"/>
<text x="34.8" y="824.8" font-size="8" text-anchor="end" fill="#222">5</text>
<line x1="360.7" y1="820.7" x2="363.2" y2="820.7" stroke="#222" stroke-width="0.8"/>
<line x1="37.4" y1="850.0" x2="39.9" y2="850.0" stroke="#222" stroke-width="0.8"/>
<text x="34.8" y="852.8" font-size="8" text-anchor="end" fill="#222">0</text>
<line x1="360.7" y1="849.2" x2="363.2" y2="849.2" stroke="#222" stroke-width="0.8"/>
<line x1="37.4" y1="878.0" x2="39.9" y2="878.0" stroke="#222" stroke-width="0.8"/>
<text x="34.8" y="880.8" font-size="8" text-anchor="end" fill="#222">−5</text>
<line x1="360.7" y1="877.7" x2="363.2" y2="877.7" stroke="#222" stroke-width="0.8"/>
<line x1="37.4" y1="906.0" x2="39.9" y2="906.0" stroke="#222" stroke-width="0.8"/>
<text x="34.8" y="908.8" font-size="8" text-anchor="end" fill="#222">−10</text>
<line x1="360.7" y1="906.2" x2="363.2" y2="906.2" stroke="#222" stroke-width="0.8"/>
<rect x="54.2" y="933.4" width="286.0" height="2.6" fill="#000"/>
<line x1="378.0" y1="934.7" x2="664.0" y2="934.7" stroke="#333" stroke-width="2.6" stroke-dasharray="1.1 0.6"/>
<text x="43.3" y="790.9" font-size="11" fill="#222" textLength="25.6" lengthAdjust="spacingAndGlyphs">Yeast</text>
<text x="43.3" y="928.4" font-size="11" fill="#222" textLength="46.7" lengthAdjust="spacingAndGlyphs">Mycelium</text>
<text x="366.9" y="791.4" font-size="11" fill="#222" textLength="25.8" lengthAdjust="spacingAndGlyphs">Yeast</text>
<text x="366.9" y="928.4" font-size="11" fill="#222" textLength="46.7" lengthAdjust="spacingAndGlyphs">Mycelium</text>
<text x="188.8" y="944.7" font-size="10" text-anchor="middle" fill="#111" textLength="22.1" lengthAdjust="spacingAndGlyphs">GFID</text>
<text x="513.7" y="944.9" font-size="10" text-anchor="middle" fill="#111" textLength="24.7" lengthAdjust="spacingAndGlyphs">GFDP</text>
<text x="15.3" y="856.5" font-size="11" text-anchor="middle" fill="#111" textLength="31.7" lengthAdjust="spacingAndGlyphs" transform="rotate(-90 15.3 856.5)">log2FC</text>
<circle cx="132.3" cy="964.6" r="2.3" fill="#1f77b4"/>
<text x="149.5" y="968.4" font-size="10.3" fill="#111" textLength="184.7" lengthAdjust="spacingAndGlyphs">CELLULAR PROCESSES AND SIGNALING</text>
<circle cx="132.3" cy="978.3" r="2.3" fill="#ff7f0e"/>
<text x="149.5" y="982.1" font-size="10.3" fill="#111" textLength="196" lengthAdjust="spacingAndGlyphs">INFORMATION STORAGE AND PROCESSING</text>
<circle cx="399.9" cy="964.0" r="2.3" fill="#2ca02c"/>
<text x="417.6" y="967.8" font-size="10.3" fill="#111" textLength="60.4" lengthAdjust="spacingAndGlyphs">METABOLISM</text>
<circle cx="399.9" cy="977.4" r="2.3" fill="#d62728"/>
<text x="417.6" y="981.2" font-size="10.3" fill="#111" textLength="118.8" lengthAdjust="spacingAndGlyphs">POORLY CHARACTERIZED</text>
</svg></body></html>
